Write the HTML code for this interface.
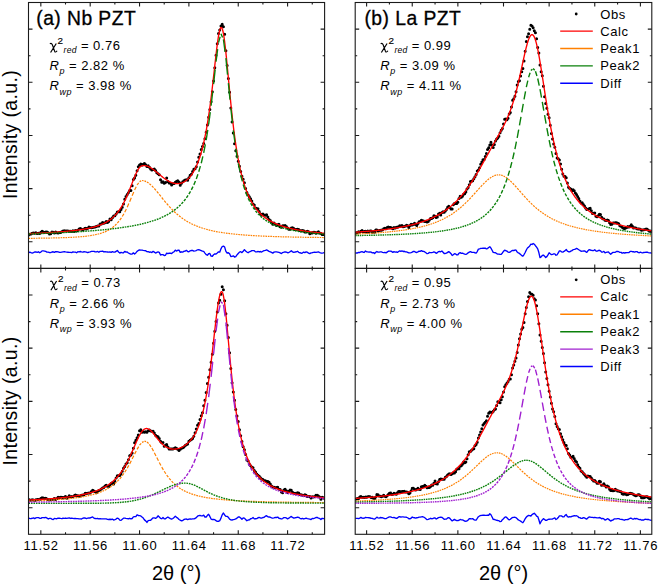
<!DOCTYPE html>
<html><head><meta charset="utf-8"><style>
html,body{margin:0;padding:0;background:#fff;width:660px;height:587px;overflow:hidden}
body{position:relative;font-family:"Liberation Sans", sans-serif}
</style></head><body>
<svg width="660" height="587" viewBox="0 0 660 587" style="position:absolute;left:0;top:0" font-family='"Liberation Sans", sans-serif' fill="#000">
<rect width="660" height="587" fill="#fff"/>
<clipPath id="c0"><rect x="28.5" y="2.5" width="296.10" height="265.90"/></clipPath>
<g clip-path="url(#c0)">
<path d="M27.00 235.12a1.5 1.5 0 1 0 3.0 0a1.5 1.5 0 1 0 -3.0 0M28.23 234.37a1.5 1.5 0 1 0 3.0 0a1.5 1.5 0 1 0 -3.0 0M29.47 233.94a1.5 1.5 0 1 0 3.0 0a1.5 1.5 0 1 0 -3.0 0M30.70 233.27a1.5 1.5 0 1 0 3.0 0a1.5 1.5 0 1 0 -3.0 0M31.93 233.00a1.5 1.5 0 1 0 3.0 0a1.5 1.5 0 1 0 -3.0 0M33.17 233.22a1.5 1.5 0 1 0 3.0 0a1.5 1.5 0 1 0 -3.0 0M34.40 232.82a1.5 1.5 0 1 0 3.0 0a1.5 1.5 0 1 0 -3.0 0M35.64 233.44a1.5 1.5 0 1 0 3.0 0a1.5 1.5 0 1 0 -3.0 0M36.87 233.30a1.5 1.5 0 1 0 3.0 0a1.5 1.5 0 1 0 -3.0 0M38.10 233.58a1.5 1.5 0 1 0 3.0 0a1.5 1.5 0 1 0 -3.0 0M39.34 232.35a1.5 1.5 0 1 0 3.0 0a1.5 1.5 0 1 0 -3.0 0M40.57 231.31a1.5 1.5 0 1 0 3.0 0a1.5 1.5 0 1 0 -3.0 0M41.81 231.94a1.5 1.5 0 1 0 3.0 0a1.5 1.5 0 1 0 -3.0 0M43.04 232.48a1.5 1.5 0 1 0 3.0 0a1.5 1.5 0 1 0 -3.0 0M44.27 231.91a1.5 1.5 0 1 0 3.0 0a1.5 1.5 0 1 0 -3.0 0M45.51 231.92a1.5 1.5 0 1 0 3.0 0a1.5 1.5 0 1 0 -3.0 0M46.74 232.69a1.5 1.5 0 1 0 3.0 0a1.5 1.5 0 1 0 -3.0 0M47.97 234.11a1.5 1.5 0 1 0 3.0 0a1.5 1.5 0 1 0 -3.0 0M49.21 233.77a1.5 1.5 0 1 0 3.0 0a1.5 1.5 0 1 0 -3.0 0M50.44 232.12a1.5 1.5 0 1 0 3.0 0a1.5 1.5 0 1 0 -3.0 0M51.67 232.32a1.5 1.5 0 1 0 3.0 0a1.5 1.5 0 1 0 -3.0 0M52.91 232.91a1.5 1.5 0 1 0 3.0 0a1.5 1.5 0 1 0 -3.0 0M54.14 231.98a1.5 1.5 0 1 0 3.0 0a1.5 1.5 0 1 0 -3.0 0M55.38 232.80a1.5 1.5 0 1 0 3.0 0a1.5 1.5 0 1 0 -3.0 0M56.61 232.90a1.5 1.5 0 1 0 3.0 0a1.5 1.5 0 1 0 -3.0 0M57.84 232.45a1.5 1.5 0 1 0 3.0 0a1.5 1.5 0 1 0 -3.0 0M59.08 232.50a1.5 1.5 0 1 0 3.0 0a1.5 1.5 0 1 0 -3.0 0M60.31 231.82a1.5 1.5 0 1 0 3.0 0a1.5 1.5 0 1 0 -3.0 0M61.55 231.10a1.5 1.5 0 1 0 3.0 0a1.5 1.5 0 1 0 -3.0 0M62.78 230.85a1.5 1.5 0 1 0 3.0 0a1.5 1.5 0 1 0 -3.0 0M64.01 231.03a1.5 1.5 0 1 0 3.0 0a1.5 1.5 0 1 0 -3.0 0M65.25 231.12a1.5 1.5 0 1 0 3.0 0a1.5 1.5 0 1 0 -3.0 0M66.48 231.11a1.5 1.5 0 1 0 3.0 0a1.5 1.5 0 1 0 -3.0 0M67.71 231.19a1.5 1.5 0 1 0 3.0 0a1.5 1.5 0 1 0 -3.0 0M68.95 231.25a1.5 1.5 0 1 0 3.0 0a1.5 1.5 0 1 0 -3.0 0M70.18 231.53a1.5 1.5 0 1 0 3.0 0a1.5 1.5 0 1 0 -3.0 0M71.41 230.78a1.5 1.5 0 1 0 3.0 0a1.5 1.5 0 1 0 -3.0 0M72.65 231.44a1.5 1.5 0 1 0 3.0 0a1.5 1.5 0 1 0 -3.0 0M73.88 230.41a1.5 1.5 0 1 0 3.0 0a1.5 1.5 0 1 0 -3.0 0M75.12 230.89a1.5 1.5 0 1 0 3.0 0a1.5 1.5 0 1 0 -3.0 0M76.35 230.31a1.5 1.5 0 1 0 3.0 0a1.5 1.5 0 1 0 -3.0 0M77.58 229.03a1.5 1.5 0 1 0 3.0 0a1.5 1.5 0 1 0 -3.0 0M78.82 228.57a1.5 1.5 0 1 0 3.0 0a1.5 1.5 0 1 0 -3.0 0M80.05 229.30a1.5 1.5 0 1 0 3.0 0a1.5 1.5 0 1 0 -3.0 0M81.29 229.93a1.5 1.5 0 1 0 3.0 0a1.5 1.5 0 1 0 -3.0 0M82.52 228.89a1.5 1.5 0 1 0 3.0 0a1.5 1.5 0 1 0 -3.0 0M83.75 228.37a1.5 1.5 0 1 0 3.0 0a1.5 1.5 0 1 0 -3.0 0M84.99 228.94a1.5 1.5 0 1 0 3.0 0a1.5 1.5 0 1 0 -3.0 0M86.22 228.34a1.5 1.5 0 1 0 3.0 0a1.5 1.5 0 1 0 -3.0 0M87.45 226.95a1.5 1.5 0 1 0 3.0 0a1.5 1.5 0 1 0 -3.0 0M88.69 227.47a1.5 1.5 0 1 0 3.0 0a1.5 1.5 0 1 0 -3.0 0M89.92 227.68a1.5 1.5 0 1 0 3.0 0a1.5 1.5 0 1 0 -3.0 0M91.15 227.59a1.5 1.5 0 1 0 3.0 0a1.5 1.5 0 1 0 -3.0 0M92.39 227.20a1.5 1.5 0 1 0 3.0 0a1.5 1.5 0 1 0 -3.0 0M93.62 226.89a1.5 1.5 0 1 0 3.0 0a1.5 1.5 0 1 0 -3.0 0M94.86 226.47a1.5 1.5 0 1 0 3.0 0a1.5 1.5 0 1 0 -3.0 0M96.09 226.03a1.5 1.5 0 1 0 3.0 0a1.5 1.5 0 1 0 -3.0 0M97.32 225.89a1.5 1.5 0 1 0 3.0 0a1.5 1.5 0 1 0 -3.0 0M98.56 223.97a1.5 1.5 0 1 0 3.0 0a1.5 1.5 0 1 0 -3.0 0M99.79 224.12a1.5 1.5 0 1 0 3.0 0a1.5 1.5 0 1 0 -3.0 0M101.03 222.46a1.5 1.5 0 1 0 3.0 0a1.5 1.5 0 1 0 -3.0 0M102.26 223.21a1.5 1.5 0 1 0 3.0 0a1.5 1.5 0 1 0 -3.0 0M103.49 222.82a1.5 1.5 0 1 0 3.0 0a1.5 1.5 0 1 0 -3.0 0M104.73 221.59a1.5 1.5 0 1 0 3.0 0a1.5 1.5 0 1 0 -3.0 0M105.96 222.59a1.5 1.5 0 1 0 3.0 0a1.5 1.5 0 1 0 -3.0 0M107.19 221.51a1.5 1.5 0 1 0 3.0 0a1.5 1.5 0 1 0 -3.0 0M108.43 218.93a1.5 1.5 0 1 0 3.0 0a1.5 1.5 0 1 0 -3.0 0M109.66 219.84a1.5 1.5 0 1 0 3.0 0a1.5 1.5 0 1 0 -3.0 0M110.89 217.83a1.5 1.5 0 1 0 3.0 0a1.5 1.5 0 1 0 -3.0 0M112.13 216.05a1.5 1.5 0 1 0 3.0 0a1.5 1.5 0 1 0 -3.0 0M113.36 215.77a1.5 1.5 0 1 0 3.0 0a1.5 1.5 0 1 0 -3.0 0M114.60 214.12a1.5 1.5 0 1 0 3.0 0a1.5 1.5 0 1 0 -3.0 0M115.83 211.95a1.5 1.5 0 1 0 3.0 0a1.5 1.5 0 1 0 -3.0 0M117.06 211.75a1.5 1.5 0 1 0 3.0 0a1.5 1.5 0 1 0 -3.0 0M118.30 211.65a1.5 1.5 0 1 0 3.0 0a1.5 1.5 0 1 0 -3.0 0M119.53 209.42a1.5 1.5 0 1 0 3.0 0a1.5 1.5 0 1 0 -3.0 0M120.77 207.27a1.5 1.5 0 1 0 3.0 0a1.5 1.5 0 1 0 -3.0 0M122.00 204.00a1.5 1.5 0 1 0 3.0 0a1.5 1.5 0 1 0 -3.0 0M123.23 199.31a1.5 1.5 0 1 0 3.0 0a1.5 1.5 0 1 0 -3.0 0M124.47 196.60a1.5 1.5 0 1 0 3.0 0a1.5 1.5 0 1 0 -3.0 0M125.70 194.56a1.5 1.5 0 1 0 3.0 0a1.5 1.5 0 1 0 -3.0 0M126.93 192.68a1.5 1.5 0 1 0 3.0 0a1.5 1.5 0 1 0 -3.0 0M128.17 190.46a1.5 1.5 0 1 0 3.0 0a1.5 1.5 0 1 0 -3.0 0M129.40 190.58a1.5 1.5 0 1 0 3.0 0a1.5 1.5 0 1 0 -3.0 0M130.63 185.73a1.5 1.5 0 1 0 3.0 0a1.5 1.5 0 1 0 -3.0 0M131.87 179.43a1.5 1.5 0 1 0 3.0 0a1.5 1.5 0 1 0 -3.0 0M133.10 177.88a1.5 1.5 0 1 0 3.0 0a1.5 1.5 0 1 0 -3.0 0M134.34 175.19a1.5 1.5 0 1 0 3.0 0a1.5 1.5 0 1 0 -3.0 0M135.57 170.76a1.5 1.5 0 1 0 3.0 0a1.5 1.5 0 1 0 -3.0 0M136.80 166.85a1.5 1.5 0 1 0 3.0 0a1.5 1.5 0 1 0 -3.0 0M138.04 164.97a1.5 1.5 0 1 0 3.0 0a1.5 1.5 0 1 0 -3.0 0M139.27 163.92a1.5 1.5 0 1 0 3.0 0a1.5 1.5 0 1 0 -3.0 0M140.51 164.88a1.5 1.5 0 1 0 3.0 0a1.5 1.5 0 1 0 -3.0 0M141.74 164.31a1.5 1.5 0 1 0 3.0 0a1.5 1.5 0 1 0 -3.0 0M142.97 163.43a1.5 1.5 0 1 0 3.0 0a1.5 1.5 0 1 0 -3.0 0M144.21 164.76a1.5 1.5 0 1 0 3.0 0a1.5 1.5 0 1 0 -3.0 0M145.44 166.59a1.5 1.5 0 1 0 3.0 0a1.5 1.5 0 1 0 -3.0 0M146.67 165.86a1.5 1.5 0 1 0 3.0 0a1.5 1.5 0 1 0 -3.0 0M147.91 167.15a1.5 1.5 0 1 0 3.0 0a1.5 1.5 0 1 0 -3.0 0M149.14 169.02a1.5 1.5 0 1 0 3.0 0a1.5 1.5 0 1 0 -3.0 0M150.37 170.10a1.5 1.5 0 1 0 3.0 0a1.5 1.5 0 1 0 -3.0 0M151.61 169.51a1.5 1.5 0 1 0 3.0 0a1.5 1.5 0 1 0 -3.0 0M152.84 169.12a1.5 1.5 0 1 0 3.0 0a1.5 1.5 0 1 0 -3.0 0M154.08 170.41a1.5 1.5 0 1 0 3.0 0a1.5 1.5 0 1 0 -3.0 0M155.31 172.77a1.5 1.5 0 1 0 3.0 0a1.5 1.5 0 1 0 -3.0 0M156.54 173.86a1.5 1.5 0 1 0 3.0 0a1.5 1.5 0 1 0 -3.0 0M157.78 174.69a1.5 1.5 0 1 0 3.0 0a1.5 1.5 0 1 0 -3.0 0M159.01 179.76a1.5 1.5 0 1 0 3.0 0a1.5 1.5 0 1 0 -3.0 0M160.25 182.28a1.5 1.5 0 1 0 3.0 0a1.5 1.5 0 1 0 -3.0 0M161.48 181.70a1.5 1.5 0 1 0 3.0 0a1.5 1.5 0 1 0 -3.0 0M162.71 183.28a1.5 1.5 0 1 0 3.0 0a1.5 1.5 0 1 0 -3.0 0M163.95 182.40a1.5 1.5 0 1 0 3.0 0a1.5 1.5 0 1 0 -3.0 0M165.18 178.00a1.5 1.5 0 1 0 3.0 0a1.5 1.5 0 1 0 -3.0 0M166.41 181.52a1.5 1.5 0 1 0 3.0 0a1.5 1.5 0 1 0 -3.0 0M167.65 183.11a1.5 1.5 0 1 0 3.0 0a1.5 1.5 0 1 0 -3.0 0M168.88 183.34a1.5 1.5 0 1 0 3.0 0a1.5 1.5 0 1 0 -3.0 0M170.11 184.88a1.5 1.5 0 1 0 3.0 0a1.5 1.5 0 1 0 -3.0 0M171.35 183.70a1.5 1.5 0 1 0 3.0 0a1.5 1.5 0 1 0 -3.0 0M172.58 183.42a1.5 1.5 0 1 0 3.0 0a1.5 1.5 0 1 0 -3.0 0M173.82 182.25a1.5 1.5 0 1 0 3.0 0a1.5 1.5 0 1 0 -3.0 0M175.05 181.60a1.5 1.5 0 1 0 3.0 0a1.5 1.5 0 1 0 -3.0 0M176.28 180.82a1.5 1.5 0 1 0 3.0 0a1.5 1.5 0 1 0 -3.0 0M177.52 181.99a1.5 1.5 0 1 0 3.0 0a1.5 1.5 0 1 0 -3.0 0M178.75 185.24a1.5 1.5 0 1 0 3.0 0a1.5 1.5 0 1 0 -3.0 0M179.99 183.30a1.5 1.5 0 1 0 3.0 0a1.5 1.5 0 1 0 -3.0 0M181.22 181.76a1.5 1.5 0 1 0 3.0 0a1.5 1.5 0 1 0 -3.0 0M182.45 180.86a1.5 1.5 0 1 0 3.0 0a1.5 1.5 0 1 0 -3.0 0M183.69 179.89a1.5 1.5 0 1 0 3.0 0a1.5 1.5 0 1 0 -3.0 0M184.92 179.85a1.5 1.5 0 1 0 3.0 0a1.5 1.5 0 1 0 -3.0 0M186.15 180.37a1.5 1.5 0 1 0 3.0 0a1.5 1.5 0 1 0 -3.0 0M187.39 177.69a1.5 1.5 0 1 0 3.0 0a1.5 1.5 0 1 0 -3.0 0M188.62 175.21a1.5 1.5 0 1 0 3.0 0a1.5 1.5 0 1 0 -3.0 0M189.85 174.29a1.5 1.5 0 1 0 3.0 0a1.5 1.5 0 1 0 -3.0 0M191.09 171.44a1.5 1.5 0 1 0 3.0 0a1.5 1.5 0 1 0 -3.0 0M192.32 169.19a1.5 1.5 0 1 0 3.0 0a1.5 1.5 0 1 0 -3.0 0M193.56 168.83a1.5 1.5 0 1 0 3.0 0a1.5 1.5 0 1 0 -3.0 0M194.79 166.86a1.5 1.5 0 1 0 3.0 0a1.5 1.5 0 1 0 -3.0 0M196.02 161.88a1.5 1.5 0 1 0 3.0 0a1.5 1.5 0 1 0 -3.0 0M197.26 157.25a1.5 1.5 0 1 0 3.0 0a1.5 1.5 0 1 0 -3.0 0M198.49 153.99a1.5 1.5 0 1 0 3.0 0a1.5 1.5 0 1 0 -3.0 0M199.73 149.47a1.5 1.5 0 1 0 3.0 0a1.5 1.5 0 1 0 -3.0 0M200.96 146.48a1.5 1.5 0 1 0 3.0 0a1.5 1.5 0 1 0 -3.0 0M202.19 143.44a1.5 1.5 0 1 0 3.0 0a1.5 1.5 0 1 0 -3.0 0M203.43 138.70a1.5 1.5 0 1 0 3.0 0a1.5 1.5 0 1 0 -3.0 0M204.66 132.23a1.5 1.5 0 1 0 3.0 0a1.5 1.5 0 1 0 -3.0 0M205.89 124.93a1.5 1.5 0 1 0 3.0 0a1.5 1.5 0 1 0 -3.0 0M207.13 117.36a1.5 1.5 0 1 0 3.0 0a1.5 1.5 0 1 0 -3.0 0M208.36 109.46a1.5 1.5 0 1 0 3.0 0a1.5 1.5 0 1 0 -3.0 0M209.59 101.68a1.5 1.5 0 1 0 3.0 0a1.5 1.5 0 1 0 -3.0 0M210.83 91.79a1.5 1.5 0 1 0 3.0 0a1.5 1.5 0 1 0 -3.0 0M212.06 81.07a1.5 1.5 0 1 0 3.0 0a1.5 1.5 0 1 0 -3.0 0M213.30 67.81a1.5 1.5 0 1 0 3.0 0a1.5 1.5 0 1 0 -3.0 0M214.53 55.15a1.5 1.5 0 1 0 3.0 0a1.5 1.5 0 1 0 -3.0 0M215.76 43.78a1.5 1.5 0 1 0 3.0 0a1.5 1.5 0 1 0 -3.0 0M217.00 33.41a1.5 1.5 0 1 0 3.0 0a1.5 1.5 0 1 0 -3.0 0M218.23 29.91a1.5 1.5 0 1 0 3.0 0a1.5 1.5 0 1 0 -3.0 0M219.47 26.08a1.5 1.5 0 1 0 3.0 0a1.5 1.5 0 1 0 -3.0 0M220.70 24.29a1.5 1.5 0 1 0 3.0 0a1.5 1.5 0 1 0 -3.0 0M221.93 26.72a1.5 1.5 0 1 0 3.0 0a1.5 1.5 0 1 0 -3.0 0M223.17 34.27a1.5 1.5 0 1 0 3.0 0a1.5 1.5 0 1 0 -3.0 0M224.40 50.74a1.5 1.5 0 1 0 3.0 0a1.5 1.5 0 1 0 -3.0 0M225.63 65.45a1.5 1.5 0 1 0 3.0 0a1.5 1.5 0 1 0 -3.0 0M226.87 78.43a1.5 1.5 0 1 0 3.0 0a1.5 1.5 0 1 0 -3.0 0M228.10 92.18a1.5 1.5 0 1 0 3.0 0a1.5 1.5 0 1 0 -3.0 0M229.33 107.90a1.5 1.5 0 1 0 3.0 0a1.5 1.5 0 1 0 -3.0 0M230.57 121.98a1.5 1.5 0 1 0 3.0 0a1.5 1.5 0 1 0 -3.0 0M231.80 133.07a1.5 1.5 0 1 0 3.0 0a1.5 1.5 0 1 0 -3.0 0M233.04 143.78a1.5 1.5 0 1 0 3.0 0a1.5 1.5 0 1 0 -3.0 0M234.27 150.64a1.5 1.5 0 1 0 3.0 0a1.5 1.5 0 1 0 -3.0 0M235.50 156.19a1.5 1.5 0 1 0 3.0 0a1.5 1.5 0 1 0 -3.0 0M236.74 161.35a1.5 1.5 0 1 0 3.0 0a1.5 1.5 0 1 0 -3.0 0M237.97 166.33a1.5 1.5 0 1 0 3.0 0a1.5 1.5 0 1 0 -3.0 0M239.21 171.55a1.5 1.5 0 1 0 3.0 0a1.5 1.5 0 1 0 -3.0 0M240.44 176.33a1.5 1.5 0 1 0 3.0 0a1.5 1.5 0 1 0 -3.0 0M241.67 179.35a1.5 1.5 0 1 0 3.0 0a1.5 1.5 0 1 0 -3.0 0M242.91 182.72a1.5 1.5 0 1 0 3.0 0a1.5 1.5 0 1 0 -3.0 0M244.14 188.39a1.5 1.5 0 1 0 3.0 0a1.5 1.5 0 1 0 -3.0 0M245.37 192.38a1.5 1.5 0 1 0 3.0 0a1.5 1.5 0 1 0 -3.0 0M246.61 195.07a1.5 1.5 0 1 0 3.0 0a1.5 1.5 0 1 0 -3.0 0M247.84 196.83a1.5 1.5 0 1 0 3.0 0a1.5 1.5 0 1 0 -3.0 0M249.07 198.64a1.5 1.5 0 1 0 3.0 0a1.5 1.5 0 1 0 -3.0 0M250.31 201.06a1.5 1.5 0 1 0 3.0 0a1.5 1.5 0 1 0 -3.0 0M251.54 203.97a1.5 1.5 0 1 0 3.0 0a1.5 1.5 0 1 0 -3.0 0M252.78 205.04a1.5 1.5 0 1 0 3.0 0a1.5 1.5 0 1 0 -3.0 0M254.01 208.00a1.5 1.5 0 1 0 3.0 0a1.5 1.5 0 1 0 -3.0 0M255.24 208.47a1.5 1.5 0 1 0 3.0 0a1.5 1.5 0 1 0 -3.0 0M256.48 208.76a1.5 1.5 0 1 0 3.0 0a1.5 1.5 0 1 0 -3.0 0M257.71 211.56a1.5 1.5 0 1 0 3.0 0a1.5 1.5 0 1 0 -3.0 0M258.95 214.07a1.5 1.5 0 1 0 3.0 0a1.5 1.5 0 1 0 -3.0 0M260.18 215.12a1.5 1.5 0 1 0 3.0 0a1.5 1.5 0 1 0 -3.0 0M261.41 214.05a1.5 1.5 0 1 0 3.0 0a1.5 1.5 0 1 0 -3.0 0M262.65 215.11a1.5 1.5 0 1 0 3.0 0a1.5 1.5 0 1 0 -3.0 0M263.88 215.20a1.5 1.5 0 1 0 3.0 0a1.5 1.5 0 1 0 -3.0 0M265.11 214.71a1.5 1.5 0 1 0 3.0 0a1.5 1.5 0 1 0 -3.0 0M266.35 216.99a1.5 1.5 0 1 0 3.0 0a1.5 1.5 0 1 0 -3.0 0M267.58 219.41a1.5 1.5 0 1 0 3.0 0a1.5 1.5 0 1 0 -3.0 0M268.81 220.57a1.5 1.5 0 1 0 3.0 0a1.5 1.5 0 1 0 -3.0 0M270.05 222.63a1.5 1.5 0 1 0 3.0 0a1.5 1.5 0 1 0 -3.0 0M271.28 224.15a1.5 1.5 0 1 0 3.0 0a1.5 1.5 0 1 0 -3.0 0M272.52 223.12a1.5 1.5 0 1 0 3.0 0a1.5 1.5 0 1 0 -3.0 0M273.75 224.36a1.5 1.5 0 1 0 3.0 0a1.5 1.5 0 1 0 -3.0 0M274.98 225.53a1.5 1.5 0 1 0 3.0 0a1.5 1.5 0 1 0 -3.0 0M276.22 224.68a1.5 1.5 0 1 0 3.0 0a1.5 1.5 0 1 0 -3.0 0M277.45 224.37a1.5 1.5 0 1 0 3.0 0a1.5 1.5 0 1 0 -3.0 0M278.69 226.73a1.5 1.5 0 1 0 3.0 0a1.5 1.5 0 1 0 -3.0 0M279.92 227.29a1.5 1.5 0 1 0 3.0 0a1.5 1.5 0 1 0 -3.0 0M281.15 225.67a1.5 1.5 0 1 0 3.0 0a1.5 1.5 0 1 0 -3.0 0M282.39 225.77a1.5 1.5 0 1 0 3.0 0a1.5 1.5 0 1 0 -3.0 0M283.62 225.55a1.5 1.5 0 1 0 3.0 0a1.5 1.5 0 1 0 -3.0 0M284.85 226.39a1.5 1.5 0 1 0 3.0 0a1.5 1.5 0 1 0 -3.0 0M286.09 227.97a1.5 1.5 0 1 0 3.0 0a1.5 1.5 0 1 0 -3.0 0M287.32 229.29a1.5 1.5 0 1 0 3.0 0a1.5 1.5 0 1 0 -3.0 0M288.55 229.32a1.5 1.5 0 1 0 3.0 0a1.5 1.5 0 1 0 -3.0 0M289.79 228.11a1.5 1.5 0 1 0 3.0 0a1.5 1.5 0 1 0 -3.0 0M291.02 227.84a1.5 1.5 0 1 0 3.0 0a1.5 1.5 0 1 0 -3.0 0M292.26 228.50a1.5 1.5 0 1 0 3.0 0a1.5 1.5 0 1 0 -3.0 0M293.49 229.38a1.5 1.5 0 1 0 3.0 0a1.5 1.5 0 1 0 -3.0 0M294.72 229.42a1.5 1.5 0 1 0 3.0 0a1.5 1.5 0 1 0 -3.0 0M295.96 229.24a1.5 1.5 0 1 0 3.0 0a1.5 1.5 0 1 0 -3.0 0M297.19 229.60a1.5 1.5 0 1 0 3.0 0a1.5 1.5 0 1 0 -3.0 0M298.43 230.45a1.5 1.5 0 1 0 3.0 0a1.5 1.5 0 1 0 -3.0 0M299.66 231.00a1.5 1.5 0 1 0 3.0 0a1.5 1.5 0 1 0 -3.0 0M300.89 230.59a1.5 1.5 0 1 0 3.0 0a1.5 1.5 0 1 0 -3.0 0M302.13 230.83a1.5 1.5 0 1 0 3.0 0a1.5 1.5 0 1 0 -3.0 0M303.36 231.96a1.5 1.5 0 1 0 3.0 0a1.5 1.5 0 1 0 -3.0 0M304.59 232.04a1.5 1.5 0 1 0 3.0 0a1.5 1.5 0 1 0 -3.0 0M305.83 231.26a1.5 1.5 0 1 0 3.0 0a1.5 1.5 0 1 0 -3.0 0M307.06 231.83a1.5 1.5 0 1 0 3.0 0a1.5 1.5 0 1 0 -3.0 0M308.29 233.80a1.5 1.5 0 1 0 3.0 0a1.5 1.5 0 1 0 -3.0 0M309.53 233.00a1.5 1.5 0 1 0 3.0 0a1.5 1.5 0 1 0 -3.0 0M310.76 232.91a1.5 1.5 0 1 0 3.0 0a1.5 1.5 0 1 0 -3.0 0M312.00 232.34a1.5 1.5 0 1 0 3.0 0a1.5 1.5 0 1 0 -3.0 0M313.23 232.28a1.5 1.5 0 1 0 3.0 0a1.5 1.5 0 1 0 -3.0 0M314.46 233.37a1.5 1.5 0 1 0 3.0 0a1.5 1.5 0 1 0 -3.0 0M315.70 232.50a1.5 1.5 0 1 0 3.0 0a1.5 1.5 0 1 0 -3.0 0M316.93 231.87a1.5 1.5 0 1 0 3.0 0a1.5 1.5 0 1 0 -3.0 0M318.17 233.01a1.5 1.5 0 1 0 3.0 0a1.5 1.5 0 1 0 -3.0 0M319.40 233.58a1.5 1.5 0 1 0 3.0 0a1.5 1.5 0 1 0 -3.0 0M320.63 234.38a1.5 1.5 0 1 0 3.0 0a1.5 1.5 0 1 0 -3.0 0M321.87 234.59a1.5 1.5 0 1 0 3.0 0a1.5 1.5 0 1 0 -3.0 0M323.10 234.32a1.5 1.5 0 1 0 3.0 0a1.5 1.5 0 1 0 -3.0 0" fill="#000"/>
<path d="M28.50 233.64L29.00 233.62L29.50 233.60L30.00 233.57L30.50 233.55L31.00 233.53L31.50 233.51L32.00 233.49L32.50 233.47L33.00 233.45L33.50 233.42L34.00 233.40L34.50 233.38L35.00 233.36L35.50 233.33L36.00 233.31L36.50 233.29L37.00 233.26L37.50 233.24L38.00 233.22L38.50 233.19L39.00 233.17L39.50 233.14L40.00 233.12L40.50 233.09L41.00 233.07L41.50 233.04L42.00 233.02L42.50 232.99L43.00 232.96L43.51 232.94L44.01 232.91L44.51 232.88L45.01 232.85L45.51 232.83L46.01 232.80L46.51 232.77L47.01 232.74L47.51 232.71L48.01 232.68L48.51 232.65L49.01 232.63L49.51 232.59L50.01 232.56L50.51 232.53L51.01 232.50L51.51 232.47L52.01 232.44L52.51 232.41L53.01 232.37L53.51 232.34L54.01 232.31L54.51 232.27L55.01 232.24L55.51 232.21L56.01 232.17L56.51 232.14L57.01 232.10L57.51 232.06L58.01 232.03L58.51 231.99L59.01 231.95L59.51 231.91L60.01 231.88L60.51 231.84L61.01 231.80L61.51 231.76L62.01 231.72L62.51 231.68L63.01 231.63L63.51 231.59L64.01 231.55L64.51 231.51L65.01 231.46L65.51 231.42L66.01 231.37L66.51 231.33L67.01 231.28L67.51 231.23L68.01 231.18L68.51 231.13L69.01 231.09L69.51 231.04L70.01 230.98L70.51 230.93L71.01 230.88L71.51 230.83L72.01 230.77L72.51 230.72L73.02 230.66L73.52 230.60L74.02 230.55L74.52 230.49L75.02 230.43L75.52 230.36L76.02 230.30L76.52 230.24L77.02 230.18L77.52 230.11L78.02 230.04L78.52 229.97L79.02 229.91L79.52 229.83L80.02 229.76L80.52 229.69L81.02 229.61L81.52 229.54L82.02 229.46L82.52 229.38L83.02 229.30L83.52 229.22L84.02 229.13L84.52 229.05L85.02 228.96L85.52 228.87L86.02 228.78L86.52 228.68L87.02 228.59L87.52 228.49L88.02 228.39L88.52 228.29L89.02 228.18L89.52 228.07L90.02 227.96L90.52 227.85L91.02 227.73L91.52 227.62L92.02 227.49L92.52 227.37L93.02 227.24L93.52 227.11L94.02 226.98L94.52 226.84L95.02 226.70L95.52 226.55L96.02 226.40L96.52 226.25L97.02 226.09L97.52 225.93L98.02 225.76L98.52 225.59L99.02 225.41L99.52 225.23L100.02 225.05L100.52 224.85L101.02 224.65L101.52 224.45L102.02 224.24L102.52 224.02L103.03 223.80L103.53 223.56L104.03 223.33L104.53 223.08L105.03 222.82L105.53 222.56L106.03 222.29L106.53 222.01L107.03 221.72L107.53 221.42L108.03 221.10L108.53 220.78L109.03 220.45L109.53 220.10L110.03 219.75L110.53 219.38L111.03 218.99L111.53 218.60L112.03 218.19L112.53 217.76L113.03 217.32L113.53 216.86L114.03 216.38L114.53 215.89L115.03 215.38L115.53 214.85L116.03 214.30L116.53 213.73L117.03 213.14L117.53 212.53L118.03 211.89L118.53 211.23L119.03 210.55L119.53 209.84L120.03 209.11L120.53 208.35L121.03 207.56L121.53 206.74L122.03 205.90L122.53 205.03L123.03 204.13L123.53 203.20L124.03 202.24L124.53 201.25L125.03 200.23L125.53 199.18L126.03 198.10L126.53 196.99L127.03 195.86L127.53 194.69L128.03 193.51L128.53 192.30L129.03 191.06L129.53 189.81L130.03 188.54L130.53 187.26L131.03 185.97L131.53 184.67L132.03 183.37L132.54 182.07L133.04 180.78L133.54 179.51L134.04 178.25L134.54 177.02L135.04 175.82L135.54 174.66L136.04 173.54L136.54 172.47L137.04 171.47L137.54 170.52L138.04 169.65L138.54 168.86L139.04 168.14L139.54 167.52L140.04 166.99L140.54 166.55L141.04 166.21L141.54 165.97L142.04 165.82L142.54 165.73L143.04 165.66L143.54 165.62L144.04 165.61L144.54 165.62L145.04 165.66L145.54 165.72L146.04 165.82L146.54 165.93L147.04 166.07L147.54 166.23L148.04 166.42L148.54 166.63L149.04 166.86L149.54 167.10L150.04 167.37L150.54 167.65L151.04 167.96L151.54 168.27L152.04 168.60L152.54 168.95L153.04 169.31L153.54 169.67L154.04 170.05L154.54 170.44L155.04 170.84L155.54 171.24L156.04 171.65L156.54 172.06L157.04 172.48L157.54 172.90L158.04 173.32L158.54 173.74L159.04 174.16L159.54 174.58L160.04 175.00L160.54 175.41L161.04 175.82L161.54 176.23L162.05 176.63L162.55 177.03L163.05 177.42L163.55 177.80L164.05 178.17L164.55 178.54L165.05 178.90L165.55 179.24L166.05 179.58L166.55 179.91L167.05 180.22L167.55 180.52L168.05 180.81L168.55 181.09L169.05 181.36L169.55 181.61L170.05 181.85L170.55 182.08L171.05 182.29L171.55 182.49L172.05 182.67L172.55 182.84L173.05 182.99L173.55 183.12L174.05 183.24L174.55 183.35L175.05 183.44L175.55 183.51L176.05 183.56L176.55 183.60L177.05 183.62L177.55 183.62L178.05 183.60L178.55 183.57L179.05 183.51L179.55 183.44L180.05 183.34L180.55 183.23L181.05 183.10L181.55 182.95L182.05 182.77L182.55 182.58L183.05 182.36L183.55 182.12L184.05 181.86L184.55 181.57L185.05 181.26L185.55 180.93L186.05 180.57L186.55 180.19L187.05 179.78L187.55 179.34L188.05 178.87L188.55 178.38L189.05 177.86L189.55 177.30L190.05 176.72L190.55 176.10L191.05 175.45L191.56 174.76L192.06 174.04L192.56 173.28L193.06 172.48L193.56 171.65L194.06 170.77L194.56 169.85L195.06 168.88L195.56 167.87L196.06 166.81L196.56 165.69L197.06 164.53L197.56 163.31L198.06 162.03L198.56 160.69L199.06 159.30L199.56 157.83L200.06 156.30L200.56 154.69L201.06 153.01L201.56 151.26L202.06 149.42L202.56 147.50L203.06 145.48L203.56 143.38L204.06 141.18L204.56 138.87L205.06 136.46L205.56 133.94L206.06 131.31L206.56 128.56L207.06 125.69L207.56 122.69L208.06 119.57L208.56 116.31L209.06 112.92L209.56 109.39L210.06 105.73L210.56 101.93L211.06 98.00L211.56 93.95L212.06 89.78L212.56 85.51L213.06 81.14L213.56 76.70L214.06 72.20L214.56 67.69L215.06 63.18L215.56 58.72L216.06 54.34L216.56 50.11L217.06 46.08L217.56 42.29L218.06 38.81L218.56 35.70L219.06 33.02L219.56 30.82L220.06 29.14L220.56 28.03L221.07 27.51L221.57 27.60L222.07 28.35L222.57 29.75L223.07 31.78L223.57 34.39L224.07 37.53L224.57 41.16L225.07 45.21L225.57 49.62L226.07 54.32L226.57 59.25L227.07 64.35L227.57 69.56L228.07 74.84L228.57 80.14L229.07 85.41L229.57 90.64L230.07 95.78L230.57 100.81L231.07 105.73L231.57 110.50L232.07 115.13L232.57 119.61L233.07 123.92L233.57 128.07L234.07 132.07L234.57 135.90L235.07 139.57L235.57 143.09L236.07 146.46L236.57 149.68L237.07 152.76L237.57 155.70L238.07 158.51L238.57 161.20L239.07 163.77L239.57 166.23L240.07 168.57L240.57 170.81L241.07 172.95L241.57 175.00L242.07 176.96L242.57 178.83L243.07 180.63L243.57 182.34L244.07 183.99L244.57 185.56L245.07 187.07L245.57 188.52L246.07 189.91L246.57 191.24L247.07 192.51L247.57 193.74L248.07 194.92L248.57 196.05L249.07 197.14L249.57 198.19L250.07 199.20L250.57 200.17L251.08 201.10L251.58 202.00L252.08 202.87L252.58 203.70L253.08 204.51L253.58 205.29L254.08 206.04L254.58 206.76L255.08 207.46L255.58 208.14L256.08 208.80L256.58 209.43L257.08 210.04L257.58 210.63L258.08 211.21L258.58 211.76L259.08 212.30L259.58 212.82L260.08 213.33L260.58 213.82L261.08 214.29L261.58 214.76L262.08 215.20L262.58 215.64L263.08 216.06L263.58 216.47L264.08 216.87L264.58 217.26L265.08 217.63L265.58 218.00L266.08 218.36L266.58 218.70L267.08 219.04L267.58 219.37L268.08 219.69L268.58 220.00L269.08 220.30L269.58 220.60L270.08 220.89L270.58 221.17L271.08 221.44L271.58 221.71L272.08 221.97L272.58 222.23L273.08 222.47L273.58 222.72L274.08 222.95L274.58 223.18L275.08 223.41L275.58 223.63L276.08 223.85L276.58 224.06L277.08 224.26L277.58 224.46L278.08 224.66L278.58 224.85L279.08 225.04L279.58 225.23L280.08 225.41L280.59 225.58L281.09 225.76L281.59 225.92L282.09 226.09L282.59 226.25L283.09 226.41L283.59 226.57L284.09 226.72L284.59 226.87L285.09 227.02L285.59 227.16L286.09 227.30L286.59 227.44L287.09 227.57L287.59 227.71L288.09 227.84L288.59 227.97L289.09 228.09L289.59 228.21L290.09 228.33L290.59 228.45L291.09 228.57L291.59 228.68L292.09 228.80L292.59 228.91L293.09 229.01L293.59 229.12L294.09 229.23L294.59 229.33L295.09 229.43L295.59 229.53L296.09 229.63L296.59 229.72L297.09 229.82L297.59 229.91L298.09 230.00L298.59 230.09L299.09 230.18L299.59 230.26L300.09 230.35L300.59 230.43L301.09 230.51L301.59 230.60L302.09 230.68L302.59 230.75L303.09 230.83L303.59 230.91L304.09 230.98L304.59 231.06L305.09 231.13L305.59 231.20L306.09 231.27L306.59 231.34L307.09 231.41L307.59 231.48L308.09 231.54L308.59 231.61L309.09 231.67L309.59 231.73L310.10 231.80L310.60 231.86L311.10 231.92L311.60 231.98L312.10 232.04L312.60 232.10L313.10 232.15L313.60 232.21L314.10 232.27L314.60 232.32L315.10 232.37L315.60 232.43L316.10 232.48L316.60 232.53L317.10 232.58L317.60 232.63L318.10 232.68L318.60 232.73L319.10 232.78L319.60 232.83L320.10 232.88L320.60 232.92L321.10 232.97L321.60 233.01L322.10 233.06L322.60 233.10L323.10 233.15L323.60 233.19L324.10 233.23L324.60 233.28" stroke="#ff0000" stroke-width="1.35" fill="none" stroke-linejoin="round"/>
<path d="M28.50 238.33L30.13 238.32M30.97 238.31L32.60 238.29M33.43 238.28L35.06 238.26M35.90 238.25L37.53 238.23M38.37 238.22L40.00 238.20M40.84 238.19L42.47 238.17M43.31 238.15L44.93 238.13M45.77 238.11L47.40 238.08M48.24 238.07L49.87 238.04M50.71 238.02L52.34 237.98M53.17 237.97L54.80 237.93M55.64 237.91L57.27 237.86M58.11 237.84L59.74 237.79M60.58 237.77L62.21 237.72M63.05 237.69L64.67 237.63M65.51 237.60L67.14 237.53M67.98 237.50L69.61 237.42M70.45 237.38L72.08 237.30M72.91 237.25L74.54 237.16M75.38 237.11L77.01 237.00M77.85 236.94L79.48 236.81M80.32 236.75L81.95 236.60M82.79 236.53L84.41 236.36M85.25 236.28L86.88 236.08M87.72 235.98L89.35 235.76M90.19 235.64L91.82 235.38M92.65 235.25L94.28 234.94M95.12 234.78L96.75 234.41M97.59 234.23L99.22 233.79M100.06 233.57L101.69 233.05M102.53 232.79L104.15 232.16M104.99 231.84L106.62 231.10M107.46 230.71L109.09 229.81M109.93 229.34L111.56 228.24M112.39 227.67L114.02 226.33M114.86 225.64L116.49 224.01M117.33 223.17L118.96 221.19M119.80 220.17L121.43 217.79M122.27 216.56L123.89 213.73M124.73 212.27L126.36 208.98M127.20 207.28L128.83 203.60M129.67 201.70L131.30 197.78M132.13 195.77L133.76 191.94M134.60 189.97L136.23 186.70M137.07 185.01L138.70 182.79M139.54 181.65L141.17 180.91M142.01 180.53L143.63 180.78M144.47 180.91L146.10 181.62M146.94 181.99L148.57 183.10M149.41 183.68L151.04 185.14M151.87 185.89L153.50 187.61M154.34 188.50L155.97 190.40M156.81 191.38L158.44 193.38M159.28 194.41L160.91 196.45M161.75 197.50L163.37 199.52M164.21 200.56L165.84 202.51M166.68 203.51L168.31 205.37M169.15 206.33L170.78 208.08M171.61 208.98L173.24 210.60M174.08 211.44L175.71 212.94M176.55 213.71L178.18 215.08M179.02 215.79L180.65 217.05M181.49 217.69L183.11 218.83M183.95 219.42L185.58 220.46M186.42 220.99L188.05 221.93M188.89 222.41L190.52 223.26M191.35 223.70L192.98 224.47M193.82 224.87L195.45 225.57M196.29 225.93L197.92 226.56M198.76 226.88L200.39 227.46M201.23 227.75L202.85 228.27M203.69 228.54L205.32 229.01M206.16 229.26L207.79 229.69M208.63 229.91L210.26 230.30M211.09 230.50L212.72 230.86M213.56 231.04L215.19 231.37M216.03 231.54L217.66 231.84M218.50 231.99L220.13 232.26M220.97 232.40L222.59 232.65M223.43 232.78L225.06 233.01M225.90 233.13L227.53 233.34M228.37 233.45L230.00 233.65M230.83 233.75L232.46 233.93M233.30 234.02L234.93 234.19M235.77 234.27L237.40 234.43M238.24 234.51L239.87 234.65M240.71 234.72L242.33 234.86M243.17 234.92L244.80 235.05M245.64 235.11L247.27 235.22M248.11 235.28L249.74 235.39M250.57 235.44L252.20 235.54M253.04 235.59L254.67 235.69M255.51 235.73L257.14 235.82M257.98 235.86L259.61 235.95M260.45 235.99L262.07 236.06M262.91 236.10L264.54 236.17M265.38 236.21L267.01 236.28M267.85 236.31L269.48 236.37M270.31 236.40L271.94 236.46M272.78 236.49L274.41 236.55M275.25 236.58L276.88 236.63M277.72 236.66L279.35 236.70M280.19 236.73L281.81 236.78M282.65 236.80L284.28 236.84M285.12 236.86L286.75 236.91M287.59 236.93L289.22 236.97M290.05 236.99L291.68 237.02M292.52 237.04L294.15 237.08M294.99 237.09L296.62 237.13M297.46 237.14L299.09 237.18M299.93 237.19L301.55 237.22M302.39 237.24L304.02 237.26M304.86 237.28L306.49 237.31M307.33 237.32L308.96 237.34M309.79 237.36L311.42 237.38M312.26 237.39L313.89 237.42M314.73 237.43L316.36 237.45M317.20 237.46L318.83 237.48M319.67 237.49L321.29 237.51M322.13 237.52L323.76 237.54" stroke="#ff8000" stroke-width="1.2" fill="none"/>
<path d="M28.50 233.98L30.13 233.93M30.97 233.90L32.60 233.85M33.43 233.82L35.06 233.76M35.90 233.73L37.53 233.67M38.37 233.64L40.00 233.58M40.84 233.55L42.47 233.49M43.31 233.46L44.93 233.40M45.77 233.36L47.40 233.30M48.24 233.26L49.87 233.20M50.71 233.16L52.34 233.09M53.17 233.06L54.80 232.98M55.64 232.95L57.27 232.87M58.11 232.83L59.74 232.76M60.58 232.72L62.21 232.64M63.05 232.59L64.67 232.51M65.51 232.47L67.14 232.38M67.98 232.34L69.61 232.25M70.45 232.20L72.08 232.11M72.91 232.06L74.54 231.97M75.38 231.92L77.01 231.82M77.85 231.77L79.48 231.66M80.32 231.61L81.95 231.50M82.79 231.45L84.41 231.33M85.25 231.28L86.88 231.16M87.72 231.10L89.35 230.98M90.19 230.91L91.82 230.79M92.65 230.72L94.28 230.59M95.12 230.52L96.75 230.38M97.59 230.31L99.22 230.16M100.06 230.09L101.69 229.94M102.53 229.86L104.15 229.70M104.99 229.62L106.62 229.45M107.46 229.36L109.09 229.19M109.93 229.10L111.56 228.91M112.39 228.82L114.02 228.63M114.86 228.53L116.49 228.32M117.33 228.22L118.96 228.00M119.80 227.89L121.43 227.66M122.27 227.54L123.89 227.30M124.73 227.18L126.36 226.92M127.20 226.79L128.83 226.52M129.67 226.38L131.30 226.09M132.13 225.95L133.76 225.64M134.60 225.48L136.23 225.16M137.07 224.99L138.70 224.64M139.54 224.46L141.17 224.09M142.01 223.90L143.63 223.50M144.47 223.29L146.10 222.87M146.94 222.64L148.57 222.18M149.41 221.94L151.04 221.45M151.87 221.19L153.50 220.65M154.34 220.37L155.97 219.79M156.81 219.49L158.44 218.85M159.28 218.52L160.91 217.83M161.75 217.47L163.37 216.71M164.21 216.32L165.84 215.48M166.68 215.05L168.31 214.13M169.15 213.66L170.78 212.63M171.61 212.11L173.24 210.97M174.08 210.38L175.71 209.11M176.55 208.46L178.18 207.03M179.02 206.29L180.65 204.68M181.49 203.84L183.11 202.00M183.95 201.06L185.58 198.95M186.42 197.86L188.05 195.43M188.89 194.18L190.52 191.35M191.35 189.90L192.98 186.58M193.82 184.87L195.45 180.94M196.29 178.92L197.92 174.23M198.76 171.81L200.39 166.15M201.23 163.24L202.85 156.35M203.69 152.81L205.32 144.40M206.16 140.06L207.79 129.79M208.63 124.50L210.26 112.15M211.09 105.78L212.72 91.54M213.56 84.20L215.19 69.31M216.03 61.64L217.66 49.10M218.50 42.64L220.13 36.74M220.97 33.70L222.59 37.45M223.43 39.39L225.06 51.76M225.90 58.13L227.53 74.61M228.37 83.10L230.00 99.69M230.83 108.23L232.46 122.85M233.30 130.39L234.93 142.48M235.77 148.71L237.40 158.43M238.24 163.44L239.87 171.20M240.71 175.19L242.33 181.39M243.17 184.58L244.80 189.55M245.64 192.12L247.27 196.15M248.11 198.23L249.74 201.54M250.57 203.24L252.20 205.97M253.04 207.38L254.67 209.66M255.51 210.83L257.14 212.75M257.98 213.74L259.61 215.37M260.45 216.21L262.07 217.61M262.91 218.33L264.54 219.53M265.38 220.15L267.01 221.20M267.85 221.73L269.48 222.65M270.31 223.12L271.94 223.92M272.78 224.33L274.41 225.04M275.25 225.41L276.88 226.03M277.72 226.36L279.35 226.92M280.19 227.21L281.81 227.71M282.65 227.97L284.28 228.42M285.12 228.65L286.75 229.06M287.59 229.27L289.22 229.64M290.05 229.83L291.68 230.16M292.52 230.34L294.15 230.64M294.99 230.80L296.62 231.08M297.46 231.22L299.09 231.48M299.93 231.61L301.55 231.84M302.39 231.97L304.02 232.18M304.86 232.29L306.49 232.49M307.33 232.60L308.96 232.78M309.79 232.88L311.42 233.05M312.26 233.14L313.89 233.29M314.73 233.38L316.36 233.52M317.20 233.60L318.83 233.74M319.67 233.81L321.29 233.94M322.13 234.00L323.76 234.13" stroke="#0a800a" stroke-width="1.4" fill="none"/>
<path d="M28.50 252.78L29.73 252.19L30.97 252.72L32.20 253.08L33.43 252.67L34.67 251.98L35.90 251.85L37.14 252.28L38.37 251.80L39.60 252.71L40.84 252.09L42.07 250.87L43.31 250.90L44.54 251.08L45.77 251.41L47.01 252.20L48.24 252.18L49.47 252.54L50.71 252.60L51.94 251.98L53.17 251.78L54.41 252.29L55.64 251.60L56.88 251.71L58.11 251.94L59.34 252.22L60.58 252.32L61.81 252.05L63.05 251.83L64.28 251.65L65.51 251.95L66.75 252.12L67.98 252.22L69.21 252.37L70.45 252.44L71.68 252.65L72.91 251.94L74.15 252.15L75.38 252.09L76.62 252.78L77.85 251.76L79.08 251.81L80.32 251.49L81.55 251.80L82.79 252.05L84.02 251.76L85.25 251.85L86.49 252.10L87.72 252.63L88.95 252.12L90.19 251.82L91.42 251.41L92.65 251.38L93.89 251.40L95.12 251.77L96.36 251.91L97.59 251.46L98.82 252.22L100.06 251.44L101.29 251.45L102.53 251.06L103.76 251.90L104.99 251.70L106.23 251.87L107.46 252.00L108.69 252.11L109.93 251.86L111.16 252.37L112.39 251.68L113.63 252.16L114.86 252.17L116.10 251.32L117.33 250.54L118.56 251.97L119.80 253.12L121.03 252.35L122.27 252.71L123.50 252.80L124.73 251.42L125.97 252.19L127.20 251.96L128.43 252.97L129.67 253.69L130.90 254.20L132.13 254.01L133.37 252.87L134.60 253.96L135.84 252.92L137.07 251.38L138.30 250.46L139.54 250.00L140.77 250.20L142.01 250.16L143.24 250.39L144.47 250.58L145.71 250.72L146.94 251.59L148.17 251.73L149.41 252.24L150.64 252.00L151.87 252.51L153.11 251.37L154.34 252.14L155.58 253.04L156.81 252.35L158.04 251.84L159.28 252.34L160.51 254.97L161.75 254.67L162.98 254.60L164.21 255.47L165.45 255.27L166.68 253.20L167.91 253.71L169.15 253.23L170.38 253.09L171.61 253.52L172.85 252.44L174.08 251.71L175.32 250.13L176.55 251.07L177.78 250.22L179.02 250.16L180.25 252.37L181.49 251.78L182.72 252.12L183.95 251.26L185.19 251.14L186.42 250.36L187.65 251.50L188.89 251.73L190.12 250.82L191.35 250.50L192.59 250.40L193.82 251.05L195.06 250.88L196.29 250.54L197.52 249.79L198.76 249.56L199.99 250.05L201.23 250.57L202.46 251.15L203.69 251.43L204.93 253.12L206.16 254.60L207.39 255.25L208.63 253.71L209.86 253.44L211.09 256.20L212.33 256.26L213.56 254.72L214.80 253.92L216.03 253.97L217.26 252.98L218.50 251.86L219.73 252.16L220.97 248.85L222.20 246.55L223.43 246.14L224.67 247.08L225.90 251.36L227.13 252.98L228.37 252.74L229.60 253.84L230.83 256.50L232.07 256.31L233.30 255.85L234.54 257.09L235.77 256.62L237.00 254.94L238.24 253.45L239.47 252.13L240.71 251.71L241.94 252.58L243.17 251.26L244.41 249.63L245.64 250.95L246.87 252.03L248.11 252.76L249.34 251.83L250.57 251.37L251.81 250.63L253.04 250.62L254.28 250.66L255.51 251.89L256.74 251.90L257.98 251.49L259.21 251.97L260.45 251.50L261.68 252.05L262.91 251.19L264.15 250.62L265.38 250.33L266.61 249.88L267.85 250.62L269.08 251.36L270.31 251.79L271.55 252.32L272.78 253.10L274.02 252.10L275.25 251.86L276.48 251.81L277.72 252.11L278.95 252.38L280.19 252.90L281.42 253.53L282.65 252.53L283.89 252.20L285.12 251.82L286.35 252.22L287.59 252.72L288.82 252.58L290.05 251.68L291.29 250.78L292.52 251.87L293.76 252.28L294.99 252.15L296.22 251.76L297.46 251.25L298.69 252.37L299.93 252.75L301.16 253.21L302.39 253.10L303.63 252.09L304.86 252.57L306.09 251.93L307.33 252.17L308.56 253.11L309.79 253.60L311.03 252.94L312.26 252.72L313.50 252.34L314.73 252.14L315.96 252.40L317.20 252.09L318.43 251.84L319.67 252.53L320.90 252.98L322.13 253.15L323.37 252.92L324.60 252.44" stroke="#0000ff" stroke-width="1.35" fill="none" stroke-linejoin="round"/>
</g>
<clipPath id="c1"><rect x="355.2" y="2.5" width="296.60" height="265.90"/></clipPath>
<g clip-path="url(#c1)">
<path d="M353.70 233.40a1.5 1.5 0 1 0 3.0 0a1.5 1.5 0 1 0 -3.0 0M354.84 232.87a1.5 1.5 0 1 0 3.0 0a1.5 1.5 0 1 0 -3.0 0M355.98 232.73a1.5 1.5 0 1 0 3.0 0a1.5 1.5 0 1 0 -3.0 0M357.12 231.63a1.5 1.5 0 1 0 3.0 0a1.5 1.5 0 1 0 -3.0 0M358.26 231.91a1.5 1.5 0 1 0 3.0 0a1.5 1.5 0 1 0 -3.0 0M359.40 231.25a1.5 1.5 0 1 0 3.0 0a1.5 1.5 0 1 0 -3.0 0M360.54 230.60a1.5 1.5 0 1 0 3.0 0a1.5 1.5 0 1 0 -3.0 0M361.69 231.76a1.5 1.5 0 1 0 3.0 0a1.5 1.5 0 1 0 -3.0 0M362.83 231.52a1.5 1.5 0 1 0 3.0 0a1.5 1.5 0 1 0 -3.0 0M363.97 231.25a1.5 1.5 0 1 0 3.0 0a1.5 1.5 0 1 0 -3.0 0M365.11 232.06a1.5 1.5 0 1 0 3.0 0a1.5 1.5 0 1 0 -3.0 0M366.25 231.08a1.5 1.5 0 1 0 3.0 0a1.5 1.5 0 1 0 -3.0 0M367.39 231.94a1.5 1.5 0 1 0 3.0 0a1.5 1.5 0 1 0 -3.0 0M368.53 230.97a1.5 1.5 0 1 0 3.0 0a1.5 1.5 0 1 0 -3.0 0M369.67 231.11a1.5 1.5 0 1 0 3.0 0a1.5 1.5 0 1 0 -3.0 0M370.81 232.13a1.5 1.5 0 1 0 3.0 0a1.5 1.5 0 1 0 -3.0 0M371.95 231.67a1.5 1.5 0 1 0 3.0 0a1.5 1.5 0 1 0 -3.0 0M373.09 232.15a1.5 1.5 0 1 0 3.0 0a1.5 1.5 0 1 0 -3.0 0M374.23 229.93a1.5 1.5 0 1 0 3.0 0a1.5 1.5 0 1 0 -3.0 0M375.37 229.98a1.5 1.5 0 1 0 3.0 0a1.5 1.5 0 1 0 -3.0 0M376.52 231.09a1.5 1.5 0 1 0 3.0 0a1.5 1.5 0 1 0 -3.0 0M377.66 230.49a1.5 1.5 0 1 0 3.0 0a1.5 1.5 0 1 0 -3.0 0M378.80 230.25a1.5 1.5 0 1 0 3.0 0a1.5 1.5 0 1 0 -3.0 0M379.94 230.33a1.5 1.5 0 1 0 3.0 0a1.5 1.5 0 1 0 -3.0 0M381.08 229.81a1.5 1.5 0 1 0 3.0 0a1.5 1.5 0 1 0 -3.0 0M382.22 228.75a1.5 1.5 0 1 0 3.0 0a1.5 1.5 0 1 0 -3.0 0M383.36 228.17a1.5 1.5 0 1 0 3.0 0a1.5 1.5 0 1 0 -3.0 0M384.50 228.68a1.5 1.5 0 1 0 3.0 0a1.5 1.5 0 1 0 -3.0 0M385.64 227.46a1.5 1.5 0 1 0 3.0 0a1.5 1.5 0 1 0 -3.0 0M386.78 227.00a1.5 1.5 0 1 0 3.0 0a1.5 1.5 0 1 0 -3.0 0M387.92 227.41a1.5 1.5 0 1 0 3.0 0a1.5 1.5 0 1 0 -3.0 0M389.06 227.56a1.5 1.5 0 1 0 3.0 0a1.5 1.5 0 1 0 -3.0 0M390.20 228.12a1.5 1.5 0 1 0 3.0 0a1.5 1.5 0 1 0 -3.0 0M391.35 228.71a1.5 1.5 0 1 0 3.0 0a1.5 1.5 0 1 0 -3.0 0M392.49 227.62a1.5 1.5 0 1 0 3.0 0a1.5 1.5 0 1 0 -3.0 0M393.63 228.02a1.5 1.5 0 1 0 3.0 0a1.5 1.5 0 1 0 -3.0 0M394.77 227.35a1.5 1.5 0 1 0 3.0 0a1.5 1.5 0 1 0 -3.0 0M395.91 227.29a1.5 1.5 0 1 0 3.0 0a1.5 1.5 0 1 0 -3.0 0M397.05 226.64a1.5 1.5 0 1 0 3.0 0a1.5 1.5 0 1 0 -3.0 0M398.19 225.83a1.5 1.5 0 1 0 3.0 0a1.5 1.5 0 1 0 -3.0 0M399.33 225.91a1.5 1.5 0 1 0 3.0 0a1.5 1.5 0 1 0 -3.0 0M400.47 225.38a1.5 1.5 0 1 0 3.0 0a1.5 1.5 0 1 0 -3.0 0M401.61 226.75a1.5 1.5 0 1 0 3.0 0a1.5 1.5 0 1 0 -3.0 0M402.75 226.43a1.5 1.5 0 1 0 3.0 0a1.5 1.5 0 1 0 -3.0 0M403.89 226.02a1.5 1.5 0 1 0 3.0 0a1.5 1.5 0 1 0 -3.0 0M405.03 225.32a1.5 1.5 0 1 0 3.0 0a1.5 1.5 0 1 0 -3.0 0M406.18 225.68a1.5 1.5 0 1 0 3.0 0a1.5 1.5 0 1 0 -3.0 0M407.32 227.42a1.5 1.5 0 1 0 3.0 0a1.5 1.5 0 1 0 -3.0 0M408.46 225.61a1.5 1.5 0 1 0 3.0 0a1.5 1.5 0 1 0 -3.0 0M409.60 224.20a1.5 1.5 0 1 0 3.0 0a1.5 1.5 0 1 0 -3.0 0M410.74 225.10a1.5 1.5 0 1 0 3.0 0a1.5 1.5 0 1 0 -3.0 0M411.88 224.34a1.5 1.5 0 1 0 3.0 0a1.5 1.5 0 1 0 -3.0 0M413.02 223.30a1.5 1.5 0 1 0 3.0 0a1.5 1.5 0 1 0 -3.0 0M414.16 224.46a1.5 1.5 0 1 0 3.0 0a1.5 1.5 0 1 0 -3.0 0M415.30 225.48a1.5 1.5 0 1 0 3.0 0a1.5 1.5 0 1 0 -3.0 0M416.44 223.52a1.5 1.5 0 1 0 3.0 0a1.5 1.5 0 1 0 -3.0 0M417.58 221.84a1.5 1.5 0 1 0 3.0 0a1.5 1.5 0 1 0 -3.0 0M418.72 221.40a1.5 1.5 0 1 0 3.0 0a1.5 1.5 0 1 0 -3.0 0M419.86 220.31a1.5 1.5 0 1 0 3.0 0a1.5 1.5 0 1 0 -3.0 0M421.01 220.85a1.5 1.5 0 1 0 3.0 0a1.5 1.5 0 1 0 -3.0 0M422.15 220.97a1.5 1.5 0 1 0 3.0 0a1.5 1.5 0 1 0 -3.0 0M423.29 221.45a1.5 1.5 0 1 0 3.0 0a1.5 1.5 0 1 0 -3.0 0M424.43 221.32a1.5 1.5 0 1 0 3.0 0a1.5 1.5 0 1 0 -3.0 0M425.57 221.96a1.5 1.5 0 1 0 3.0 0a1.5 1.5 0 1 0 -3.0 0M426.71 221.55a1.5 1.5 0 1 0 3.0 0a1.5 1.5 0 1 0 -3.0 0M427.85 219.97a1.5 1.5 0 1 0 3.0 0a1.5 1.5 0 1 0 -3.0 0M428.99 218.39a1.5 1.5 0 1 0 3.0 0a1.5 1.5 0 1 0 -3.0 0M430.13 218.48a1.5 1.5 0 1 0 3.0 0a1.5 1.5 0 1 0 -3.0 0M431.27 217.85a1.5 1.5 0 1 0 3.0 0a1.5 1.5 0 1 0 -3.0 0M432.41 215.71a1.5 1.5 0 1 0 3.0 0a1.5 1.5 0 1 0 -3.0 0M433.55 216.16a1.5 1.5 0 1 0 3.0 0a1.5 1.5 0 1 0 -3.0 0M434.69 217.41a1.5 1.5 0 1 0 3.0 0a1.5 1.5 0 1 0 -3.0 0M435.84 217.01a1.5 1.5 0 1 0 3.0 0a1.5 1.5 0 1 0 -3.0 0M436.98 214.07a1.5 1.5 0 1 0 3.0 0a1.5 1.5 0 1 0 -3.0 0M438.12 213.35a1.5 1.5 0 1 0 3.0 0a1.5 1.5 0 1 0 -3.0 0M439.26 214.96a1.5 1.5 0 1 0 3.0 0a1.5 1.5 0 1 0 -3.0 0M440.40 212.38a1.5 1.5 0 1 0 3.0 0a1.5 1.5 0 1 0 -3.0 0M441.54 211.69a1.5 1.5 0 1 0 3.0 0a1.5 1.5 0 1 0 -3.0 0M442.68 212.18a1.5 1.5 0 1 0 3.0 0a1.5 1.5 0 1 0 -3.0 0M443.82 211.11a1.5 1.5 0 1 0 3.0 0a1.5 1.5 0 1 0 -3.0 0M444.96 209.48a1.5 1.5 0 1 0 3.0 0a1.5 1.5 0 1 0 -3.0 0M446.10 207.16a1.5 1.5 0 1 0 3.0 0a1.5 1.5 0 1 0 -3.0 0M447.24 206.26a1.5 1.5 0 1 0 3.0 0a1.5 1.5 0 1 0 -3.0 0M448.38 207.52a1.5 1.5 0 1 0 3.0 0a1.5 1.5 0 1 0 -3.0 0M449.52 209.07a1.5 1.5 0 1 0 3.0 0a1.5 1.5 0 1 0 -3.0 0M450.67 209.03a1.5 1.5 0 1 0 3.0 0a1.5 1.5 0 1 0 -3.0 0M451.81 204.71a1.5 1.5 0 1 0 3.0 0a1.5 1.5 0 1 0 -3.0 0M452.95 203.47a1.5 1.5 0 1 0 3.0 0a1.5 1.5 0 1 0 -3.0 0M454.09 203.62a1.5 1.5 0 1 0 3.0 0a1.5 1.5 0 1 0 -3.0 0M455.23 203.57a1.5 1.5 0 1 0 3.0 0a1.5 1.5 0 1 0 -3.0 0M456.37 202.32a1.5 1.5 0 1 0 3.0 0a1.5 1.5 0 1 0 -3.0 0M457.51 198.51a1.5 1.5 0 1 0 3.0 0a1.5 1.5 0 1 0 -3.0 0M458.65 196.34a1.5 1.5 0 1 0 3.0 0a1.5 1.5 0 1 0 -3.0 0M459.79 197.25a1.5 1.5 0 1 0 3.0 0a1.5 1.5 0 1 0 -3.0 0M460.93 196.33a1.5 1.5 0 1 0 3.0 0a1.5 1.5 0 1 0 -3.0 0M462.07 194.19a1.5 1.5 0 1 0 3.0 0a1.5 1.5 0 1 0 -3.0 0M463.21 193.64a1.5 1.5 0 1 0 3.0 0a1.5 1.5 0 1 0 -3.0 0M464.35 192.08a1.5 1.5 0 1 0 3.0 0a1.5 1.5 0 1 0 -3.0 0M465.50 188.97a1.5 1.5 0 1 0 3.0 0a1.5 1.5 0 1 0 -3.0 0M466.64 187.62a1.5 1.5 0 1 0 3.0 0a1.5 1.5 0 1 0 -3.0 0M467.78 184.68a1.5 1.5 0 1 0 3.0 0a1.5 1.5 0 1 0 -3.0 0M468.92 181.41a1.5 1.5 0 1 0 3.0 0a1.5 1.5 0 1 0 -3.0 0M470.06 181.37a1.5 1.5 0 1 0 3.0 0a1.5 1.5 0 1 0 -3.0 0M471.20 180.67a1.5 1.5 0 1 0 3.0 0a1.5 1.5 0 1 0 -3.0 0M472.34 178.67a1.5 1.5 0 1 0 3.0 0a1.5 1.5 0 1 0 -3.0 0M473.48 176.78a1.5 1.5 0 1 0 3.0 0a1.5 1.5 0 1 0 -3.0 0M474.62 174.49a1.5 1.5 0 1 0 3.0 0a1.5 1.5 0 1 0 -3.0 0M475.76 170.91a1.5 1.5 0 1 0 3.0 0a1.5 1.5 0 1 0 -3.0 0M476.90 169.94a1.5 1.5 0 1 0 3.0 0a1.5 1.5 0 1 0 -3.0 0M478.04 167.78a1.5 1.5 0 1 0 3.0 0a1.5 1.5 0 1 0 -3.0 0M479.18 164.14a1.5 1.5 0 1 0 3.0 0a1.5 1.5 0 1 0 -3.0 0M480.33 162.10a1.5 1.5 0 1 0 3.0 0a1.5 1.5 0 1 0 -3.0 0M481.47 159.86a1.5 1.5 0 1 0 3.0 0a1.5 1.5 0 1 0 -3.0 0M482.61 159.39a1.5 1.5 0 1 0 3.0 0a1.5 1.5 0 1 0 -3.0 0M483.75 156.45a1.5 1.5 0 1 0 3.0 0a1.5 1.5 0 1 0 -3.0 0M484.89 153.44a1.5 1.5 0 1 0 3.0 0a1.5 1.5 0 1 0 -3.0 0M486.03 149.47a1.5 1.5 0 1 0 3.0 0a1.5 1.5 0 1 0 -3.0 0M487.17 147.69a1.5 1.5 0 1 0 3.0 0a1.5 1.5 0 1 0 -3.0 0M488.31 144.95a1.5 1.5 0 1 0 3.0 0a1.5 1.5 0 1 0 -3.0 0M489.45 142.25a1.5 1.5 0 1 0 3.0 0a1.5 1.5 0 1 0 -3.0 0M490.59 144.89a1.5 1.5 0 1 0 3.0 0a1.5 1.5 0 1 0 -3.0 0M491.73 147.53a1.5 1.5 0 1 0 3.0 0a1.5 1.5 0 1 0 -3.0 0M492.87 144.42a1.5 1.5 0 1 0 3.0 0a1.5 1.5 0 1 0 -3.0 0M494.01 140.94a1.5 1.5 0 1 0 3.0 0a1.5 1.5 0 1 0 -3.0 0M495.16 139.10a1.5 1.5 0 1 0 3.0 0a1.5 1.5 0 1 0 -3.0 0M496.30 138.12a1.5 1.5 0 1 0 3.0 0a1.5 1.5 0 1 0 -3.0 0M497.44 136.30a1.5 1.5 0 1 0 3.0 0a1.5 1.5 0 1 0 -3.0 0M498.58 132.76a1.5 1.5 0 1 0 3.0 0a1.5 1.5 0 1 0 -3.0 0M499.72 130.34a1.5 1.5 0 1 0 3.0 0a1.5 1.5 0 1 0 -3.0 0M500.86 128.56a1.5 1.5 0 1 0 3.0 0a1.5 1.5 0 1 0 -3.0 0M502.00 123.88a1.5 1.5 0 1 0 3.0 0a1.5 1.5 0 1 0 -3.0 0M503.14 119.32a1.5 1.5 0 1 0 3.0 0a1.5 1.5 0 1 0 -3.0 0M504.28 119.10a1.5 1.5 0 1 0 3.0 0a1.5 1.5 0 1 0 -3.0 0M505.42 119.78a1.5 1.5 0 1 0 3.0 0a1.5 1.5 0 1 0 -3.0 0M506.56 118.22a1.5 1.5 0 1 0 3.0 0a1.5 1.5 0 1 0 -3.0 0M507.70 114.05a1.5 1.5 0 1 0 3.0 0a1.5 1.5 0 1 0 -3.0 0M508.84 112.45a1.5 1.5 0 1 0 3.0 0a1.5 1.5 0 1 0 -3.0 0M509.99 107.00a1.5 1.5 0 1 0 3.0 0a1.5 1.5 0 1 0 -3.0 0M511.13 100.28a1.5 1.5 0 1 0 3.0 0a1.5 1.5 0 1 0 -3.0 0M512.27 98.72a1.5 1.5 0 1 0 3.0 0a1.5 1.5 0 1 0 -3.0 0M513.41 96.22a1.5 1.5 0 1 0 3.0 0a1.5 1.5 0 1 0 -3.0 0M514.55 91.67a1.5 1.5 0 1 0 3.0 0a1.5 1.5 0 1 0 -3.0 0M515.69 85.04a1.5 1.5 0 1 0 3.0 0a1.5 1.5 0 1 0 -3.0 0M516.83 81.38a1.5 1.5 0 1 0 3.0 0a1.5 1.5 0 1 0 -3.0 0M517.97 80.69a1.5 1.5 0 1 0 3.0 0a1.5 1.5 0 1 0 -3.0 0M519.11 75.91a1.5 1.5 0 1 0 3.0 0a1.5 1.5 0 1 0 -3.0 0M520.25 71.67a1.5 1.5 0 1 0 3.0 0a1.5 1.5 0 1 0 -3.0 0M521.39 68.62a1.5 1.5 0 1 0 3.0 0a1.5 1.5 0 1 0 -3.0 0M522.53 60.99a1.5 1.5 0 1 0 3.0 0a1.5 1.5 0 1 0 -3.0 0M523.67 51.15a1.5 1.5 0 1 0 3.0 0a1.5 1.5 0 1 0 -3.0 0M524.82 41.62a1.5 1.5 0 1 0 3.0 0a1.5 1.5 0 1 0 -3.0 0M525.96 36.72a1.5 1.5 0 1 0 3.0 0a1.5 1.5 0 1 0 -3.0 0M527.10 33.76a1.5 1.5 0 1 0 3.0 0a1.5 1.5 0 1 0 -3.0 0M528.24 29.17a1.5 1.5 0 1 0 3.0 0a1.5 1.5 0 1 0 -3.0 0M529.38 25.18a1.5 1.5 0 1 0 3.0 0a1.5 1.5 0 1 0 -3.0 0M530.52 25.94a1.5 1.5 0 1 0 3.0 0a1.5 1.5 0 1 0 -3.0 0M531.66 27.86a1.5 1.5 0 1 0 3.0 0a1.5 1.5 0 1 0 -3.0 0M532.80 30.63a1.5 1.5 0 1 0 3.0 0a1.5 1.5 0 1 0 -3.0 0M533.94 32.79a1.5 1.5 0 1 0 3.0 0a1.5 1.5 0 1 0 -3.0 0M535.08 38.86a1.5 1.5 0 1 0 3.0 0a1.5 1.5 0 1 0 -3.0 0M536.22 47.46a1.5 1.5 0 1 0 3.0 0a1.5 1.5 0 1 0 -3.0 0M537.36 53.02a1.5 1.5 0 1 0 3.0 0a1.5 1.5 0 1 0 -3.0 0M538.50 65.01a1.5 1.5 0 1 0 3.0 0a1.5 1.5 0 1 0 -3.0 0M539.65 71.85a1.5 1.5 0 1 0 3.0 0a1.5 1.5 0 1 0 -3.0 0M540.79 75.77a1.5 1.5 0 1 0 3.0 0a1.5 1.5 0 1 0 -3.0 0M541.93 86.33a1.5 1.5 0 1 0 3.0 0a1.5 1.5 0 1 0 -3.0 0M543.07 96.84a1.5 1.5 0 1 0 3.0 0a1.5 1.5 0 1 0 -3.0 0M544.21 103.62a1.5 1.5 0 1 0 3.0 0a1.5 1.5 0 1 0 -3.0 0M545.35 108.18a1.5 1.5 0 1 0 3.0 0a1.5 1.5 0 1 0 -3.0 0M546.49 114.36a1.5 1.5 0 1 0 3.0 0a1.5 1.5 0 1 0 -3.0 0M547.63 117.86a1.5 1.5 0 1 0 3.0 0a1.5 1.5 0 1 0 -3.0 0M548.77 125.24a1.5 1.5 0 1 0 3.0 0a1.5 1.5 0 1 0 -3.0 0M549.91 133.53a1.5 1.5 0 1 0 3.0 0a1.5 1.5 0 1 0 -3.0 0M551.05 139.12a1.5 1.5 0 1 0 3.0 0a1.5 1.5 0 1 0 -3.0 0M552.19 144.04a1.5 1.5 0 1 0 3.0 0a1.5 1.5 0 1 0 -3.0 0M553.33 147.22a1.5 1.5 0 1 0 3.0 0a1.5 1.5 0 1 0 -3.0 0M554.48 153.54a1.5 1.5 0 1 0 3.0 0a1.5 1.5 0 1 0 -3.0 0M555.62 158.10a1.5 1.5 0 1 0 3.0 0a1.5 1.5 0 1 0 -3.0 0M556.76 158.84a1.5 1.5 0 1 0 3.0 0a1.5 1.5 0 1 0 -3.0 0M557.90 160.00a1.5 1.5 0 1 0 3.0 0a1.5 1.5 0 1 0 -3.0 0M559.04 163.92a1.5 1.5 0 1 0 3.0 0a1.5 1.5 0 1 0 -3.0 0M560.18 169.28a1.5 1.5 0 1 0 3.0 0a1.5 1.5 0 1 0 -3.0 0M561.32 174.11a1.5 1.5 0 1 0 3.0 0a1.5 1.5 0 1 0 -3.0 0M562.46 176.25a1.5 1.5 0 1 0 3.0 0a1.5 1.5 0 1 0 -3.0 0M563.60 176.61a1.5 1.5 0 1 0 3.0 0a1.5 1.5 0 1 0 -3.0 0M564.74 177.77a1.5 1.5 0 1 0 3.0 0a1.5 1.5 0 1 0 -3.0 0M565.88 183.12a1.5 1.5 0 1 0 3.0 0a1.5 1.5 0 1 0 -3.0 0M567.02 187.16a1.5 1.5 0 1 0 3.0 0a1.5 1.5 0 1 0 -3.0 0M568.16 188.28a1.5 1.5 0 1 0 3.0 0a1.5 1.5 0 1 0 -3.0 0M569.31 188.98a1.5 1.5 0 1 0 3.0 0a1.5 1.5 0 1 0 -3.0 0M570.45 190.78a1.5 1.5 0 1 0 3.0 0a1.5 1.5 0 1 0 -3.0 0M571.59 189.84a1.5 1.5 0 1 0 3.0 0a1.5 1.5 0 1 0 -3.0 0M572.73 190.66a1.5 1.5 0 1 0 3.0 0a1.5 1.5 0 1 0 -3.0 0M573.87 193.01a1.5 1.5 0 1 0 3.0 0a1.5 1.5 0 1 0 -3.0 0M575.01 194.45a1.5 1.5 0 1 0 3.0 0a1.5 1.5 0 1 0 -3.0 0M576.15 196.54a1.5 1.5 0 1 0 3.0 0a1.5 1.5 0 1 0 -3.0 0M577.29 198.62a1.5 1.5 0 1 0 3.0 0a1.5 1.5 0 1 0 -3.0 0M578.43 201.08a1.5 1.5 0 1 0 3.0 0a1.5 1.5 0 1 0 -3.0 0M579.57 202.93a1.5 1.5 0 1 0 3.0 0a1.5 1.5 0 1 0 -3.0 0M580.71 202.63a1.5 1.5 0 1 0 3.0 0a1.5 1.5 0 1 0 -3.0 0M581.85 204.60a1.5 1.5 0 1 0 3.0 0a1.5 1.5 0 1 0 -3.0 0M582.99 206.08a1.5 1.5 0 1 0 3.0 0a1.5 1.5 0 1 0 -3.0 0M584.14 208.06a1.5 1.5 0 1 0 3.0 0a1.5 1.5 0 1 0 -3.0 0M585.28 209.55a1.5 1.5 0 1 0 3.0 0a1.5 1.5 0 1 0 -3.0 0M586.42 209.29a1.5 1.5 0 1 0 3.0 0a1.5 1.5 0 1 0 -3.0 0M587.56 208.77a1.5 1.5 0 1 0 3.0 0a1.5 1.5 0 1 0 -3.0 0M588.70 208.36a1.5 1.5 0 1 0 3.0 0a1.5 1.5 0 1 0 -3.0 0M589.84 210.73a1.5 1.5 0 1 0 3.0 0a1.5 1.5 0 1 0 -3.0 0M590.98 213.42a1.5 1.5 0 1 0 3.0 0a1.5 1.5 0 1 0 -3.0 0M592.12 213.28a1.5 1.5 0 1 0 3.0 0a1.5 1.5 0 1 0 -3.0 0M593.26 213.02a1.5 1.5 0 1 0 3.0 0a1.5 1.5 0 1 0 -3.0 0M594.40 216.23a1.5 1.5 0 1 0 3.0 0a1.5 1.5 0 1 0 -3.0 0M595.54 216.71a1.5 1.5 0 1 0 3.0 0a1.5 1.5 0 1 0 -3.0 0M596.68 215.71a1.5 1.5 0 1 0 3.0 0a1.5 1.5 0 1 0 -3.0 0M597.82 214.20a1.5 1.5 0 1 0 3.0 0a1.5 1.5 0 1 0 -3.0 0M598.97 214.53a1.5 1.5 0 1 0 3.0 0a1.5 1.5 0 1 0 -3.0 0M600.11 217.23a1.5 1.5 0 1 0 3.0 0a1.5 1.5 0 1 0 -3.0 0M601.25 218.81a1.5 1.5 0 1 0 3.0 0a1.5 1.5 0 1 0 -3.0 0M602.39 218.95a1.5 1.5 0 1 0 3.0 0a1.5 1.5 0 1 0 -3.0 0M603.53 220.32a1.5 1.5 0 1 0 3.0 0a1.5 1.5 0 1 0 -3.0 0M604.67 220.53a1.5 1.5 0 1 0 3.0 0a1.5 1.5 0 1 0 -3.0 0M605.81 220.08a1.5 1.5 0 1 0 3.0 0a1.5 1.5 0 1 0 -3.0 0M606.95 220.51a1.5 1.5 0 1 0 3.0 0a1.5 1.5 0 1 0 -3.0 0M608.09 222.69a1.5 1.5 0 1 0 3.0 0a1.5 1.5 0 1 0 -3.0 0M609.23 224.57a1.5 1.5 0 1 0 3.0 0a1.5 1.5 0 1 0 -3.0 0M610.37 224.34a1.5 1.5 0 1 0 3.0 0a1.5 1.5 0 1 0 -3.0 0M611.51 222.88a1.5 1.5 0 1 0 3.0 0a1.5 1.5 0 1 0 -3.0 0M612.65 222.94a1.5 1.5 0 1 0 3.0 0a1.5 1.5 0 1 0 -3.0 0M613.80 222.74a1.5 1.5 0 1 0 3.0 0a1.5 1.5 0 1 0 -3.0 0M614.94 222.68a1.5 1.5 0 1 0 3.0 0a1.5 1.5 0 1 0 -3.0 0M616.08 223.16a1.5 1.5 0 1 0 3.0 0a1.5 1.5 0 1 0 -3.0 0M617.22 223.69a1.5 1.5 0 1 0 3.0 0a1.5 1.5 0 1 0 -3.0 0M618.36 225.79a1.5 1.5 0 1 0 3.0 0a1.5 1.5 0 1 0 -3.0 0M619.50 226.22a1.5 1.5 0 1 0 3.0 0a1.5 1.5 0 1 0 -3.0 0M620.64 227.13a1.5 1.5 0 1 0 3.0 0a1.5 1.5 0 1 0 -3.0 0M621.78 228.01a1.5 1.5 0 1 0 3.0 0a1.5 1.5 0 1 0 -3.0 0M622.92 228.68a1.5 1.5 0 1 0 3.0 0a1.5 1.5 0 1 0 -3.0 0M624.06 227.92a1.5 1.5 0 1 0 3.0 0a1.5 1.5 0 1 0 -3.0 0M625.20 227.50a1.5 1.5 0 1 0 3.0 0a1.5 1.5 0 1 0 -3.0 0M626.34 226.61a1.5 1.5 0 1 0 3.0 0a1.5 1.5 0 1 0 -3.0 0M627.48 227.07a1.5 1.5 0 1 0 3.0 0a1.5 1.5 0 1 0 -3.0 0M628.63 226.25a1.5 1.5 0 1 0 3.0 0a1.5 1.5 0 1 0 -3.0 0M629.77 224.85a1.5 1.5 0 1 0 3.0 0a1.5 1.5 0 1 0 -3.0 0M630.91 226.24a1.5 1.5 0 1 0 3.0 0a1.5 1.5 0 1 0 -3.0 0M632.05 228.12a1.5 1.5 0 1 0 3.0 0a1.5 1.5 0 1 0 -3.0 0M633.19 227.83a1.5 1.5 0 1 0 3.0 0a1.5 1.5 0 1 0 -3.0 0M634.33 228.12a1.5 1.5 0 1 0 3.0 0a1.5 1.5 0 1 0 -3.0 0M635.47 228.75a1.5 1.5 0 1 0 3.0 0a1.5 1.5 0 1 0 -3.0 0M636.61 228.88a1.5 1.5 0 1 0 3.0 0a1.5 1.5 0 1 0 -3.0 0M637.75 229.01a1.5 1.5 0 1 0 3.0 0a1.5 1.5 0 1 0 -3.0 0M638.89 229.30a1.5 1.5 0 1 0 3.0 0a1.5 1.5 0 1 0 -3.0 0M640.03 230.15a1.5 1.5 0 1 0 3.0 0a1.5 1.5 0 1 0 -3.0 0M641.17 229.95a1.5 1.5 0 1 0 3.0 0a1.5 1.5 0 1 0 -3.0 0M642.31 229.66a1.5 1.5 0 1 0 3.0 0a1.5 1.5 0 1 0 -3.0 0M643.46 229.59a1.5 1.5 0 1 0 3.0 0a1.5 1.5 0 1 0 -3.0 0M644.60 229.05a1.5 1.5 0 1 0 3.0 0a1.5 1.5 0 1 0 -3.0 0M645.74 229.21a1.5 1.5 0 1 0 3.0 0a1.5 1.5 0 1 0 -3.0 0M646.88 230.19a1.5 1.5 0 1 0 3.0 0a1.5 1.5 0 1 0 -3.0 0M648.02 231.21a1.5 1.5 0 1 0 3.0 0a1.5 1.5 0 1 0 -3.0 0M649.16 231.10a1.5 1.5 0 1 0 3.0 0a1.5 1.5 0 1 0 -3.0 0M650.30 231.87a1.5 1.5 0 1 0 3.0 0a1.5 1.5 0 1 0 -3.0 0" fill="#000"/>
<path d="M355.20 232.19L355.70 232.16L356.20 232.13L356.70 232.10L357.20 232.07L357.70 232.03L358.20 232.00L358.70 231.97L359.20 231.93L359.70 231.90L360.20 231.86L360.70 231.83L361.20 231.79L361.70 231.76L362.20 231.72L362.70 231.68L363.20 231.65L363.70 231.61L364.20 231.57L364.70 231.53L365.20 231.49L365.70 231.46L366.20 231.42L366.70 231.38L367.20 231.33L367.70 231.29L368.20 231.25L368.70 231.21L369.20 231.17L369.70 231.13L370.21 231.08L370.71 231.04L371.21 230.99L371.71 230.95L372.21 230.90L372.71 230.86L373.21 230.81L373.71 230.77L374.21 230.72L374.71 230.67L375.21 230.62L375.71 230.57L376.21 230.52L376.71 230.47L377.21 230.42L377.71 230.37L378.21 230.32L378.71 230.27L379.21 230.21L379.71 230.16L380.21 230.10L380.71 230.05L381.21 229.99L381.71 229.94L382.21 229.88L382.71 229.82L383.21 229.76L383.71 229.70L384.21 229.64L384.71 229.58L385.21 229.52L385.71 229.46L386.21 229.40L386.71 229.33L387.21 229.27L387.71 229.20L388.21 229.14L388.71 229.07L389.21 229.00L389.71 228.93L390.21 228.86L390.71 228.79L391.21 228.72L391.71 228.65L392.21 228.58L392.71 228.50L393.21 228.43L393.71 228.35L394.21 228.28L394.71 228.20L395.21 228.12L395.71 228.04L396.21 227.96L396.71 227.88L397.21 227.79L397.71 227.71L398.21 227.63L398.71 227.54L399.21 227.45L399.72 227.36L400.22 227.27L400.72 227.18L401.22 227.09L401.72 227.00L402.22 226.90L402.72 226.81L403.22 226.71L403.72 226.61L404.22 226.51L404.72 226.41L405.22 226.31L405.72 226.20L406.22 226.10L406.72 225.99L407.22 225.88L407.72 225.77L408.22 225.66L408.72 225.55L409.22 225.44L409.72 225.32L410.22 225.20L410.72 225.08L411.22 224.96L411.72 224.84L412.22 224.72L412.72 224.59L413.22 224.46L413.72 224.33L414.22 224.20L414.72 224.07L415.22 223.93L415.72 223.79L416.22 223.65L416.72 223.51L417.22 223.37L417.72 223.22L418.22 223.07L418.72 222.92L419.22 222.77L419.72 222.62L420.22 222.46L420.72 222.30L421.22 222.14L421.72 221.98L422.22 221.81L422.72 221.64L423.22 221.47L423.72 221.30L424.22 221.12L424.72 220.94L425.22 220.76L425.72 220.57L426.22 220.38L426.72 220.19L427.22 220.00L427.72 219.80L428.22 219.60L428.72 219.40L429.22 219.20L429.73 218.99L430.23 218.77L430.73 218.56L431.23 218.34L431.73 218.12L432.23 217.89L432.73 217.66L433.23 217.43L433.73 217.19L434.23 216.95L434.73 216.70L435.23 216.45L435.73 216.20L436.23 215.94L436.73 215.68L437.23 215.42L437.73 215.15L438.23 214.87L438.73 214.60L439.23 214.31L439.73 214.03L440.23 213.73L440.73 213.44L441.23 213.13L441.73 212.83L442.23 212.52L442.73 212.20L443.23 211.88L443.73 211.55L444.23 211.22L444.73 210.88L445.23 210.53L445.73 210.18L446.23 209.83L446.73 209.47L447.23 209.10L447.73 208.73L448.23 208.35L448.73 207.96L449.23 207.57L449.73 207.17L450.23 206.77L450.73 206.35L451.23 205.94L451.73 205.51L452.23 205.08L452.73 204.64L453.23 204.19L453.73 203.74L454.23 203.28L454.73 202.81L455.23 202.33L455.73 201.85L456.23 201.36L456.73 200.86L457.23 200.35L457.73 199.84L458.23 199.31L458.73 198.78L459.24 198.24L459.74 197.69L460.24 197.14L460.74 196.57L461.24 196.00L461.74 195.41L462.24 194.82L462.74 194.22L463.24 193.61L463.74 193.00L464.24 192.37L464.74 191.73L465.24 191.09L465.74 190.44L466.24 189.77L466.74 189.10L467.24 188.42L467.74 187.73L468.24 187.03L468.74 186.33L469.24 185.61L469.74 184.89L470.24 184.15L470.74 183.41L471.24 182.66L471.74 181.90L472.24 181.13L472.74 180.35L473.24 179.57L473.74 178.78L474.24 177.98L474.74 177.17L475.24 176.35L475.74 175.53L476.24 174.70L476.74 173.87L477.24 173.02L477.74 172.18L478.24 171.32L478.74 170.46L479.24 169.59L479.74 168.72L480.24 167.85L480.74 166.97L481.24 166.08L481.74 165.19L482.24 164.30L482.74 163.41L483.24 162.51L483.74 161.61L484.24 160.71L484.74 159.81L485.24 158.90L485.74 158.00L486.24 157.09L486.74 156.19L487.24 155.28L487.74 154.38L488.24 153.47L488.75 152.57L489.25 151.67L489.75 150.77L490.25 149.87L490.75 148.97L491.25 148.08L491.75 147.18L492.25 146.29L492.75 145.40L493.25 144.51L493.75 143.63L494.25 142.74L494.75 141.86L495.25 140.98L495.75 140.09L496.25 139.21L496.75 138.33L497.25 137.44L497.75 136.56L498.25 135.67L498.75 134.78L499.25 133.88L499.75 132.98L500.25 132.08L500.75 131.17L501.25 130.26L501.75 129.33L502.25 128.40L502.75 127.45L503.25 126.50L503.75 125.53L504.25 124.54L504.75 123.53L505.25 122.51L505.75 121.46L506.25 120.39L506.75 119.30L507.25 118.17L507.75 117.02L508.25 115.84L508.75 114.62L509.25 113.37L509.75 112.08L510.25 110.75L510.75 109.39L511.25 107.97L511.75 106.52L512.25 105.01L512.75 103.46L513.25 101.86L513.75 100.21L514.25 98.51L514.75 96.76L515.25 94.96L515.75 93.10L516.25 91.19L516.75 89.23L517.25 87.22L517.75 85.16L518.25 83.06L518.76 80.91L519.26 78.72L519.76 76.49L520.26 74.23L520.76 71.95L521.26 69.64L521.76 67.33L522.26 65.00L522.76 62.68L523.26 60.37L523.76 58.08L524.26 55.82L524.76 53.61L525.26 51.46L525.76 49.38L526.26 47.37L526.76 45.47L527.26 43.68L527.76 42.01L528.26 40.48L528.76 39.10L529.26 37.89L529.76 36.85L530.26 36.01L530.76 35.36L531.26 34.92L531.76 34.69L532.26 34.68L532.76 34.90L533.26 35.34L533.76 36.02L534.26 36.94L534.76 38.10L535.26 39.48L535.76 41.07L536.26 42.88L536.76 44.89L537.26 47.08L537.76 49.44L538.26 51.96L538.76 54.62L539.26 57.41L539.76 60.30L540.26 63.29L540.76 66.36L541.26 69.49L541.76 72.67L542.26 75.89L542.76 79.14L543.26 82.39L543.76 85.65L544.26 88.90L544.76 92.13L545.26 95.34L545.76 98.52L546.26 101.66L546.76 104.76L547.26 107.81L547.76 110.80L548.27 113.74L548.77 116.63L549.27 119.45L549.77 122.21L550.27 124.91L550.77 127.54L551.27 130.11L551.77 132.62L552.27 135.06L552.77 137.44L553.27 139.76L553.77 142.01L554.27 144.20L554.77 146.33L555.27 148.40L555.77 150.42L556.27 152.38L556.77 154.28L557.27 156.12L557.77 157.92L558.27 159.66L558.77 161.36L559.27 163.00L559.77 164.60L560.27 166.15L560.77 167.66L561.27 169.12L561.77 170.54L562.27 171.93L562.77 173.27L563.27 174.58L563.77 175.85L564.27 177.08L564.77 178.28L565.27 179.44L565.77 180.58L566.27 181.68L566.77 182.75L567.27 183.80L567.77 184.81L568.27 185.80L568.77 186.77L569.27 187.70L569.77 188.61L570.27 189.50L570.77 190.37L571.27 191.21L571.77 192.03L572.27 192.84L572.77 193.62L573.27 194.38L573.77 195.12L574.27 195.84L574.77 196.55L575.27 197.24L575.77 197.91L576.27 198.57L576.77 199.21L577.27 199.83L577.78 200.45L578.28 201.04L578.78 201.63L579.28 202.20L579.78 202.75L580.28 203.30L580.78 203.83L581.28 204.35L581.78 204.86L582.28 205.35L582.78 205.84L583.28 206.31L583.78 206.78L584.28 207.24L584.78 207.68L585.28 208.12L585.78 208.55L586.28 208.96L586.78 209.37L587.28 209.78L587.78 210.17L588.28 210.55L588.78 210.93L589.28 211.30L589.78 211.67L590.28 212.02L590.78 212.37L591.28 212.71L591.78 213.05L592.28 213.38L592.78 213.70L593.28 214.02L593.78 214.33L594.28 214.63L594.78 214.93L595.28 215.22L595.78 215.51L596.28 215.80L596.78 216.07L597.28 216.35L597.78 216.62L598.28 216.88L598.78 217.14L599.28 217.39L599.78 217.64L600.28 217.89L600.78 218.13L601.28 218.37L601.78 218.60L602.28 218.83L602.78 219.06L603.28 219.28L603.78 219.50L604.28 219.71L604.78 219.92L605.28 220.13L605.78 220.33L606.28 220.53L606.78 220.73L607.28 220.93L607.79 221.12L608.29 221.31L608.79 221.49L609.29 221.68L609.79 221.86L610.29 222.03L610.79 222.21L611.29 222.38L611.79 222.55L612.29 222.72L612.79 222.88L613.29 223.04L613.79 223.20L614.29 223.36L614.79 223.51L615.29 223.67L615.79 223.82L616.29 223.97L616.79 224.11L617.29 224.26L617.79 224.40L618.29 224.54L618.79 224.68L619.29 224.81L619.79 224.95L620.29 225.08L620.79 225.21L621.29 225.34L621.79 225.47L622.29 225.59L622.79 225.72L623.29 225.84L623.79 225.96L624.29 226.08L624.79 226.20L625.29 226.31L625.79 226.43L626.29 226.54L626.79 226.65L627.29 226.76L627.79 226.87L628.29 226.98L628.79 227.08L629.29 227.19L629.79 227.29L630.29 227.39L630.79 227.49L631.29 227.59L631.79 227.69L632.29 227.79L632.79 227.88L633.29 227.98L633.79 228.07L634.29 228.17L634.79 228.26L635.29 228.35L635.79 228.44L636.29 228.53L636.79 228.61L637.30 228.70L637.80 228.78L638.30 228.87L638.80 228.95L639.30 229.03L639.80 229.12L640.30 229.20L640.80 229.28L641.30 229.35L641.80 229.43L642.30 229.51L642.80 229.59L643.30 229.66L643.80 229.74L644.30 229.81L644.80 229.88L645.30 229.95L645.80 230.02L646.30 230.10L646.80 230.17L647.30 230.23L647.80 230.30L648.30 230.37L648.80 230.44L649.30 230.50L649.80 230.57L650.30 230.63L650.80 230.70L651.30 230.76L651.80 230.82" stroke="#ff0000" stroke-width="1.35" fill="none" stroke-linejoin="round"/>
<path d="M355.20 234.06L356.71 234.00M357.48 233.96L358.99 233.89M359.76 233.86L361.27 233.79M362.04 233.75L363.55 233.67M364.33 233.64L365.83 233.56M366.61 233.51L368.11 233.43M368.89 233.39L370.40 233.30M371.17 233.25L372.68 233.16M373.45 233.11L374.96 233.01M375.73 232.95L377.24 232.85M378.02 232.79L379.52 232.68M380.30 232.62L381.80 232.50M382.58 232.44L384.08 232.32M384.86 232.25L386.37 232.12M387.14 232.05L388.65 231.91M389.42 231.83L390.93 231.68M391.70 231.60L393.21 231.44M393.99 231.36L395.49 231.19M396.27 231.10L397.77 230.92M398.55 230.83L400.06 230.63M400.83 230.53L402.34 230.32M403.11 230.22L404.62 230.00M405.39 229.88L406.90 229.65M407.68 229.53L409.18 229.28M409.96 229.15L411.46 228.88M412.24 228.74L413.74 228.45M414.52 228.30L416.03 227.99M416.80 227.83L418.31 227.50M419.08 227.33L420.59 226.98M421.36 226.80L422.87 226.42M423.65 226.22L425.15 225.81M425.93 225.60L427.43 225.16M428.21 224.93L429.72 224.46M430.49 224.22L432.00 223.71M432.77 223.44L434.28 222.90M435.05 222.61L436.56 222.02M437.34 221.72L438.84 221.08M439.62 220.75L441.12 220.07M441.90 219.71L443.40 218.97M444.18 218.59L445.69 217.79M446.46 217.38L447.97 216.52M448.74 216.08L450.25 215.16M451.02 214.68L452.53 213.68M453.31 213.17L454.81 212.10M455.59 211.55L457.09 210.40M457.87 209.81L459.38 208.59M460.15 207.96L461.66 206.65M462.43 205.98L463.94 204.59M464.71 203.88L466.22 202.42M467.00 201.66L468.50 200.13M469.28 199.34L470.78 197.74M471.56 196.92L473.06 195.27M473.84 194.42L475.35 192.74M476.12 191.88L477.63 190.19M478.40 189.32L479.91 187.66M480.68 186.80L482.19 185.19M482.97 184.36L484.47 182.85M485.25 182.07L486.75 180.69M487.53 179.99L489.04 178.79M489.81 178.18L491.32 177.20M492.09 176.70L493.60 175.99M494.37 175.63L495.88 175.20M496.66 174.99L498.16 174.87M498.94 174.81L500.44 175.02M501.22 175.13L502.72 175.66M503.50 175.94L505.01 176.77M505.78 177.20L507.29 178.30M508.06 178.87L509.57 180.19M510.34 180.87L511.85 182.36M512.63 183.13L514.13 184.74M514.91 185.57L516.41 187.26M517.19 188.13L518.70 189.86M519.47 190.75L520.98 192.48M521.75 193.37L523.26 195.07M524.03 195.95L525.54 197.60M526.32 198.46L527.82 200.05M528.60 200.87L530.10 202.39M530.88 203.17L532.38 204.61M533.16 205.35L534.67 206.70M535.44 207.40L536.95 208.67M537.72 209.33L539.23 210.51M540.00 211.13L541.51 212.24M542.29 212.81L543.79 213.84M544.57 214.37L546.07 215.33M546.85 215.83L548.36 216.72M549.13 217.18L550.64 218.01M551.41 218.43L552.92 219.20M553.69 219.60L555.20 220.32M555.98 220.68L557.48 221.35M558.26 221.69L559.76 222.31M560.54 222.63L562.04 223.20M562.82 223.50L564.33 224.03M565.10 224.31L566.61 224.81M567.38 225.07L568.89 225.53M569.66 225.77L571.17 226.21M571.95 226.43L573.45 226.84M574.23 227.04L575.73 227.42M576.51 227.62L578.02 227.98M578.79 228.16L580.30 228.49M581.07 228.66L582.58 228.98M583.35 229.14L584.86 229.43M585.64 229.58L587.14 229.86M587.92 230.00L589.42 230.26M590.20 230.40L591.70 230.64M592.48 230.77L593.99 231.00M594.76 231.12L596.27 231.34M597.04 231.45L598.55 231.66M599.32 231.76L600.83 231.96M601.61 232.06L603.11 232.24M603.89 232.34L605.39 232.51M606.17 232.61L607.68 232.77M608.45 232.86L609.96 233.02M610.73 233.10L612.24 233.25M613.01 233.33L614.52 233.47M615.30 233.54L616.80 233.68M617.58 233.75L619.08 233.88M619.86 233.95L621.36 234.07M622.14 234.14L623.65 234.25M624.42 234.32L625.93 234.43M626.70 234.49L628.21 234.60M628.98 234.65L630.49 234.76M631.27 234.81L632.77 234.91M633.55 234.96L635.05 235.06M635.83 235.11L637.34 235.20M638.11 235.24L639.62 235.33M640.39 235.38L641.90 235.46M642.67 235.51L644.18 235.59M644.96 235.63L646.46 235.71M647.24 235.75L648.74 235.82M649.52 235.86L651.02 235.93" stroke="#ff8000" stroke-width="1.2" fill="none"/>
<path d="M355.20 235.56L356.71 235.53M357.48 235.52L358.99 235.50M359.76 235.49L361.27 235.46M362.04 235.45L363.55 235.42M364.33 235.41L365.83 235.38M366.61 235.36L368.11 235.33M368.89 235.32L370.40 235.29M371.17 235.27L372.68 235.24M373.45 235.22L374.96 235.19M375.73 235.17L377.24 235.13M378.02 235.11L379.52 235.07M380.30 235.05L381.80 235.01M382.58 234.99L384.08 234.95M384.86 234.92L386.37 234.88M387.14 234.85L388.65 234.80M389.42 234.78L390.93 234.73M391.70 234.70L393.21 234.65M393.99 234.62L395.49 234.56M396.27 234.53L397.77 234.47M398.55 234.44L400.06 234.37M400.83 234.34L402.34 234.27M403.11 234.24L404.62 234.16M405.39 234.13L406.90 234.05M407.68 234.01L409.18 233.93M409.96 233.88L411.46 233.80M412.24 233.75L413.74 233.66M414.52 233.61L416.03 233.51M416.80 233.46L418.31 233.36M419.08 233.31L420.59 233.19M421.36 233.14L422.87 233.02M423.65 232.96L425.15 232.83M425.93 232.76L427.43 232.63M428.21 232.56L429.72 232.41M430.49 232.34L432.00 232.18M432.77 232.10L434.28 231.94M435.05 231.85L436.56 231.67M437.34 231.58L438.84 231.39M439.62 231.29L441.12 231.08M441.90 230.98L443.40 230.75M444.18 230.64L445.69 230.40M446.46 230.27L447.97 230.02M448.74 229.88L450.25 229.60M451.02 229.46L452.53 229.15M453.31 228.99L454.81 228.66M455.59 228.49L457.09 228.13M457.87 227.95L459.38 227.56M460.15 227.35L461.66 226.93M462.43 226.70L463.94 226.24M464.71 225.99L466.22 225.48M467.00 225.21L468.50 224.65M469.28 224.36L470.78 223.73M471.56 223.41L473.06 222.72M473.84 222.36L475.35 221.60M476.12 221.20L477.63 220.35M478.40 219.91L479.91 218.97M480.68 218.48L482.19 217.42M482.97 216.87L484.47 215.68M485.25 215.07L486.75 213.73M487.53 213.04L489.04 211.52M489.81 210.74L491.32 209.03M492.09 208.14L493.60 206.19M494.37 205.19L495.88 202.96M496.66 201.81L498.16 199.26M498.94 197.95L500.44 195.03M501.22 193.52L502.72 190.16M503.50 188.43L505.01 184.55M505.78 182.56L507.29 178.10M508.06 175.80L509.57 170.67M510.34 168.03L511.85 162.17M512.63 159.15L514.13 152.49M514.91 149.06L516.41 141.62M517.19 137.79L518.70 129.66M519.47 125.47L520.98 116.87M521.75 112.44L523.26 103.81M524.03 99.36L525.54 91.33M526.32 87.19L527.82 80.58M528.60 77.17L530.10 72.83M530.88 70.59L532.38 69.16M533.16 68.43L534.67 70.24M535.44 71.18L536.95 76.01M537.72 78.50L539.23 85.56M540.00 89.19L541.51 97.53M542.29 101.83L543.79 110.59M544.57 115.11L546.07 123.67M546.85 128.07L548.36 136.05M549.13 140.16L550.64 147.36M551.41 151.07L552.92 157.46M553.69 160.75L555.20 166.35M555.98 169.23L557.48 174.11M558.26 176.63L559.76 180.86M560.54 183.05L562.04 186.73M562.82 188.63L564.33 191.83M565.10 193.48L566.61 196.27M567.38 197.71L568.89 200.16M569.66 201.42L571.17 203.56M571.95 204.67L573.45 206.56M574.23 207.53L575.73 209.20M576.51 210.06L578.02 211.54M578.79 212.31L580.30 213.63M581.07 214.31L582.58 215.49M583.35 216.10L584.86 217.16M585.64 217.71L587.14 218.66M587.92 219.16L589.42 220.02M590.20 220.46L591.70 221.25M592.48 221.65L593.99 222.36M594.76 222.73L596.27 223.37M597.04 223.71L598.55 224.30M599.32 224.60L600.83 225.15M601.61 225.43L603.11 225.93M603.89 226.18L605.39 226.64M606.17 226.88L607.68 227.30M608.45 227.52L609.96 227.91M610.73 228.12L612.24 228.48M613.01 228.67L614.52 229.00M615.30 229.18L616.80 229.49M617.58 229.66L619.08 229.95M619.86 230.10L621.36 230.37M622.14 230.52L623.65 230.77M624.42 230.90L625.93 231.14M626.70 231.27L628.21 231.49M628.98 231.61L630.49 231.82M631.27 231.93L632.77 232.13M633.55 232.23L635.05 232.42M635.83 232.52L637.34 232.70M638.11 232.79L639.62 232.96M640.39 233.04L641.90 233.20M642.67 233.29L644.18 233.44M644.96 233.51L646.46 233.66M647.24 233.73L648.74 233.87M649.52 233.94L651.02 234.07" stroke="#0a800a" stroke-width="1.4" fill="none"/>
<path d="M355.20 253.12L356.34 252.93L357.48 252.96L358.62 252.36L359.76 252.51L360.90 251.86L362.04 251.60L363.19 252.26L364.33 252.45L365.47 251.01L366.61 251.81L367.75 251.94L368.89 252.18L370.03 252.02L371.17 252.16L372.31 252.81L373.45 252.60L374.59 253.53L375.73 252.30L376.87 251.54L378.02 252.10L379.16 252.09L380.30 251.91L381.44 251.94L382.58 252.35L383.72 252.65L384.86 252.45L386.00 252.92L387.14 252.09L388.28 251.27L389.42 251.07L390.56 251.10L391.70 251.49L392.85 252.40L393.99 251.70L395.13 252.07L396.27 251.93L397.41 252.44L398.55 251.49L399.69 250.87L400.83 251.44L401.97 250.86L403.11 251.52L404.25 251.23L405.39 251.86L406.53 251.84L407.68 252.34L408.82 252.94L409.96 252.90L411.10 252.61L412.24 252.10L413.38 251.46L414.52 251.42L415.66 252.26L416.80 252.49L417.94 251.97L419.08 251.07L420.22 251.33L421.36 250.67L422.51 251.28L423.65 251.32L424.79 251.93L425.93 252.78L427.07 253.67L428.21 253.36L429.35 252.50L430.49 252.56L431.63 252.70L432.77 252.39L433.91 251.95L435.05 252.36L436.19 253.31L437.34 252.63L438.48 251.60L439.62 251.48L440.76 251.78L441.90 251.05L443.04 252.19L444.18 253.50L445.32 253.47L446.46 253.13L447.60 252.34L448.74 251.61L449.88 252.53L451.02 253.71L452.17 255.45L453.31 254.72L454.45 253.78L455.59 253.94L456.73 254.88L457.87 254.76L459.01 253.28L460.15 252.57L461.29 253.34L462.43 253.08L463.57 253.59L464.71 254.05L465.85 254.33L467.00 253.79L468.14 252.80L469.28 252.11L470.42 251.59L471.56 252.21L472.70 252.40L473.84 252.41L474.98 252.76L476.12 253.04L477.26 251.56L478.40 249.13L479.54 248.80L480.68 248.43L481.83 248.37L482.97 248.28L484.11 248.28L485.25 248.18L486.39 248.87L487.53 248.60L488.67 247.46L489.81 246.69L490.95 248.10L492.09 250.20L493.23 252.31L494.37 252.59L495.51 252.73L496.66 253.58L497.80 254.05L498.94 254.09L500.08 254.41L501.22 254.36L502.36 252.98L503.50 251.31L504.64 250.25L505.78 250.68L506.92 251.12L508.06 252.11L509.20 252.44L510.34 251.99L511.49 250.88L512.63 250.44L513.77 250.53L514.91 250.02L516.05 250.10L517.19 252.07L518.33 252.87L519.47 253.42L520.61 254.58L521.75 255.59L522.89 256.21L524.03 254.51L525.17 252.51L526.32 249.97L527.46 248.01L528.60 247.14L529.74 245.98L530.88 244.18L532.02 244.46L533.16 243.45L534.30 244.24L535.44 245.71L536.58 247.09L537.72 248.83L538.86 252.56L540.00 257.62L541.15 256.88L542.29 255.48L543.43 255.06L544.57 256.18L545.71 257.54L546.85 256.63L547.99 254.89L549.13 252.75L550.27 253.79L551.41 254.66L552.55 254.36L553.69 253.88L554.83 253.83L555.98 255.21L557.12 254.76L558.26 252.87L559.40 250.91L560.54 250.89L561.68 251.89L562.82 252.13L563.96 251.44L565.10 250.64L566.24 249.49L567.38 251.05L568.52 251.72L569.66 251.86L570.81 251.15L571.95 250.64L573.09 249.68L574.23 249.43L575.37 249.05L576.51 248.43L577.65 248.97L578.79 249.76L579.93 250.42L581.07 251.29L582.21 251.12L583.35 251.02L584.49 250.82L585.64 251.62L586.78 252.31L587.92 250.81L589.06 249.69L590.20 249.99L591.34 250.39L592.48 250.52L593.62 250.57L594.76 249.74L595.90 250.92L597.04 251.24L598.18 250.65L599.32 250.26L600.47 250.80L601.61 252.16L602.75 252.05L603.89 251.34L605.03 252.88L606.17 252.46L607.31 252.11L608.45 251.94L609.59 253.32L610.73 254.31L611.87 253.10L613.01 252.35L614.15 252.41L615.30 252.30L616.44 251.53L617.58 251.36L618.72 251.71L619.86 252.40L621.00 252.30L622.14 253.26L623.28 252.70L624.42 253.00L625.56 252.74L626.70 252.55L627.84 252.55L628.98 252.52L630.13 251.45L631.27 251.40L632.41 251.71L633.55 251.75L634.69 252.05L635.83 251.67L636.97 251.63L638.11 252.41L639.25 252.76L640.39 252.10L641.53 252.53L642.67 252.93L643.81 252.48L644.96 252.38L646.10 252.23L647.24 252.21L648.38 252.66L649.52 252.87L650.66 252.80L651.80 253.43" stroke="#0000ff" stroke-width="1.35" fill="none" stroke-linejoin="round"/>
</g>
<clipPath id="c2"><rect x="28.5" y="268.4" width="296.10" height="265.90"/></clipPath>
<g clip-path="url(#c2)">
<path d="M27.00 499.42a1.5 1.5 0 1 0 3.0 0a1.5 1.5 0 1 0 -3.0 0M28.23 500.04a1.5 1.5 0 1 0 3.0 0a1.5 1.5 0 1 0 -3.0 0M29.47 500.31a1.5 1.5 0 1 0 3.0 0a1.5 1.5 0 1 0 -3.0 0M30.70 499.86a1.5 1.5 0 1 0 3.0 0a1.5 1.5 0 1 0 -3.0 0M31.93 499.97a1.5 1.5 0 1 0 3.0 0a1.5 1.5 0 1 0 -3.0 0M33.17 500.60a1.5 1.5 0 1 0 3.0 0a1.5 1.5 0 1 0 -3.0 0M34.40 499.81a1.5 1.5 0 1 0 3.0 0a1.5 1.5 0 1 0 -3.0 0M35.64 499.61a1.5 1.5 0 1 0 3.0 0a1.5 1.5 0 1 0 -3.0 0M36.87 499.60a1.5 1.5 0 1 0 3.0 0a1.5 1.5 0 1 0 -3.0 0M38.10 499.42a1.5 1.5 0 1 0 3.0 0a1.5 1.5 0 1 0 -3.0 0M39.34 498.55a1.5 1.5 0 1 0 3.0 0a1.5 1.5 0 1 0 -3.0 0M40.57 497.64a1.5 1.5 0 1 0 3.0 0a1.5 1.5 0 1 0 -3.0 0M41.81 498.11a1.5 1.5 0 1 0 3.0 0a1.5 1.5 0 1 0 -3.0 0M43.04 498.57a1.5 1.5 0 1 0 3.0 0a1.5 1.5 0 1 0 -3.0 0M44.27 498.26a1.5 1.5 0 1 0 3.0 0a1.5 1.5 0 1 0 -3.0 0M45.51 499.10a1.5 1.5 0 1 0 3.0 0a1.5 1.5 0 1 0 -3.0 0M46.74 499.66a1.5 1.5 0 1 0 3.0 0a1.5 1.5 0 1 0 -3.0 0M47.97 499.69a1.5 1.5 0 1 0 3.0 0a1.5 1.5 0 1 0 -3.0 0M49.21 499.84a1.5 1.5 0 1 0 3.0 0a1.5 1.5 0 1 0 -3.0 0M50.44 499.54a1.5 1.5 0 1 0 3.0 0a1.5 1.5 0 1 0 -3.0 0M51.67 499.18a1.5 1.5 0 1 0 3.0 0a1.5 1.5 0 1 0 -3.0 0M52.91 498.47a1.5 1.5 0 1 0 3.0 0a1.5 1.5 0 1 0 -3.0 0M54.14 499.42a1.5 1.5 0 1 0 3.0 0a1.5 1.5 0 1 0 -3.0 0M55.38 498.45a1.5 1.5 0 1 0 3.0 0a1.5 1.5 0 1 0 -3.0 0M56.61 497.30a1.5 1.5 0 1 0 3.0 0a1.5 1.5 0 1 0 -3.0 0M57.84 497.81a1.5 1.5 0 1 0 3.0 0a1.5 1.5 0 1 0 -3.0 0M59.08 497.30a1.5 1.5 0 1 0 3.0 0a1.5 1.5 0 1 0 -3.0 0M60.31 497.14a1.5 1.5 0 1 0 3.0 0a1.5 1.5 0 1 0 -3.0 0M61.55 497.88a1.5 1.5 0 1 0 3.0 0a1.5 1.5 0 1 0 -3.0 0M62.78 497.25a1.5 1.5 0 1 0 3.0 0a1.5 1.5 0 1 0 -3.0 0M64.01 496.47a1.5 1.5 0 1 0 3.0 0a1.5 1.5 0 1 0 -3.0 0M65.25 498.18a1.5 1.5 0 1 0 3.0 0a1.5 1.5 0 1 0 -3.0 0M66.48 497.24a1.5 1.5 0 1 0 3.0 0a1.5 1.5 0 1 0 -3.0 0M67.71 495.83a1.5 1.5 0 1 0 3.0 0a1.5 1.5 0 1 0 -3.0 0M68.95 496.65a1.5 1.5 0 1 0 3.0 0a1.5 1.5 0 1 0 -3.0 0M70.18 496.54a1.5 1.5 0 1 0 3.0 0a1.5 1.5 0 1 0 -3.0 0M71.41 496.65a1.5 1.5 0 1 0 3.0 0a1.5 1.5 0 1 0 -3.0 0M72.65 495.80a1.5 1.5 0 1 0 3.0 0a1.5 1.5 0 1 0 -3.0 0M73.88 495.05a1.5 1.5 0 1 0 3.0 0a1.5 1.5 0 1 0 -3.0 0M75.12 495.68a1.5 1.5 0 1 0 3.0 0a1.5 1.5 0 1 0 -3.0 0M76.35 495.71a1.5 1.5 0 1 0 3.0 0a1.5 1.5 0 1 0 -3.0 0M77.58 496.16a1.5 1.5 0 1 0 3.0 0a1.5 1.5 0 1 0 -3.0 0M78.82 496.01a1.5 1.5 0 1 0 3.0 0a1.5 1.5 0 1 0 -3.0 0M80.05 495.14a1.5 1.5 0 1 0 3.0 0a1.5 1.5 0 1 0 -3.0 0M81.29 495.11a1.5 1.5 0 1 0 3.0 0a1.5 1.5 0 1 0 -3.0 0M82.52 494.69a1.5 1.5 0 1 0 3.0 0a1.5 1.5 0 1 0 -3.0 0M83.75 493.19a1.5 1.5 0 1 0 3.0 0a1.5 1.5 0 1 0 -3.0 0M84.99 493.45a1.5 1.5 0 1 0 3.0 0a1.5 1.5 0 1 0 -3.0 0M86.22 493.15a1.5 1.5 0 1 0 3.0 0a1.5 1.5 0 1 0 -3.0 0M87.45 492.93a1.5 1.5 0 1 0 3.0 0a1.5 1.5 0 1 0 -3.0 0M88.69 492.94a1.5 1.5 0 1 0 3.0 0a1.5 1.5 0 1 0 -3.0 0M89.92 491.45a1.5 1.5 0 1 0 3.0 0a1.5 1.5 0 1 0 -3.0 0M91.15 490.31a1.5 1.5 0 1 0 3.0 0a1.5 1.5 0 1 0 -3.0 0M92.39 490.97a1.5 1.5 0 1 0 3.0 0a1.5 1.5 0 1 0 -3.0 0M93.62 491.83a1.5 1.5 0 1 0 3.0 0a1.5 1.5 0 1 0 -3.0 0M94.86 492.76a1.5 1.5 0 1 0 3.0 0a1.5 1.5 0 1 0 -3.0 0M96.09 491.45a1.5 1.5 0 1 0 3.0 0a1.5 1.5 0 1 0 -3.0 0M97.32 490.60a1.5 1.5 0 1 0 3.0 0a1.5 1.5 0 1 0 -3.0 0M98.56 490.02a1.5 1.5 0 1 0 3.0 0a1.5 1.5 0 1 0 -3.0 0M99.79 489.12a1.5 1.5 0 1 0 3.0 0a1.5 1.5 0 1 0 -3.0 0M101.03 488.11a1.5 1.5 0 1 0 3.0 0a1.5 1.5 0 1 0 -3.0 0M102.26 487.46a1.5 1.5 0 1 0 3.0 0a1.5 1.5 0 1 0 -3.0 0M103.49 486.07a1.5 1.5 0 1 0 3.0 0a1.5 1.5 0 1 0 -3.0 0M104.73 485.24a1.5 1.5 0 1 0 3.0 0a1.5 1.5 0 1 0 -3.0 0M105.96 486.19a1.5 1.5 0 1 0 3.0 0a1.5 1.5 0 1 0 -3.0 0M107.19 486.42a1.5 1.5 0 1 0 3.0 0a1.5 1.5 0 1 0 -3.0 0M108.43 484.94a1.5 1.5 0 1 0 3.0 0a1.5 1.5 0 1 0 -3.0 0M109.66 483.56a1.5 1.5 0 1 0 3.0 0a1.5 1.5 0 1 0 -3.0 0M110.89 482.67a1.5 1.5 0 1 0 3.0 0a1.5 1.5 0 1 0 -3.0 0M112.13 483.90a1.5 1.5 0 1 0 3.0 0a1.5 1.5 0 1 0 -3.0 0M113.36 481.36a1.5 1.5 0 1 0 3.0 0a1.5 1.5 0 1 0 -3.0 0M114.60 477.88a1.5 1.5 0 1 0 3.0 0a1.5 1.5 0 1 0 -3.0 0M115.83 475.87a1.5 1.5 0 1 0 3.0 0a1.5 1.5 0 1 0 -3.0 0M117.06 475.78a1.5 1.5 0 1 0 3.0 0a1.5 1.5 0 1 0 -3.0 0M118.30 475.49a1.5 1.5 0 1 0 3.0 0a1.5 1.5 0 1 0 -3.0 0M119.53 474.04a1.5 1.5 0 1 0 3.0 0a1.5 1.5 0 1 0 -3.0 0M120.77 471.15a1.5 1.5 0 1 0 3.0 0a1.5 1.5 0 1 0 -3.0 0M122.00 468.34a1.5 1.5 0 1 0 3.0 0a1.5 1.5 0 1 0 -3.0 0M123.23 466.52a1.5 1.5 0 1 0 3.0 0a1.5 1.5 0 1 0 -3.0 0M124.47 464.00a1.5 1.5 0 1 0 3.0 0a1.5 1.5 0 1 0 -3.0 0M125.70 462.67a1.5 1.5 0 1 0 3.0 0a1.5 1.5 0 1 0 -3.0 0M126.93 459.86a1.5 1.5 0 1 0 3.0 0a1.5 1.5 0 1 0 -3.0 0M128.17 455.64a1.5 1.5 0 1 0 3.0 0a1.5 1.5 0 1 0 -3.0 0M129.40 454.92a1.5 1.5 0 1 0 3.0 0a1.5 1.5 0 1 0 -3.0 0M130.63 452.96a1.5 1.5 0 1 0 3.0 0a1.5 1.5 0 1 0 -3.0 0M131.87 448.20a1.5 1.5 0 1 0 3.0 0a1.5 1.5 0 1 0 -3.0 0M133.10 442.77a1.5 1.5 0 1 0 3.0 0a1.5 1.5 0 1 0 -3.0 0M134.34 440.27a1.5 1.5 0 1 0 3.0 0a1.5 1.5 0 1 0 -3.0 0M135.57 437.69a1.5 1.5 0 1 0 3.0 0a1.5 1.5 0 1 0 -3.0 0M136.80 434.90a1.5 1.5 0 1 0 3.0 0a1.5 1.5 0 1 0 -3.0 0M138.04 430.66a1.5 1.5 0 1 0 3.0 0a1.5 1.5 0 1 0 -3.0 0M139.27 429.79a1.5 1.5 0 1 0 3.0 0a1.5 1.5 0 1 0 -3.0 0M140.51 432.25a1.5 1.5 0 1 0 3.0 0a1.5 1.5 0 1 0 -3.0 0M141.74 431.66a1.5 1.5 0 1 0 3.0 0a1.5 1.5 0 1 0 -3.0 0M142.97 432.14a1.5 1.5 0 1 0 3.0 0a1.5 1.5 0 1 0 -3.0 0M144.21 431.67a1.5 1.5 0 1 0 3.0 0a1.5 1.5 0 1 0 -3.0 0M145.44 432.17a1.5 1.5 0 1 0 3.0 0a1.5 1.5 0 1 0 -3.0 0M146.67 430.73a1.5 1.5 0 1 0 3.0 0a1.5 1.5 0 1 0 -3.0 0M147.91 430.05a1.5 1.5 0 1 0 3.0 0a1.5 1.5 0 1 0 -3.0 0M149.14 431.10a1.5 1.5 0 1 0 3.0 0a1.5 1.5 0 1 0 -3.0 0M150.37 431.24a1.5 1.5 0 1 0 3.0 0a1.5 1.5 0 1 0 -3.0 0M151.61 431.25a1.5 1.5 0 1 0 3.0 0a1.5 1.5 0 1 0 -3.0 0M152.84 432.95a1.5 1.5 0 1 0 3.0 0a1.5 1.5 0 1 0 -3.0 0M154.08 435.25a1.5 1.5 0 1 0 3.0 0a1.5 1.5 0 1 0 -3.0 0M155.31 436.36a1.5 1.5 0 1 0 3.0 0a1.5 1.5 0 1 0 -3.0 0M156.54 436.63a1.5 1.5 0 1 0 3.0 0a1.5 1.5 0 1 0 -3.0 0M157.78 438.54a1.5 1.5 0 1 0 3.0 0a1.5 1.5 0 1 0 -3.0 0M159.01 441.36a1.5 1.5 0 1 0 3.0 0a1.5 1.5 0 1 0 -3.0 0M160.25 442.65a1.5 1.5 0 1 0 3.0 0a1.5 1.5 0 1 0 -3.0 0M161.48 442.41a1.5 1.5 0 1 0 3.0 0a1.5 1.5 0 1 0 -3.0 0M162.71 446.20a1.5 1.5 0 1 0 3.0 0a1.5 1.5 0 1 0 -3.0 0M163.95 445.23a1.5 1.5 0 1 0 3.0 0a1.5 1.5 0 1 0 -3.0 0M165.18 444.55a1.5 1.5 0 1 0 3.0 0a1.5 1.5 0 1 0 -3.0 0M166.41 447.08a1.5 1.5 0 1 0 3.0 0a1.5 1.5 0 1 0 -3.0 0M167.65 449.10a1.5 1.5 0 1 0 3.0 0a1.5 1.5 0 1 0 -3.0 0M168.88 448.92a1.5 1.5 0 1 0 3.0 0a1.5 1.5 0 1 0 -3.0 0M170.11 448.95a1.5 1.5 0 1 0 3.0 0a1.5 1.5 0 1 0 -3.0 0M171.35 449.01a1.5 1.5 0 1 0 3.0 0a1.5 1.5 0 1 0 -3.0 0M172.58 448.51a1.5 1.5 0 1 0 3.0 0a1.5 1.5 0 1 0 -3.0 0M173.82 447.69a1.5 1.5 0 1 0 3.0 0a1.5 1.5 0 1 0 -3.0 0M175.05 448.56a1.5 1.5 0 1 0 3.0 0a1.5 1.5 0 1 0 -3.0 0M176.28 449.15a1.5 1.5 0 1 0 3.0 0a1.5 1.5 0 1 0 -3.0 0M177.52 450.41a1.5 1.5 0 1 0 3.0 0a1.5 1.5 0 1 0 -3.0 0M178.75 449.34a1.5 1.5 0 1 0 3.0 0a1.5 1.5 0 1 0 -3.0 0M179.99 448.30a1.5 1.5 0 1 0 3.0 0a1.5 1.5 0 1 0 -3.0 0M181.22 447.67a1.5 1.5 0 1 0 3.0 0a1.5 1.5 0 1 0 -3.0 0M182.45 446.96a1.5 1.5 0 1 0 3.0 0a1.5 1.5 0 1 0 -3.0 0M183.69 445.56a1.5 1.5 0 1 0 3.0 0a1.5 1.5 0 1 0 -3.0 0M184.92 444.86a1.5 1.5 0 1 0 3.0 0a1.5 1.5 0 1 0 -3.0 0M186.15 443.93a1.5 1.5 0 1 0 3.0 0a1.5 1.5 0 1 0 -3.0 0M187.39 441.26a1.5 1.5 0 1 0 3.0 0a1.5 1.5 0 1 0 -3.0 0M188.62 440.21a1.5 1.5 0 1 0 3.0 0a1.5 1.5 0 1 0 -3.0 0M189.85 439.57a1.5 1.5 0 1 0 3.0 0a1.5 1.5 0 1 0 -3.0 0M191.09 438.52a1.5 1.5 0 1 0 3.0 0a1.5 1.5 0 1 0 -3.0 0M192.32 436.33a1.5 1.5 0 1 0 3.0 0a1.5 1.5 0 1 0 -3.0 0M193.56 432.81a1.5 1.5 0 1 0 3.0 0a1.5 1.5 0 1 0 -3.0 0M194.79 428.96a1.5 1.5 0 1 0 3.0 0a1.5 1.5 0 1 0 -3.0 0M196.02 425.35a1.5 1.5 0 1 0 3.0 0a1.5 1.5 0 1 0 -3.0 0M197.26 423.40a1.5 1.5 0 1 0 3.0 0a1.5 1.5 0 1 0 -3.0 0M198.49 419.58a1.5 1.5 0 1 0 3.0 0a1.5 1.5 0 1 0 -3.0 0M199.73 415.67a1.5 1.5 0 1 0 3.0 0a1.5 1.5 0 1 0 -3.0 0M200.96 412.66a1.5 1.5 0 1 0 3.0 0a1.5 1.5 0 1 0 -3.0 0M202.19 405.65a1.5 1.5 0 1 0 3.0 0a1.5 1.5 0 1 0 -3.0 0M203.43 400.26a1.5 1.5 0 1 0 3.0 0a1.5 1.5 0 1 0 -3.0 0M204.66 392.40a1.5 1.5 0 1 0 3.0 0a1.5 1.5 0 1 0 -3.0 0M205.89 383.42a1.5 1.5 0 1 0 3.0 0a1.5 1.5 0 1 0 -3.0 0M207.13 377.22a1.5 1.5 0 1 0 3.0 0a1.5 1.5 0 1 0 -3.0 0M208.36 369.81a1.5 1.5 0 1 0 3.0 0a1.5 1.5 0 1 0 -3.0 0M209.59 362.30a1.5 1.5 0 1 0 3.0 0a1.5 1.5 0 1 0 -3.0 0M210.83 354.29a1.5 1.5 0 1 0 3.0 0a1.5 1.5 0 1 0 -3.0 0M212.06 343.37a1.5 1.5 0 1 0 3.0 0a1.5 1.5 0 1 0 -3.0 0M213.30 331.28a1.5 1.5 0 1 0 3.0 0a1.5 1.5 0 1 0 -3.0 0M214.53 321.42a1.5 1.5 0 1 0 3.0 0a1.5 1.5 0 1 0 -3.0 0M215.76 312.05a1.5 1.5 0 1 0 3.0 0a1.5 1.5 0 1 0 -3.0 0M217.00 302.96a1.5 1.5 0 1 0 3.0 0a1.5 1.5 0 1 0 -3.0 0M218.23 300.20a1.5 1.5 0 1 0 3.0 0a1.5 1.5 0 1 0 -3.0 0M219.47 294.23a1.5 1.5 0 1 0 3.0 0a1.5 1.5 0 1 0 -3.0 0M220.70 286.85a1.5 1.5 0 1 0 3.0 0a1.5 1.5 0 1 0 -3.0 0M221.93 289.79a1.5 1.5 0 1 0 3.0 0a1.5 1.5 0 1 0 -3.0 0M223.17 300.82a1.5 1.5 0 1 0 3.0 0a1.5 1.5 0 1 0 -3.0 0M224.40 313.78a1.5 1.5 0 1 0 3.0 0a1.5 1.5 0 1 0 -3.0 0M225.63 325.21a1.5 1.5 0 1 0 3.0 0a1.5 1.5 0 1 0 -3.0 0M226.87 337.60a1.5 1.5 0 1 0 3.0 0a1.5 1.5 0 1 0 -3.0 0M228.10 352.77a1.5 1.5 0 1 0 3.0 0a1.5 1.5 0 1 0 -3.0 0M229.33 368.41a1.5 1.5 0 1 0 3.0 0a1.5 1.5 0 1 0 -3.0 0M230.57 382.81a1.5 1.5 0 1 0 3.0 0a1.5 1.5 0 1 0 -3.0 0M231.80 391.99a1.5 1.5 0 1 0 3.0 0a1.5 1.5 0 1 0 -3.0 0M233.04 400.14a1.5 1.5 0 1 0 3.0 0a1.5 1.5 0 1 0 -3.0 0M234.27 409.39a1.5 1.5 0 1 0 3.0 0a1.5 1.5 0 1 0 -3.0 0M235.50 416.10a1.5 1.5 0 1 0 3.0 0a1.5 1.5 0 1 0 -3.0 0M236.74 421.60a1.5 1.5 0 1 0 3.0 0a1.5 1.5 0 1 0 -3.0 0M237.97 429.69a1.5 1.5 0 1 0 3.0 0a1.5 1.5 0 1 0 -3.0 0M239.21 435.69a1.5 1.5 0 1 0 3.0 0a1.5 1.5 0 1 0 -3.0 0M240.44 441.48a1.5 1.5 0 1 0 3.0 0a1.5 1.5 0 1 0 -3.0 0M241.67 446.63a1.5 1.5 0 1 0 3.0 0a1.5 1.5 0 1 0 -3.0 0M242.91 449.70a1.5 1.5 0 1 0 3.0 0a1.5 1.5 0 1 0 -3.0 0M244.14 454.56a1.5 1.5 0 1 0 3.0 0a1.5 1.5 0 1 0 -3.0 0M245.37 459.88a1.5 1.5 0 1 0 3.0 0a1.5 1.5 0 1 0 -3.0 0M246.61 460.95a1.5 1.5 0 1 0 3.0 0a1.5 1.5 0 1 0 -3.0 0M247.84 464.13a1.5 1.5 0 1 0 3.0 0a1.5 1.5 0 1 0 -3.0 0M249.07 465.71a1.5 1.5 0 1 0 3.0 0a1.5 1.5 0 1 0 -3.0 0M250.31 467.00a1.5 1.5 0 1 0 3.0 0a1.5 1.5 0 1 0 -3.0 0M251.54 467.66a1.5 1.5 0 1 0 3.0 0a1.5 1.5 0 1 0 -3.0 0M252.78 470.44a1.5 1.5 0 1 0 3.0 0a1.5 1.5 0 1 0 -3.0 0M254.01 472.07a1.5 1.5 0 1 0 3.0 0a1.5 1.5 0 1 0 -3.0 0M255.24 473.95a1.5 1.5 0 1 0 3.0 0a1.5 1.5 0 1 0 -3.0 0M256.48 475.31a1.5 1.5 0 1 0 3.0 0a1.5 1.5 0 1 0 -3.0 0M257.71 476.34a1.5 1.5 0 1 0 3.0 0a1.5 1.5 0 1 0 -3.0 0M258.95 477.80a1.5 1.5 0 1 0 3.0 0a1.5 1.5 0 1 0 -3.0 0M260.18 479.03a1.5 1.5 0 1 0 3.0 0a1.5 1.5 0 1 0 -3.0 0M261.41 479.53a1.5 1.5 0 1 0 3.0 0a1.5 1.5 0 1 0 -3.0 0M262.65 480.48a1.5 1.5 0 1 0 3.0 0a1.5 1.5 0 1 0 -3.0 0M263.88 480.75a1.5 1.5 0 1 0 3.0 0a1.5 1.5 0 1 0 -3.0 0M265.11 481.38a1.5 1.5 0 1 0 3.0 0a1.5 1.5 0 1 0 -3.0 0M266.35 481.58a1.5 1.5 0 1 0 3.0 0a1.5 1.5 0 1 0 -3.0 0M267.58 482.31a1.5 1.5 0 1 0 3.0 0a1.5 1.5 0 1 0 -3.0 0M268.81 483.96a1.5 1.5 0 1 0 3.0 0a1.5 1.5 0 1 0 -3.0 0M270.05 485.90a1.5 1.5 0 1 0 3.0 0a1.5 1.5 0 1 0 -3.0 0M271.28 487.10a1.5 1.5 0 1 0 3.0 0a1.5 1.5 0 1 0 -3.0 0M272.52 487.33a1.5 1.5 0 1 0 3.0 0a1.5 1.5 0 1 0 -3.0 0M273.75 487.82a1.5 1.5 0 1 0 3.0 0a1.5 1.5 0 1 0 -3.0 0M274.98 487.59a1.5 1.5 0 1 0 3.0 0a1.5 1.5 0 1 0 -3.0 0M276.22 487.13a1.5 1.5 0 1 0 3.0 0a1.5 1.5 0 1 0 -3.0 0M277.45 489.20a1.5 1.5 0 1 0 3.0 0a1.5 1.5 0 1 0 -3.0 0M278.69 489.48a1.5 1.5 0 1 0 3.0 0a1.5 1.5 0 1 0 -3.0 0M279.92 492.01a1.5 1.5 0 1 0 3.0 0a1.5 1.5 0 1 0 -3.0 0M281.15 492.82a1.5 1.5 0 1 0 3.0 0a1.5 1.5 0 1 0 -3.0 0M282.39 489.89a1.5 1.5 0 1 0 3.0 0a1.5 1.5 0 1 0 -3.0 0M283.62 489.31a1.5 1.5 0 1 0 3.0 0a1.5 1.5 0 1 0 -3.0 0M284.85 490.76a1.5 1.5 0 1 0 3.0 0a1.5 1.5 0 1 0 -3.0 0M286.09 492.52a1.5 1.5 0 1 0 3.0 0a1.5 1.5 0 1 0 -3.0 0M287.32 491.31a1.5 1.5 0 1 0 3.0 0a1.5 1.5 0 1 0 -3.0 0M288.55 490.00a1.5 1.5 0 1 0 3.0 0a1.5 1.5 0 1 0 -3.0 0M289.79 490.27a1.5 1.5 0 1 0 3.0 0a1.5 1.5 0 1 0 -3.0 0M291.02 492.18a1.5 1.5 0 1 0 3.0 0a1.5 1.5 0 1 0 -3.0 0M292.26 493.32a1.5 1.5 0 1 0 3.0 0a1.5 1.5 0 1 0 -3.0 0M293.49 493.36a1.5 1.5 0 1 0 3.0 0a1.5 1.5 0 1 0 -3.0 0M294.72 493.74a1.5 1.5 0 1 0 3.0 0a1.5 1.5 0 1 0 -3.0 0M295.96 492.68a1.5 1.5 0 1 0 3.0 0a1.5 1.5 0 1 0 -3.0 0M297.19 492.95a1.5 1.5 0 1 0 3.0 0a1.5 1.5 0 1 0 -3.0 0M298.43 494.49a1.5 1.5 0 1 0 3.0 0a1.5 1.5 0 1 0 -3.0 0M299.66 494.69a1.5 1.5 0 1 0 3.0 0a1.5 1.5 0 1 0 -3.0 0M300.89 495.19a1.5 1.5 0 1 0 3.0 0a1.5 1.5 0 1 0 -3.0 0M302.13 495.48a1.5 1.5 0 1 0 3.0 0a1.5 1.5 0 1 0 -3.0 0M303.36 494.78a1.5 1.5 0 1 0 3.0 0a1.5 1.5 0 1 0 -3.0 0M304.59 495.23a1.5 1.5 0 1 0 3.0 0a1.5 1.5 0 1 0 -3.0 0M305.83 496.53a1.5 1.5 0 1 0 3.0 0a1.5 1.5 0 1 0 -3.0 0M307.06 496.40a1.5 1.5 0 1 0 3.0 0a1.5 1.5 0 1 0 -3.0 0M308.29 496.41a1.5 1.5 0 1 0 3.0 0a1.5 1.5 0 1 0 -3.0 0M309.53 497.89a1.5 1.5 0 1 0 3.0 0a1.5 1.5 0 1 0 -3.0 0M310.76 496.82a1.5 1.5 0 1 0 3.0 0a1.5 1.5 0 1 0 -3.0 0M312.00 496.89a1.5 1.5 0 1 0 3.0 0a1.5 1.5 0 1 0 -3.0 0M313.23 496.57a1.5 1.5 0 1 0 3.0 0a1.5 1.5 0 1 0 -3.0 0M314.46 495.33a1.5 1.5 0 1 0 3.0 0a1.5 1.5 0 1 0 -3.0 0M315.70 495.27a1.5 1.5 0 1 0 3.0 0a1.5 1.5 0 1 0 -3.0 0M316.93 495.90a1.5 1.5 0 1 0 3.0 0a1.5 1.5 0 1 0 -3.0 0M318.17 496.91a1.5 1.5 0 1 0 3.0 0a1.5 1.5 0 1 0 -3.0 0M319.40 499.37a1.5 1.5 0 1 0 3.0 0a1.5 1.5 0 1 0 -3.0 0M320.63 497.25a1.5 1.5 0 1 0 3.0 0a1.5 1.5 0 1 0 -3.0 0M321.87 497.69a1.5 1.5 0 1 0 3.0 0a1.5 1.5 0 1 0 -3.0 0M323.10 498.48a1.5 1.5 0 1 0 3.0 0a1.5 1.5 0 1 0 -3.0 0" fill="#000"/>
<path d="M28.50 500.00L29.00 499.98L29.50 499.95L30.00 499.93L30.50 499.91L31.00 499.88L31.50 499.86L32.00 499.83L32.50 499.81L33.00 499.78L33.50 499.76L34.00 499.73L34.50 499.71L35.00 499.68L35.50 499.66L36.00 499.63L36.50 499.60L37.00 499.58L37.50 499.55L38.00 499.52L38.50 499.49L39.00 499.46L39.50 499.43L40.00 499.41L40.50 499.38L41.00 499.35L41.50 499.32L42.00 499.29L42.50 499.25L43.00 499.22L43.51 499.19L44.01 499.16L44.51 499.13L45.01 499.09L45.51 499.06L46.01 499.03L46.51 498.99L47.01 498.96L47.51 498.92L48.01 498.89L48.51 498.85L49.01 498.82L49.51 498.78L50.01 498.74L50.51 498.70L51.01 498.67L51.51 498.63L52.01 498.59L52.51 498.55L53.01 498.51L53.51 498.47L54.01 498.43L54.51 498.38L55.01 498.34L55.51 498.30L56.01 498.25L56.51 498.21L57.01 498.17L57.51 498.12L58.01 498.07L58.51 498.03L59.01 497.98L59.51 497.93L60.01 497.88L60.51 497.83L61.01 497.78L61.51 497.73L62.01 497.68L62.51 497.63L63.01 497.58L63.51 497.52L64.01 497.47L64.51 497.41L65.01 497.35L65.51 497.30L66.01 497.24L66.51 497.18L67.01 497.12L67.51 497.06L68.01 497.00L68.51 496.93L69.01 496.87L69.51 496.80L70.01 496.74L70.51 496.67L71.01 496.60L71.51 496.53L72.01 496.46L72.51 496.39L73.02 496.32L73.52 496.25L74.02 496.17L74.52 496.09L75.02 496.02L75.52 495.94L76.02 495.86L76.52 495.77L77.02 495.69L77.52 495.61L78.02 495.52L78.52 495.43L79.02 495.34L79.52 495.25L80.02 495.16L80.52 495.06L81.02 494.97L81.52 494.87L82.02 494.77L82.52 494.67L83.02 494.56L83.52 494.46L84.02 494.35L84.52 494.24L85.02 494.12L85.52 494.01L86.02 493.89L86.52 493.77L87.02 493.65L87.52 493.53L88.02 493.40L88.52 493.27L89.02 493.14L89.52 493.00L90.02 492.87L90.52 492.73L91.02 492.58L91.52 492.44L92.02 492.29L92.52 492.13L93.02 491.98L93.52 491.82L94.02 491.65L94.52 491.48L95.02 491.31L95.52 491.14L96.02 490.96L96.52 490.77L97.02 490.59L97.52 490.39L98.02 490.20L98.52 490.00L99.02 489.79L99.52 489.58L100.02 489.36L100.52 489.14L101.02 488.91L101.52 488.68L102.02 488.44L102.52 488.19L103.03 487.94L103.53 487.68L104.03 487.42L104.53 487.15L105.03 486.87L105.53 486.58L106.03 486.29L106.53 485.99L107.03 485.68L107.53 485.36L108.03 485.03L108.53 484.70L109.03 484.35L109.53 483.99L110.03 483.63L110.53 483.25L111.03 482.87L111.53 482.47L112.03 482.06L112.53 481.65L113.03 481.21L113.53 480.77L114.03 480.31L114.53 479.84L115.03 479.36L115.53 478.86L116.03 478.35L116.53 477.82L117.03 477.28L117.53 476.72L118.03 476.14L118.53 475.55L119.03 474.94L119.53 474.31L120.03 473.67L120.53 473.01L121.03 472.32L121.53 471.62L122.03 470.90L122.53 470.15L123.03 469.39L123.53 468.60L124.03 467.79L124.53 466.96L125.03 466.11L125.53 465.24L126.03 464.34L126.53 463.43L127.03 462.49L127.53 461.52L128.03 460.54L128.53 459.53L129.03 458.51L129.53 457.46L130.03 456.40L130.53 455.31L131.03 454.21L131.53 453.10L132.03 451.97L132.54 450.82L133.04 449.67L133.54 448.52L134.04 447.35L134.54 446.19L135.04 445.03L135.54 443.88L136.04 442.73L136.54 441.60L137.04 440.48L137.54 439.39L138.04 438.33L138.54 437.30L139.04 436.30L139.54 435.35L140.04 434.44L140.54 433.59L141.04 432.79L141.54 432.05L142.04 431.37L142.54 430.77L143.04 430.23L143.54 429.76L144.04 429.37L144.54 429.05L145.04 428.81L145.54 428.64L146.04 428.54L146.54 428.51L147.04 428.55L147.54 428.65L148.04 428.81L148.54 429.04L149.04 429.31L149.54 429.65L150.04 430.03L150.54 430.45L151.04 430.92L151.54 431.42L152.04 431.95L152.54 432.51L153.04 433.09L153.54 433.70L154.04 434.32L154.54 434.94L155.04 435.58L155.54 436.22L156.04 436.87L156.54 437.51L157.04 438.14L157.54 438.77L158.04 439.39L158.54 440.00L159.04 440.59L159.54 441.17L160.04 441.73L160.54 442.28L161.04 442.80L161.54 443.31L162.05 443.80L162.55 444.26L163.05 444.71L163.55 445.13L164.05 445.53L164.55 445.91L165.05 446.26L165.55 446.60L166.05 446.91L166.55 447.20L167.05 447.47L167.55 447.71L168.05 447.94L168.55 448.14L169.05 448.33L169.55 448.49L170.05 448.64L170.55 448.76L171.05 448.87L171.55 448.96L172.05 449.03L172.55 449.08L173.05 449.12L173.55 449.14L174.05 449.14L174.55 449.12L175.05 449.09L175.55 449.04L176.05 448.98L176.55 448.90L177.05 448.81L177.55 448.70L178.05 448.58L178.55 448.44L179.05 448.28L179.55 448.12L180.05 447.93L180.55 447.73L181.05 447.52L181.55 447.29L182.05 447.05L182.55 446.79L183.05 446.51L183.55 446.21L184.05 445.90L184.55 445.58L185.05 445.23L185.55 444.87L186.05 444.49L186.55 444.10L187.05 443.69L187.55 443.26L188.05 442.82L188.55 442.36L189.05 441.87L189.55 441.37L190.05 440.84L190.55 440.29L191.05 439.71L191.56 439.10L192.06 438.46L192.56 437.79L193.06 437.09L193.56 436.35L194.06 435.57L194.56 434.74L195.06 433.88L195.56 432.97L196.06 432.01L196.56 430.99L197.06 429.92L197.56 428.79L198.06 427.60L198.56 426.35L199.06 425.02L199.56 423.63L200.06 422.15L200.56 420.60L201.06 418.96L201.56 417.23L202.06 415.41L202.56 413.49L203.06 411.47L203.56 409.35L204.06 407.12L204.56 404.77L205.06 402.30L205.56 399.71L206.06 397.00L206.56 394.15L207.06 391.18L207.56 388.07L208.06 384.82L208.56 381.44L209.06 377.92L209.56 374.27L210.06 370.49L210.56 366.59L211.06 362.56L211.56 358.42L212.06 354.19L212.56 349.87L213.06 345.48L213.56 341.05L214.06 336.60L214.56 332.15L215.06 327.73L215.56 323.39L216.06 319.15L216.56 315.06L217.06 311.16L217.56 307.49L218.06 304.11L218.56 301.05L219.06 298.35L219.56 296.06L220.06 294.22L220.56 292.84L221.07 291.96L221.57 291.60L222.07 291.78L222.57 292.66L223.07 294.26L223.57 296.54L224.07 299.45L224.57 302.94L225.07 306.94L225.57 311.38L226.07 316.17L226.57 321.24L227.07 326.52L227.57 331.94L228.07 337.44L228.57 342.97L229.07 348.48L229.57 353.93L230.07 359.28L230.57 364.52L231.07 369.62L231.57 374.56L232.07 379.35L232.57 383.95L233.07 388.39L233.57 392.64L234.07 396.72L234.57 400.62L235.07 404.36L235.57 407.93L236.07 411.33L236.57 414.58L237.07 417.69L237.57 420.65L238.07 423.47L238.57 426.16L239.07 428.73L239.57 431.18L240.07 433.52L240.57 435.75L241.07 437.88L241.57 439.92L242.07 441.87L242.57 443.72L243.07 445.50L243.57 447.20L244.07 448.83L244.57 450.39L245.07 451.88L245.57 453.31L246.07 454.68L246.57 456.00L247.07 457.26L247.57 458.47L248.07 459.63L248.57 460.75L249.07 461.82L249.57 462.86L250.07 463.85L250.57 464.81L251.08 465.73L251.58 466.62L252.08 467.48L252.58 468.30L253.08 469.10L253.58 469.87L254.08 470.61L254.58 471.32L255.08 472.02L255.58 472.69L256.08 473.33L256.58 473.96L257.08 474.56L257.58 475.15L258.08 475.72L258.58 476.27L259.08 476.80L259.58 477.32L260.08 477.82L260.58 478.30L261.08 478.77L261.58 479.23L262.08 479.68L262.58 480.11L263.08 480.53L263.58 480.93L264.08 481.33L264.58 481.71L265.08 482.09L265.58 482.45L266.08 482.80L266.58 483.15L267.08 483.48L267.58 483.81L268.08 484.13L268.58 484.44L269.08 484.74L269.58 485.04L270.08 485.32L270.58 485.60L271.08 485.88L271.58 486.14L272.08 486.40L272.58 486.66L273.08 486.90L273.58 487.15L274.08 487.38L274.58 487.61L275.08 487.84L275.58 488.06L276.08 488.27L276.58 488.48L277.08 488.69L277.58 488.89L278.08 489.09L278.58 489.28L279.08 489.47L279.58 489.65L280.08 489.83L280.59 490.01L281.09 490.18L281.59 490.35L282.09 490.52L282.59 490.68L283.09 490.84L283.59 491.00L284.09 491.15L284.59 491.30L285.09 491.44L285.59 491.59L286.09 491.73L286.59 491.87L287.09 492.00L287.59 492.14L288.09 492.27L288.59 492.40L289.09 492.52L289.59 492.65L290.09 492.77L290.59 492.89L291.09 493.00L291.59 493.12L292.09 493.23L292.59 493.34L293.09 493.45L293.59 493.56L294.09 493.66L294.59 493.77L295.09 493.87L295.59 493.97L296.09 494.07L296.59 494.16L297.09 494.26L297.59 494.35L298.09 494.44L298.59 494.53L299.09 494.62L299.59 494.71L300.09 494.79L300.59 494.88L301.09 494.96L301.59 495.04L302.09 495.12L302.59 495.20L303.09 495.28L303.59 495.36L304.09 495.43L304.59 495.51L305.09 495.58L305.59 495.65L306.09 495.72L306.59 495.79L307.09 495.86L307.59 495.93L308.09 496.00L308.59 496.06L309.09 496.13L309.59 496.19L310.10 496.26L310.60 496.32L311.10 496.38L311.60 496.44L312.10 496.50L312.60 496.56L313.10 496.62L313.60 496.67L314.10 496.73L314.60 496.78L315.10 496.84L315.60 496.89L316.10 496.95L316.60 497.00L317.10 497.05L317.60 497.10L318.10 497.15L318.60 497.20L319.10 497.25L319.60 497.30L320.10 497.35L320.60 497.40L321.10 497.44L321.60 497.49L322.10 497.53L322.60 497.58L323.10 497.62L323.60 497.67L324.10 497.71L324.60 497.75" stroke="#ff0000" stroke-width="1.35" fill="none" stroke-linejoin="round"/>
<path d="M28.50 501.14L30.13 501.08M30.97 501.05L32.60 500.99M33.43 500.96L35.06 500.89M35.90 500.86L37.53 500.79M38.37 500.76L40.00 500.68M40.84 500.65L42.47 500.57M43.31 500.53L44.93 500.45M45.77 500.41L47.40 500.32M48.24 500.27L49.87 500.18M50.71 500.13L52.34 500.03M53.17 499.98L54.80 499.87M55.64 499.81L57.27 499.70M58.11 499.64L59.74 499.51M60.58 499.45L62.21 499.31M63.05 499.24L64.67 499.09M65.51 499.02L67.14 498.86M67.98 498.78L69.61 498.60M70.45 498.51L72.08 498.33M72.91 498.23L74.54 498.02M75.38 497.92L77.01 497.69M77.85 497.58L79.48 497.33M80.32 497.20L81.95 496.93M82.79 496.79L84.41 496.49M85.25 496.33L86.88 496.00M87.72 495.83L89.35 495.46M90.19 495.27L91.82 494.86M92.65 494.65L94.28 494.18M95.12 493.95L96.75 493.43M97.59 493.16L99.22 492.58M100.06 492.28L101.69 491.61M102.53 491.27L104.15 490.52M104.99 490.13L106.62 489.28M107.46 488.83L109.09 487.85M109.93 487.35L111.56 486.22M112.39 485.64L114.02 484.34M114.86 483.67L116.49 482.17M117.33 481.39L118.96 479.66M119.80 478.76L121.43 476.76M122.27 475.73L123.89 473.44M124.73 472.25L126.36 469.64M127.20 468.30L128.83 465.39M129.67 463.89L131.30 460.73M132.13 459.10L133.76 455.83M134.60 454.14L136.23 450.98M137.07 449.36L138.70 446.64M139.54 445.23L141.17 443.33M142.01 442.35L143.63 441.59M144.47 441.19L146.10 441.67M146.94 441.92L148.57 443.52M149.41 444.35L151.04 446.82M151.87 448.09L153.50 451.11M154.34 452.67L155.97 455.91M156.81 457.58L158.44 460.81M159.28 462.47L160.91 465.52M161.75 467.08L163.37 469.86M164.21 471.29L165.84 473.76M166.68 475.03L168.31 477.20M169.15 478.31L170.78 480.20M171.61 481.17L173.24 482.81M174.08 483.65L175.71 485.06M176.55 485.79L178.18 487.01M179.02 487.64L180.65 488.70M181.49 489.24L183.11 490.16M183.95 490.64L185.58 491.44M186.42 491.85L188.05 492.55M188.89 492.91L190.52 493.52M191.35 493.84L192.98 494.38M193.82 494.66L195.45 495.13M196.29 495.38L197.92 495.80M198.76 496.02L200.39 496.39M201.23 496.59L202.85 496.92M203.69 497.09L205.32 497.39M206.16 497.55L207.79 497.82M208.63 497.96L210.26 498.20M211.09 498.32L212.72 498.54M213.56 498.66L215.19 498.86M216.03 498.96L217.66 499.14M218.50 499.23L220.13 499.39M220.97 499.48L222.59 499.63M223.43 499.71L225.06 499.84M225.90 499.91L227.53 500.04M228.37 500.10L230.00 500.22M230.83 500.28L232.46 500.39M233.30 500.44L234.93 500.54M235.77 500.59L237.40 500.68M238.24 500.73L239.87 500.81M240.71 500.85L242.33 500.93M243.17 500.97L244.80 501.05M245.64 501.08L247.27 501.15M248.11 501.18L249.74 501.25M250.57 501.28L252.20 501.34M253.04 501.37L254.67 501.42M255.51 501.45L257.14 501.50M257.98 501.53L259.61 501.58M260.45 501.60L262.07 501.65M262.91 501.67L264.54 501.71M265.38 501.73L267.01 501.77M267.85 501.79L269.48 501.83M270.31 501.85L271.94 501.89M272.78 501.90L274.41 501.94M275.25 501.95L276.88 501.99M277.72 502.00L279.35 502.03M280.19 502.05L281.81 502.07M282.65 502.09L284.28 502.12M285.12 502.13L286.75 502.15M287.59 502.17L289.22 502.19M290.05 502.20L291.68 502.23M292.52 502.24L294.15 502.26M294.99 502.27L296.62 502.29M297.46 502.30L299.09 502.32M299.93 502.33L301.55 502.35M302.39 502.36L304.02 502.38M304.86 502.38L306.49 502.40M307.33 502.41L308.96 502.43M309.79 502.43L311.42 502.45M312.26 502.46L313.89 502.47M314.73 502.48L316.36 502.49M317.20 502.50L318.83 502.51M319.67 502.52L321.29 502.53M322.13 502.54L323.76 502.55" stroke="#ff8000" stroke-width="1.2" fill="none"/>
<path d="M28.50 503.35L30.13 503.35M30.97 503.35L32.60 503.35M33.43 503.35L35.06 503.35M35.90 503.35L37.53 503.35M38.37 503.35L40.00 503.35M40.84 503.35L42.47 503.35M43.31 503.34L44.93 503.34M45.77 503.34L47.40 503.34M48.24 503.34L49.87 503.34M50.71 503.34L52.34 503.34M53.17 503.34L54.80 503.34M55.64 503.34L57.27 503.34M58.11 503.34L59.74 503.34M60.58 503.34L62.21 503.33M63.05 503.33L64.67 503.33M65.51 503.33L67.14 503.33M67.98 503.33L69.61 503.33M70.45 503.33L72.08 503.32M72.91 503.32L74.54 503.32M75.38 503.32L77.01 503.32M77.85 503.32L79.48 503.31M80.32 503.31L81.95 503.31M82.79 503.30L84.41 503.30M85.25 503.29L86.88 503.29M87.72 503.28L89.35 503.28M90.19 503.27L91.82 503.26M92.65 503.25L94.28 503.24M95.12 503.23L96.75 503.22M97.59 503.21L99.22 503.19M100.06 503.18L101.69 503.15M102.53 503.14L104.15 503.10M104.99 503.09L106.62 503.05M107.46 503.03L109.09 502.98M109.93 502.95L111.56 502.89M112.39 502.86L114.02 502.78M114.86 502.74L116.49 502.65M117.33 502.60L118.96 502.49M119.80 502.44L121.43 502.30M122.27 502.23L123.89 502.07M124.73 501.99L126.36 501.80M127.20 501.70L128.83 501.47M129.67 501.35L131.30 501.09M132.13 500.95L133.76 500.64M134.60 500.48L136.23 500.12M137.07 499.94L138.70 499.53M139.54 499.32L141.17 498.86M142.01 498.62L143.63 498.11M144.47 497.84L146.10 497.27M146.94 496.97L148.57 496.35M149.41 496.03L151.04 495.35M151.87 495.00L153.50 494.28M154.34 493.91L155.97 493.16M156.81 492.77L158.44 491.99M159.28 491.58L160.91 490.79M161.75 490.39L163.37 489.60M164.21 489.19L165.84 488.43M166.68 488.04L168.31 487.31M169.15 486.94L170.78 486.27M171.61 485.93L173.24 485.34M174.08 485.04L175.71 484.54M176.55 484.29L178.18 483.91M179.02 483.71L180.65 483.45M181.49 483.31L183.11 483.18M183.95 483.11L185.58 483.12M186.42 483.13L188.05 483.35M188.89 483.46L190.52 483.87M191.35 484.09L192.98 484.67M193.82 484.97L195.45 485.69M196.29 486.06L197.92 486.87M198.76 487.28L200.39 488.15M201.23 488.59L202.85 489.47M203.69 489.93L205.32 490.80M206.16 491.24L207.79 492.08M208.63 492.51L210.26 493.29M211.09 493.69L212.72 494.41M213.56 494.79L215.19 495.44M216.03 495.78L217.66 496.37M218.50 496.67L220.13 497.20M220.97 497.47L222.59 497.93M223.43 498.17L225.06 498.58M225.90 498.79L227.53 499.15M228.37 499.34L230.00 499.65M230.83 499.81L232.46 500.09M233.30 500.23L234.93 500.47M235.77 500.59L237.40 500.80M238.24 500.90L239.87 501.08M240.71 501.18L242.33 501.33M243.17 501.41L244.80 501.55M245.64 501.62L247.27 501.74M248.11 501.80L249.74 501.91M250.57 501.96L252.20 502.05M253.04 502.10L254.67 502.18M255.51 502.22L257.14 502.29M257.98 502.33L259.61 502.39M260.45 502.42L262.07 502.48M262.91 502.51L264.54 502.56M265.38 502.58L267.01 502.62M267.85 502.64L269.48 502.68M270.31 502.70L271.94 502.74M272.78 502.75L274.41 502.78M275.25 502.80L276.88 502.82M277.72 502.84L279.35 502.86M280.19 502.87L281.81 502.89M282.65 502.90L284.28 502.92M285.12 502.93L286.75 502.95M287.59 502.96L289.22 502.97M290.05 502.98L291.68 502.99M292.52 503.00L294.15 503.01M294.99 503.02L296.62 503.03M297.46 503.04L299.09 503.05M299.93 503.05L301.55 503.06M302.39 503.06L304.02 503.07M304.86 503.08L306.49 503.08M307.33 503.09L308.96 503.09M309.79 503.10L311.42 503.10M312.26 503.11L313.89 503.11M314.73 503.11L316.36 503.12M317.20 503.12L318.83 503.13M319.67 503.13L321.29 503.13M322.13 503.13L323.76 503.14" stroke="#0a800a" stroke-width="1.4" fill="none"/>
<path d="M28.50 502.22L30.13 502.20M30.97 502.19L32.60 502.17M33.43 502.15L35.06 502.13M35.90 502.12L37.53 502.10M38.37 502.09L40.00 502.07M40.84 502.05L42.47 502.03M43.31 502.02L44.93 501.99M45.77 501.98L47.40 501.96M48.24 501.94L49.87 501.92M50.71 501.90L52.34 501.87M53.17 501.86L54.80 501.83M55.64 501.82L57.27 501.79M58.11 501.77L59.74 501.74M60.58 501.72L62.21 501.69M63.05 501.67L64.67 501.64M65.51 501.62L67.14 501.58M67.98 501.56L69.61 501.53M70.45 501.51L72.08 501.47M72.91 501.45L74.54 501.41M75.38 501.38L77.01 501.34M77.85 501.32L79.48 501.27M80.32 501.25L81.95 501.20M82.79 501.18L84.41 501.12M85.25 501.10L86.88 501.05M87.72 501.02L89.35 500.96M90.19 500.93L91.82 500.87M92.65 500.84L94.28 500.78M95.12 500.75L96.75 500.68M97.59 500.65L99.22 500.58M100.06 500.54L101.69 500.46M102.53 500.43L104.15 500.35M104.99 500.31L106.62 500.22M107.46 500.18L109.09 500.09M109.93 500.04L111.56 499.95M112.39 499.90L114.02 499.80M114.86 499.74L116.49 499.63M117.33 499.58L118.96 499.46M119.80 499.40L121.43 499.28M122.27 499.21L123.89 499.08M124.73 499.01L126.36 498.87M127.20 498.79L128.83 498.64M129.67 498.56L131.30 498.39M132.13 498.30L133.76 498.12M134.60 498.03L136.23 497.83M137.07 497.73L138.70 497.52M139.54 497.41L141.17 497.17M142.01 497.05L143.63 496.80M144.47 496.67L146.10 496.39M146.94 496.25L148.57 495.94M149.41 495.78L151.04 495.45M151.87 495.28L153.50 494.91M154.34 494.71L155.97 494.30M156.81 494.09L158.44 493.64M159.28 493.40L160.91 492.89M161.75 492.63L163.37 492.06M164.21 491.77L165.84 491.13M166.68 490.80L168.31 490.07M169.15 489.70L170.78 488.88M171.61 488.46L173.24 487.52M174.08 487.04L175.71 485.96M176.55 485.41L178.18 484.17M179.02 483.53L180.65 482.09M181.49 481.35L183.11 479.66M183.95 478.80L185.58 476.82M186.42 475.80L188.05 473.45M188.89 472.24L190.52 469.44M191.35 467.99L192.98 464.62M193.82 462.88L195.45 458.78M196.29 456.67L197.92 451.67M198.76 449.09L200.39 442.94M201.23 439.78L202.85 432.20M203.69 428.30L205.32 419.00M206.16 414.20L207.79 402.90M208.63 397.07L210.26 383.71M211.09 376.82L212.72 361.87M213.56 354.16L215.19 339.03M216.03 331.24L217.66 318.59M218.50 312.08L220.13 305.23M220.97 301.70L222.59 303.56M223.43 304.53L225.06 316.30M225.90 322.37L227.53 339.19M228.37 347.86L230.00 364.92M230.83 373.70L232.46 388.59M233.30 396.26L234.93 408.41M235.77 414.66L237.40 424.31M238.24 429.28L239.87 436.90M240.71 440.83L242.33 446.87M243.17 449.99L244.80 454.82M245.64 457.32L247.27 461.23M248.11 463.24L249.74 466.44M250.57 468.09L252.20 470.73M253.04 472.09L254.67 474.30M255.51 475.44L257.14 477.30M257.98 478.26L259.61 479.85M260.45 480.66L262.07 482.02M262.91 482.72L264.54 483.90M265.38 484.50L267.01 485.52M267.85 486.05L269.48 486.95M270.31 487.41L271.94 488.20M272.78 488.60L274.41 489.30M275.25 489.66L276.88 490.28M277.72 490.60L279.35 491.16M280.19 491.45L281.81 491.95M282.65 492.20L284.28 492.65M285.12 492.89L286.75 493.29M287.59 493.50L289.22 493.87M290.05 494.06L291.68 494.40M292.52 494.57L294.15 494.88M294.99 495.04L296.62 495.32M297.46 495.47L299.09 495.73M299.93 495.86L301.55 496.10M302.39 496.23L304.02 496.45M304.86 496.56L306.49 496.77M307.33 496.87L308.96 497.06M309.79 497.16L311.42 497.33M312.26 497.42L313.89 497.59M314.73 497.67L316.36 497.83M317.20 497.91L318.83 498.05M319.67 498.12L321.29 498.26M322.13 498.32L323.76 498.45" stroke="#a020d0" stroke-width="1.4" fill="none"/>
<path d="M28.50 518.09L29.73 518.48L30.97 518.56L32.20 518.28L33.43 517.92L34.67 518.59L35.90 517.86L37.14 517.59L38.37 517.60L39.60 518.22L40.84 518.30L42.07 517.56L43.31 517.58L44.54 517.72L45.77 517.35L47.01 518.05L48.24 519.01L49.47 518.40L50.71 518.45L51.94 519.12L53.17 519.49L54.41 518.40L55.64 518.66L56.88 518.73L58.11 518.14L59.34 518.22L60.58 518.45L61.81 518.64L63.05 518.24L64.28 518.30L65.51 518.05L66.75 518.41L67.98 518.09L69.21 517.85L70.45 518.47L71.68 518.11L72.91 518.32L74.15 518.54L75.38 518.50L76.62 518.61L77.85 518.66L79.08 518.86L80.32 518.95L81.55 519.00L82.79 518.22L84.02 517.93L85.25 518.01L86.49 518.53L87.72 518.19L88.95 517.95L90.19 517.97L91.42 517.33L92.65 516.97L93.89 518.12L95.12 518.54L96.36 518.65L97.59 518.49L98.82 518.87L100.06 518.60L101.29 518.81L102.53 518.86L103.76 518.83L104.99 518.87L106.23 518.92L107.46 519.35L108.69 519.48L109.93 519.23L111.16 519.52L112.39 519.16L113.63 520.05L114.86 519.57L116.10 519.03L117.33 518.07L118.56 518.60L119.80 520.11L121.03 520.37L122.27 519.17L123.50 518.19L124.73 518.12L125.97 518.45L127.20 518.63L128.43 518.79L129.67 518.29L130.90 518.84L132.13 518.49L133.37 516.95L134.60 516.68L135.84 516.65L137.07 514.81L138.30 515.52L139.54 515.60L140.77 515.92L142.01 517.05L143.24 518.11L144.47 519.88L145.71 520.89L146.94 522.44L148.17 520.66L149.41 520.42L150.64 520.21L151.87 518.94L153.11 517.87L154.34 517.92L155.58 518.36L156.81 517.49L158.04 515.77L159.28 516.98L160.51 518.27L161.75 518.73L162.98 517.55L164.21 518.84L165.45 518.84L166.68 517.75L167.91 517.02L169.15 517.95L170.38 518.63L171.61 519.18L172.85 518.51L174.08 517.43L175.32 516.27L176.55 517.32L177.78 518.09L179.02 519.51L180.25 520.16L181.49 520.77L182.72 520.58L183.95 519.48L185.19 519.19L186.42 519.04L187.65 519.67L188.89 519.07L190.12 518.81L191.35 519.13L192.59 518.81L193.82 518.81L195.06 518.50L196.29 517.61L197.52 516.20L198.76 515.69L199.99 515.32L201.23 515.80L202.46 515.87L203.69 515.21L204.93 516.99L206.16 517.03L207.39 515.32L208.63 514.32L209.86 516.44L211.09 519.06L212.33 519.52L213.56 519.40L214.80 519.70L216.03 520.64L217.26 521.34L218.50 521.29L219.73 520.71L220.97 518.13L222.20 514.83L223.43 513.00L224.67 514.97L225.90 516.39L227.13 516.38L228.37 517.32L229.60 519.14L230.83 519.80L232.07 519.98L233.30 519.68L234.54 519.40L235.77 518.98L237.00 518.11L238.24 516.90L239.47 517.02L240.71 517.99L241.94 519.21L243.17 517.97L244.41 518.14L245.64 519.45L246.87 520.72L248.11 520.02L249.34 519.91L250.57 518.66L251.81 518.49L253.04 517.56L254.28 518.86L255.51 518.76L256.74 518.69L257.98 517.78L259.21 517.49L260.45 518.00L261.68 518.17L262.91 517.50L264.15 517.27L265.38 516.16L266.61 515.74L267.85 516.79L269.08 516.96L270.31 517.22L271.55 517.90L272.78 518.22L274.02 517.91L275.25 517.46L276.48 517.51L277.72 517.08L278.95 518.32L280.19 518.53L281.42 518.95L282.65 518.57L283.89 517.58L285.12 517.57L286.35 517.98L287.59 518.91L288.82 518.18L290.05 517.20L291.29 516.43L292.52 517.46L293.76 518.16L294.99 517.78L296.22 517.59L297.46 517.09L298.69 517.36L299.93 518.22L301.16 518.91L302.39 518.41L303.63 518.95L304.86 518.53L306.09 518.11L307.33 518.67L308.56 518.86L309.79 519.08L311.03 519.56L312.26 518.51L313.50 518.59L314.73 518.19L315.96 517.48L317.20 517.45L318.43 518.15L319.67 518.42L320.90 519.56L322.13 518.31L323.37 518.53L324.60 518.70" stroke="#0000ff" stroke-width="1.35" fill="none" stroke-linejoin="round"/>
</g>
<clipPath id="c3"><rect x="355.2" y="268.4" width="296.60" height="265.90"/></clipPath>
<g clip-path="url(#c3)">
<path d="M353.70 499.16a1.5 1.5 0 1 0 3.0 0a1.5 1.5 0 1 0 -3.0 0M354.84 499.09a1.5 1.5 0 1 0 3.0 0a1.5 1.5 0 1 0 -3.0 0M355.98 498.43a1.5 1.5 0 1 0 3.0 0a1.5 1.5 0 1 0 -3.0 0M357.12 498.56a1.5 1.5 0 1 0 3.0 0a1.5 1.5 0 1 0 -3.0 0M358.26 497.08a1.5 1.5 0 1 0 3.0 0a1.5 1.5 0 1 0 -3.0 0M359.40 496.38a1.5 1.5 0 1 0 3.0 0a1.5 1.5 0 1 0 -3.0 0M360.54 497.17a1.5 1.5 0 1 0 3.0 0a1.5 1.5 0 1 0 -3.0 0M361.69 497.28a1.5 1.5 0 1 0 3.0 0a1.5 1.5 0 1 0 -3.0 0M362.83 497.55a1.5 1.5 0 1 0 3.0 0a1.5 1.5 0 1 0 -3.0 0M363.97 497.02a1.5 1.5 0 1 0 3.0 0a1.5 1.5 0 1 0 -3.0 0M365.11 497.32a1.5 1.5 0 1 0 3.0 0a1.5 1.5 0 1 0 -3.0 0M366.25 496.77a1.5 1.5 0 1 0 3.0 0a1.5 1.5 0 1 0 -3.0 0M367.39 496.40a1.5 1.5 0 1 0 3.0 0a1.5 1.5 0 1 0 -3.0 0M368.53 496.87a1.5 1.5 0 1 0 3.0 0a1.5 1.5 0 1 0 -3.0 0M369.67 497.42a1.5 1.5 0 1 0 3.0 0a1.5 1.5 0 1 0 -3.0 0M370.81 497.35a1.5 1.5 0 1 0 3.0 0a1.5 1.5 0 1 0 -3.0 0M371.95 498.31a1.5 1.5 0 1 0 3.0 0a1.5 1.5 0 1 0 -3.0 0M373.09 498.46a1.5 1.5 0 1 0 3.0 0a1.5 1.5 0 1 0 -3.0 0M374.23 497.07a1.5 1.5 0 1 0 3.0 0a1.5 1.5 0 1 0 -3.0 0M375.37 494.61a1.5 1.5 0 1 0 3.0 0a1.5 1.5 0 1 0 -3.0 0M376.52 494.74a1.5 1.5 0 1 0 3.0 0a1.5 1.5 0 1 0 -3.0 0M377.66 496.10a1.5 1.5 0 1 0 3.0 0a1.5 1.5 0 1 0 -3.0 0M378.80 496.37a1.5 1.5 0 1 0 3.0 0a1.5 1.5 0 1 0 -3.0 0M379.94 496.74a1.5 1.5 0 1 0 3.0 0a1.5 1.5 0 1 0 -3.0 0M381.08 495.91a1.5 1.5 0 1 0 3.0 0a1.5 1.5 0 1 0 -3.0 0M382.22 495.23a1.5 1.5 0 1 0 3.0 0a1.5 1.5 0 1 0 -3.0 0M383.36 496.15a1.5 1.5 0 1 0 3.0 0a1.5 1.5 0 1 0 -3.0 0M384.50 496.85a1.5 1.5 0 1 0 3.0 0a1.5 1.5 0 1 0 -3.0 0M385.64 495.69a1.5 1.5 0 1 0 3.0 0a1.5 1.5 0 1 0 -3.0 0M386.78 494.59a1.5 1.5 0 1 0 3.0 0a1.5 1.5 0 1 0 -3.0 0M387.92 493.25a1.5 1.5 0 1 0 3.0 0a1.5 1.5 0 1 0 -3.0 0M389.06 493.00a1.5 1.5 0 1 0 3.0 0a1.5 1.5 0 1 0 -3.0 0M390.20 494.61a1.5 1.5 0 1 0 3.0 0a1.5 1.5 0 1 0 -3.0 0M391.35 494.32a1.5 1.5 0 1 0 3.0 0a1.5 1.5 0 1 0 -3.0 0M392.49 493.20a1.5 1.5 0 1 0 3.0 0a1.5 1.5 0 1 0 -3.0 0M393.63 493.73a1.5 1.5 0 1 0 3.0 0a1.5 1.5 0 1 0 -3.0 0M394.77 494.15a1.5 1.5 0 1 0 3.0 0a1.5 1.5 0 1 0 -3.0 0M395.91 492.78a1.5 1.5 0 1 0 3.0 0a1.5 1.5 0 1 0 -3.0 0M397.05 491.45a1.5 1.5 0 1 0 3.0 0a1.5 1.5 0 1 0 -3.0 0M398.19 491.57a1.5 1.5 0 1 0 3.0 0a1.5 1.5 0 1 0 -3.0 0M399.33 491.99a1.5 1.5 0 1 0 3.0 0a1.5 1.5 0 1 0 -3.0 0M400.47 491.55a1.5 1.5 0 1 0 3.0 0a1.5 1.5 0 1 0 -3.0 0M401.61 491.57a1.5 1.5 0 1 0 3.0 0a1.5 1.5 0 1 0 -3.0 0M402.75 491.25a1.5 1.5 0 1 0 3.0 0a1.5 1.5 0 1 0 -3.0 0M403.89 491.90a1.5 1.5 0 1 0 3.0 0a1.5 1.5 0 1 0 -3.0 0M405.03 492.07a1.5 1.5 0 1 0 3.0 0a1.5 1.5 0 1 0 -3.0 0M406.18 492.22a1.5 1.5 0 1 0 3.0 0a1.5 1.5 0 1 0 -3.0 0M407.32 493.83a1.5 1.5 0 1 0 3.0 0a1.5 1.5 0 1 0 -3.0 0M408.46 492.99a1.5 1.5 0 1 0 3.0 0a1.5 1.5 0 1 0 -3.0 0M409.60 490.85a1.5 1.5 0 1 0 3.0 0a1.5 1.5 0 1 0 -3.0 0M410.74 488.20a1.5 1.5 0 1 0 3.0 0a1.5 1.5 0 1 0 -3.0 0M411.88 488.34a1.5 1.5 0 1 0 3.0 0a1.5 1.5 0 1 0 -3.0 0M413.02 489.16a1.5 1.5 0 1 0 3.0 0a1.5 1.5 0 1 0 -3.0 0M414.16 490.02a1.5 1.5 0 1 0 3.0 0a1.5 1.5 0 1 0 -3.0 0M415.30 489.15a1.5 1.5 0 1 0 3.0 0a1.5 1.5 0 1 0 -3.0 0M416.44 488.27a1.5 1.5 0 1 0 3.0 0a1.5 1.5 0 1 0 -3.0 0M417.58 489.35a1.5 1.5 0 1 0 3.0 0a1.5 1.5 0 1 0 -3.0 0M418.72 489.40a1.5 1.5 0 1 0 3.0 0a1.5 1.5 0 1 0 -3.0 0M419.86 486.74a1.5 1.5 0 1 0 3.0 0a1.5 1.5 0 1 0 -3.0 0M421.01 486.41a1.5 1.5 0 1 0 3.0 0a1.5 1.5 0 1 0 -3.0 0M422.15 486.50a1.5 1.5 0 1 0 3.0 0a1.5 1.5 0 1 0 -3.0 0M423.29 485.24a1.5 1.5 0 1 0 3.0 0a1.5 1.5 0 1 0 -3.0 0M424.43 486.34a1.5 1.5 0 1 0 3.0 0a1.5 1.5 0 1 0 -3.0 0M425.57 487.80a1.5 1.5 0 1 0 3.0 0a1.5 1.5 0 1 0 -3.0 0M426.71 487.06a1.5 1.5 0 1 0 3.0 0a1.5 1.5 0 1 0 -3.0 0M427.85 487.58a1.5 1.5 0 1 0 3.0 0a1.5 1.5 0 1 0 -3.0 0M428.99 486.45a1.5 1.5 0 1 0 3.0 0a1.5 1.5 0 1 0 -3.0 0M430.13 484.94a1.5 1.5 0 1 0 3.0 0a1.5 1.5 0 1 0 -3.0 0M431.27 485.24a1.5 1.5 0 1 0 3.0 0a1.5 1.5 0 1 0 -3.0 0M432.41 483.37a1.5 1.5 0 1 0 3.0 0a1.5 1.5 0 1 0 -3.0 0M433.55 481.09a1.5 1.5 0 1 0 3.0 0a1.5 1.5 0 1 0 -3.0 0M434.69 483.73a1.5 1.5 0 1 0 3.0 0a1.5 1.5 0 1 0 -3.0 0M435.84 484.03a1.5 1.5 0 1 0 3.0 0a1.5 1.5 0 1 0 -3.0 0M436.98 481.71a1.5 1.5 0 1 0 3.0 0a1.5 1.5 0 1 0 -3.0 0M438.12 479.49a1.5 1.5 0 1 0 3.0 0a1.5 1.5 0 1 0 -3.0 0M439.26 478.97a1.5 1.5 0 1 0 3.0 0a1.5 1.5 0 1 0 -3.0 0M440.40 479.20a1.5 1.5 0 1 0 3.0 0a1.5 1.5 0 1 0 -3.0 0M441.54 479.33a1.5 1.5 0 1 0 3.0 0a1.5 1.5 0 1 0 -3.0 0M442.68 479.19a1.5 1.5 0 1 0 3.0 0a1.5 1.5 0 1 0 -3.0 0M443.82 477.35a1.5 1.5 0 1 0 3.0 0a1.5 1.5 0 1 0 -3.0 0M444.96 476.43a1.5 1.5 0 1 0 3.0 0a1.5 1.5 0 1 0 -3.0 0M446.10 475.00a1.5 1.5 0 1 0 3.0 0a1.5 1.5 0 1 0 -3.0 0M447.24 473.98a1.5 1.5 0 1 0 3.0 0a1.5 1.5 0 1 0 -3.0 0M448.38 473.64a1.5 1.5 0 1 0 3.0 0a1.5 1.5 0 1 0 -3.0 0M449.52 474.46a1.5 1.5 0 1 0 3.0 0a1.5 1.5 0 1 0 -3.0 0M450.67 473.84a1.5 1.5 0 1 0 3.0 0a1.5 1.5 0 1 0 -3.0 0M451.81 472.82a1.5 1.5 0 1 0 3.0 0a1.5 1.5 0 1 0 -3.0 0M452.95 473.07a1.5 1.5 0 1 0 3.0 0a1.5 1.5 0 1 0 -3.0 0M454.09 471.82a1.5 1.5 0 1 0 3.0 0a1.5 1.5 0 1 0 -3.0 0M455.23 469.31a1.5 1.5 0 1 0 3.0 0a1.5 1.5 0 1 0 -3.0 0M456.37 468.84a1.5 1.5 0 1 0 3.0 0a1.5 1.5 0 1 0 -3.0 0M457.51 468.72a1.5 1.5 0 1 0 3.0 0a1.5 1.5 0 1 0 -3.0 0M458.65 466.33a1.5 1.5 0 1 0 3.0 0a1.5 1.5 0 1 0 -3.0 0M459.79 465.80a1.5 1.5 0 1 0 3.0 0a1.5 1.5 0 1 0 -3.0 0M460.93 464.26a1.5 1.5 0 1 0 3.0 0a1.5 1.5 0 1 0 -3.0 0M462.07 461.99a1.5 1.5 0 1 0 3.0 0a1.5 1.5 0 1 0 -3.0 0M463.21 462.76a1.5 1.5 0 1 0 3.0 0a1.5 1.5 0 1 0 -3.0 0M464.35 461.93a1.5 1.5 0 1 0 3.0 0a1.5 1.5 0 1 0 -3.0 0M465.50 458.69a1.5 1.5 0 1 0 3.0 0a1.5 1.5 0 1 0 -3.0 0M466.64 454.74a1.5 1.5 0 1 0 3.0 0a1.5 1.5 0 1 0 -3.0 0M467.78 451.87a1.5 1.5 0 1 0 3.0 0a1.5 1.5 0 1 0 -3.0 0M468.92 451.57a1.5 1.5 0 1 0 3.0 0a1.5 1.5 0 1 0 -3.0 0M470.06 450.22a1.5 1.5 0 1 0 3.0 0a1.5 1.5 0 1 0 -3.0 0M471.20 449.23a1.5 1.5 0 1 0 3.0 0a1.5 1.5 0 1 0 -3.0 0M472.34 448.66a1.5 1.5 0 1 0 3.0 0a1.5 1.5 0 1 0 -3.0 0M473.48 445.77a1.5 1.5 0 1 0 3.0 0a1.5 1.5 0 1 0 -3.0 0M474.62 444.52a1.5 1.5 0 1 0 3.0 0a1.5 1.5 0 1 0 -3.0 0M475.76 442.21a1.5 1.5 0 1 0 3.0 0a1.5 1.5 0 1 0 -3.0 0M476.90 438.09a1.5 1.5 0 1 0 3.0 0a1.5 1.5 0 1 0 -3.0 0M478.04 434.99a1.5 1.5 0 1 0 3.0 0a1.5 1.5 0 1 0 -3.0 0M479.18 432.06a1.5 1.5 0 1 0 3.0 0a1.5 1.5 0 1 0 -3.0 0M480.33 428.73a1.5 1.5 0 1 0 3.0 0a1.5 1.5 0 1 0 -3.0 0M481.47 425.07a1.5 1.5 0 1 0 3.0 0a1.5 1.5 0 1 0 -3.0 0M482.61 423.59a1.5 1.5 0 1 0 3.0 0a1.5 1.5 0 1 0 -3.0 0M483.75 422.31a1.5 1.5 0 1 0 3.0 0a1.5 1.5 0 1 0 -3.0 0M484.89 420.85a1.5 1.5 0 1 0 3.0 0a1.5 1.5 0 1 0 -3.0 0M486.03 416.14a1.5 1.5 0 1 0 3.0 0a1.5 1.5 0 1 0 -3.0 0M487.17 413.31a1.5 1.5 0 1 0 3.0 0a1.5 1.5 0 1 0 -3.0 0M488.31 411.88a1.5 1.5 0 1 0 3.0 0a1.5 1.5 0 1 0 -3.0 0M489.45 412.27a1.5 1.5 0 1 0 3.0 0a1.5 1.5 0 1 0 -3.0 0M490.59 412.61a1.5 1.5 0 1 0 3.0 0a1.5 1.5 0 1 0 -3.0 0M491.73 411.28a1.5 1.5 0 1 0 3.0 0a1.5 1.5 0 1 0 -3.0 0M492.87 409.85a1.5 1.5 0 1 0 3.0 0a1.5 1.5 0 1 0 -3.0 0M494.01 409.08a1.5 1.5 0 1 0 3.0 0a1.5 1.5 0 1 0 -3.0 0M495.16 405.40a1.5 1.5 0 1 0 3.0 0a1.5 1.5 0 1 0 -3.0 0M496.30 401.85a1.5 1.5 0 1 0 3.0 0a1.5 1.5 0 1 0 -3.0 0M497.44 402.35a1.5 1.5 0 1 0 3.0 0a1.5 1.5 0 1 0 -3.0 0M498.58 402.69a1.5 1.5 0 1 0 3.0 0a1.5 1.5 0 1 0 -3.0 0M499.72 399.64a1.5 1.5 0 1 0 3.0 0a1.5 1.5 0 1 0 -3.0 0M500.86 396.81a1.5 1.5 0 1 0 3.0 0a1.5 1.5 0 1 0 -3.0 0M502.00 391.96a1.5 1.5 0 1 0 3.0 0a1.5 1.5 0 1 0 -3.0 0M503.14 386.68a1.5 1.5 0 1 0 3.0 0a1.5 1.5 0 1 0 -3.0 0M504.28 384.82a1.5 1.5 0 1 0 3.0 0a1.5 1.5 0 1 0 -3.0 0M505.42 383.16a1.5 1.5 0 1 0 3.0 0a1.5 1.5 0 1 0 -3.0 0M506.56 381.40a1.5 1.5 0 1 0 3.0 0a1.5 1.5 0 1 0 -3.0 0M507.70 379.20a1.5 1.5 0 1 0 3.0 0a1.5 1.5 0 1 0 -3.0 0M508.84 378.91a1.5 1.5 0 1 0 3.0 0a1.5 1.5 0 1 0 -3.0 0M509.99 374.80a1.5 1.5 0 1 0 3.0 0a1.5 1.5 0 1 0 -3.0 0M511.13 367.96a1.5 1.5 0 1 0 3.0 0a1.5 1.5 0 1 0 -3.0 0M512.27 365.07a1.5 1.5 0 1 0 3.0 0a1.5 1.5 0 1 0 -3.0 0M513.41 361.27a1.5 1.5 0 1 0 3.0 0a1.5 1.5 0 1 0 -3.0 0M514.55 357.91a1.5 1.5 0 1 0 3.0 0a1.5 1.5 0 1 0 -3.0 0M515.69 352.47a1.5 1.5 0 1 0 3.0 0a1.5 1.5 0 1 0 -3.0 0M516.83 344.93a1.5 1.5 0 1 0 3.0 0a1.5 1.5 0 1 0 -3.0 0M517.97 338.77a1.5 1.5 0 1 0 3.0 0a1.5 1.5 0 1 0 -3.0 0M519.11 334.02a1.5 1.5 0 1 0 3.0 0a1.5 1.5 0 1 0 -3.0 0M520.25 329.36a1.5 1.5 0 1 0 3.0 0a1.5 1.5 0 1 0 -3.0 0M521.39 327.38a1.5 1.5 0 1 0 3.0 0a1.5 1.5 0 1 0 -3.0 0M522.53 322.43a1.5 1.5 0 1 0 3.0 0a1.5 1.5 0 1 0 -3.0 0M523.67 313.86a1.5 1.5 0 1 0 3.0 0a1.5 1.5 0 1 0 -3.0 0M524.82 307.42a1.5 1.5 0 1 0 3.0 0a1.5 1.5 0 1 0 -3.0 0M525.96 301.47a1.5 1.5 0 1 0 3.0 0a1.5 1.5 0 1 0 -3.0 0M527.10 296.80a1.5 1.5 0 1 0 3.0 0a1.5 1.5 0 1 0 -3.0 0M528.24 292.62a1.5 1.5 0 1 0 3.0 0a1.5 1.5 0 1 0 -3.0 0M529.38 294.10a1.5 1.5 0 1 0 3.0 0a1.5 1.5 0 1 0 -3.0 0M530.52 294.20a1.5 1.5 0 1 0 3.0 0a1.5 1.5 0 1 0 -3.0 0M531.66 295.24a1.5 1.5 0 1 0 3.0 0a1.5 1.5 0 1 0 -3.0 0M532.80 298.71a1.5 1.5 0 1 0 3.0 0a1.5 1.5 0 1 0 -3.0 0M533.94 300.11a1.5 1.5 0 1 0 3.0 0a1.5 1.5 0 1 0 -3.0 0M535.08 305.82a1.5 1.5 0 1 0 3.0 0a1.5 1.5 0 1 0 -3.0 0M536.22 313.73a1.5 1.5 0 1 0 3.0 0a1.5 1.5 0 1 0 -3.0 0M537.36 323.71a1.5 1.5 0 1 0 3.0 0a1.5 1.5 0 1 0 -3.0 0M538.50 335.03a1.5 1.5 0 1 0 3.0 0a1.5 1.5 0 1 0 -3.0 0M539.65 341.13a1.5 1.5 0 1 0 3.0 0a1.5 1.5 0 1 0 -3.0 0M540.79 347.53a1.5 1.5 0 1 0 3.0 0a1.5 1.5 0 1 0 -3.0 0M541.93 353.41a1.5 1.5 0 1 0 3.0 0a1.5 1.5 0 1 0 -3.0 0M543.07 362.84a1.5 1.5 0 1 0 3.0 0a1.5 1.5 0 1 0 -3.0 0M544.21 372.03a1.5 1.5 0 1 0 3.0 0a1.5 1.5 0 1 0 -3.0 0M545.35 378.43a1.5 1.5 0 1 0 3.0 0a1.5 1.5 0 1 0 -3.0 0M546.49 384.84a1.5 1.5 0 1 0 3.0 0a1.5 1.5 0 1 0 -3.0 0M547.63 391.16a1.5 1.5 0 1 0 3.0 0a1.5 1.5 0 1 0 -3.0 0M548.77 397.09a1.5 1.5 0 1 0 3.0 0a1.5 1.5 0 1 0 -3.0 0M549.91 403.17a1.5 1.5 0 1 0 3.0 0a1.5 1.5 0 1 0 -3.0 0M551.05 409.05a1.5 1.5 0 1 0 3.0 0a1.5 1.5 0 1 0 -3.0 0M552.19 411.82a1.5 1.5 0 1 0 3.0 0a1.5 1.5 0 1 0 -3.0 0M553.33 416.43a1.5 1.5 0 1 0 3.0 0a1.5 1.5 0 1 0 -3.0 0M554.48 423.66a1.5 1.5 0 1 0 3.0 0a1.5 1.5 0 1 0 -3.0 0M555.62 426.43a1.5 1.5 0 1 0 3.0 0a1.5 1.5 0 1 0 -3.0 0M556.76 428.84a1.5 1.5 0 1 0 3.0 0a1.5 1.5 0 1 0 -3.0 0M557.90 429.45a1.5 1.5 0 1 0 3.0 0a1.5 1.5 0 1 0 -3.0 0M559.04 433.68a1.5 1.5 0 1 0 3.0 0a1.5 1.5 0 1 0 -3.0 0M560.18 436.71a1.5 1.5 0 1 0 3.0 0a1.5 1.5 0 1 0 -3.0 0M561.32 439.66a1.5 1.5 0 1 0 3.0 0a1.5 1.5 0 1 0 -3.0 0M562.46 442.44a1.5 1.5 0 1 0 3.0 0a1.5 1.5 0 1 0 -3.0 0M563.60 445.10a1.5 1.5 0 1 0 3.0 0a1.5 1.5 0 1 0 -3.0 0M564.74 445.49a1.5 1.5 0 1 0 3.0 0a1.5 1.5 0 1 0 -3.0 0M565.88 448.64a1.5 1.5 0 1 0 3.0 0a1.5 1.5 0 1 0 -3.0 0M567.02 453.54a1.5 1.5 0 1 0 3.0 0a1.5 1.5 0 1 0 -3.0 0M568.16 454.91a1.5 1.5 0 1 0 3.0 0a1.5 1.5 0 1 0 -3.0 0M569.31 457.14a1.5 1.5 0 1 0 3.0 0a1.5 1.5 0 1 0 -3.0 0M570.45 456.90a1.5 1.5 0 1 0 3.0 0a1.5 1.5 0 1 0 -3.0 0M571.59 456.31a1.5 1.5 0 1 0 3.0 0a1.5 1.5 0 1 0 -3.0 0M572.73 458.59a1.5 1.5 0 1 0 3.0 0a1.5 1.5 0 1 0 -3.0 0M573.87 460.83a1.5 1.5 0 1 0 3.0 0a1.5 1.5 0 1 0 -3.0 0M575.01 461.90a1.5 1.5 0 1 0 3.0 0a1.5 1.5 0 1 0 -3.0 0M576.15 464.75a1.5 1.5 0 1 0 3.0 0a1.5 1.5 0 1 0 -3.0 0M577.29 467.03a1.5 1.5 0 1 0 3.0 0a1.5 1.5 0 1 0 -3.0 0M578.43 468.15a1.5 1.5 0 1 0 3.0 0a1.5 1.5 0 1 0 -3.0 0M579.57 470.91a1.5 1.5 0 1 0 3.0 0a1.5 1.5 0 1 0 -3.0 0M580.71 471.74a1.5 1.5 0 1 0 3.0 0a1.5 1.5 0 1 0 -3.0 0M581.85 473.23a1.5 1.5 0 1 0 3.0 0a1.5 1.5 0 1 0 -3.0 0M582.99 474.48a1.5 1.5 0 1 0 3.0 0a1.5 1.5 0 1 0 -3.0 0M584.14 476.04a1.5 1.5 0 1 0 3.0 0a1.5 1.5 0 1 0 -3.0 0M585.28 477.22a1.5 1.5 0 1 0 3.0 0a1.5 1.5 0 1 0 -3.0 0M586.42 475.93a1.5 1.5 0 1 0 3.0 0a1.5 1.5 0 1 0 -3.0 0M587.56 476.47a1.5 1.5 0 1 0 3.0 0a1.5 1.5 0 1 0 -3.0 0M588.70 476.60a1.5 1.5 0 1 0 3.0 0a1.5 1.5 0 1 0 -3.0 0M589.84 477.92a1.5 1.5 0 1 0 3.0 0a1.5 1.5 0 1 0 -3.0 0M590.98 479.85a1.5 1.5 0 1 0 3.0 0a1.5 1.5 0 1 0 -3.0 0M592.12 480.91a1.5 1.5 0 1 0 3.0 0a1.5 1.5 0 1 0 -3.0 0M593.26 480.52a1.5 1.5 0 1 0 3.0 0a1.5 1.5 0 1 0 -3.0 0M594.40 481.82a1.5 1.5 0 1 0 3.0 0a1.5 1.5 0 1 0 -3.0 0M595.54 483.17a1.5 1.5 0 1 0 3.0 0a1.5 1.5 0 1 0 -3.0 0M596.68 483.16a1.5 1.5 0 1 0 3.0 0a1.5 1.5 0 1 0 -3.0 0M597.82 481.18a1.5 1.5 0 1 0 3.0 0a1.5 1.5 0 1 0 -3.0 0M598.97 481.70a1.5 1.5 0 1 0 3.0 0a1.5 1.5 0 1 0 -3.0 0M600.11 485.30a1.5 1.5 0 1 0 3.0 0a1.5 1.5 0 1 0 -3.0 0M601.25 484.96a1.5 1.5 0 1 0 3.0 0a1.5 1.5 0 1 0 -3.0 0M602.39 483.67a1.5 1.5 0 1 0 3.0 0a1.5 1.5 0 1 0 -3.0 0M603.53 485.41a1.5 1.5 0 1 0 3.0 0a1.5 1.5 0 1 0 -3.0 0M604.67 487.10a1.5 1.5 0 1 0 3.0 0a1.5 1.5 0 1 0 -3.0 0M605.81 486.09a1.5 1.5 0 1 0 3.0 0a1.5 1.5 0 1 0 -3.0 0M606.95 486.82a1.5 1.5 0 1 0 3.0 0a1.5 1.5 0 1 0 -3.0 0M608.09 489.34a1.5 1.5 0 1 0 3.0 0a1.5 1.5 0 1 0 -3.0 0M609.23 490.42a1.5 1.5 0 1 0 3.0 0a1.5 1.5 0 1 0 -3.0 0M610.37 489.48a1.5 1.5 0 1 0 3.0 0a1.5 1.5 0 1 0 -3.0 0M611.51 490.87a1.5 1.5 0 1 0 3.0 0a1.5 1.5 0 1 0 -3.0 0M612.65 490.43a1.5 1.5 0 1 0 3.0 0a1.5 1.5 0 1 0 -3.0 0M613.80 489.37a1.5 1.5 0 1 0 3.0 0a1.5 1.5 0 1 0 -3.0 0M614.94 489.99a1.5 1.5 0 1 0 3.0 0a1.5 1.5 0 1 0 -3.0 0M616.08 491.10a1.5 1.5 0 1 0 3.0 0a1.5 1.5 0 1 0 -3.0 0M617.22 491.12a1.5 1.5 0 1 0 3.0 0a1.5 1.5 0 1 0 -3.0 0M618.36 491.60a1.5 1.5 0 1 0 3.0 0a1.5 1.5 0 1 0 -3.0 0M619.50 491.83a1.5 1.5 0 1 0 3.0 0a1.5 1.5 0 1 0 -3.0 0M620.64 493.64a1.5 1.5 0 1 0 3.0 0a1.5 1.5 0 1 0 -3.0 0M621.78 494.23a1.5 1.5 0 1 0 3.0 0a1.5 1.5 0 1 0 -3.0 0M622.92 493.53a1.5 1.5 0 1 0 3.0 0a1.5 1.5 0 1 0 -3.0 0M624.06 494.05a1.5 1.5 0 1 0 3.0 0a1.5 1.5 0 1 0 -3.0 0M625.20 494.71a1.5 1.5 0 1 0 3.0 0a1.5 1.5 0 1 0 -3.0 0M626.34 494.48a1.5 1.5 0 1 0 3.0 0a1.5 1.5 0 1 0 -3.0 0M627.48 493.77a1.5 1.5 0 1 0 3.0 0a1.5 1.5 0 1 0 -3.0 0M628.63 493.19a1.5 1.5 0 1 0 3.0 0a1.5 1.5 0 1 0 -3.0 0M629.77 493.45a1.5 1.5 0 1 0 3.0 0a1.5 1.5 0 1 0 -3.0 0M630.91 493.85a1.5 1.5 0 1 0 3.0 0a1.5 1.5 0 1 0 -3.0 0M632.05 494.52a1.5 1.5 0 1 0 3.0 0a1.5 1.5 0 1 0 -3.0 0M633.19 495.18a1.5 1.5 0 1 0 3.0 0a1.5 1.5 0 1 0 -3.0 0M634.33 495.68a1.5 1.5 0 1 0 3.0 0a1.5 1.5 0 1 0 -3.0 0M635.47 495.14a1.5 1.5 0 1 0 3.0 0a1.5 1.5 0 1 0 -3.0 0M636.61 494.68a1.5 1.5 0 1 0 3.0 0a1.5 1.5 0 1 0 -3.0 0M637.75 494.87a1.5 1.5 0 1 0 3.0 0a1.5 1.5 0 1 0 -3.0 0M638.89 495.76a1.5 1.5 0 1 0 3.0 0a1.5 1.5 0 1 0 -3.0 0M640.03 497.79a1.5 1.5 0 1 0 3.0 0a1.5 1.5 0 1 0 -3.0 0M641.17 497.80a1.5 1.5 0 1 0 3.0 0a1.5 1.5 0 1 0 -3.0 0M642.31 497.87a1.5 1.5 0 1 0 3.0 0a1.5 1.5 0 1 0 -3.0 0M643.46 497.35a1.5 1.5 0 1 0 3.0 0a1.5 1.5 0 1 0 -3.0 0M644.60 496.83a1.5 1.5 0 1 0 3.0 0a1.5 1.5 0 1 0 -3.0 0M645.74 496.86a1.5 1.5 0 1 0 3.0 0a1.5 1.5 0 1 0 -3.0 0M646.88 497.64a1.5 1.5 0 1 0 3.0 0a1.5 1.5 0 1 0 -3.0 0M648.02 498.67a1.5 1.5 0 1 0 3.0 0a1.5 1.5 0 1 0 -3.0 0M649.16 498.40a1.5 1.5 0 1 0 3.0 0a1.5 1.5 0 1 0 -3.0 0M650.30 498.86a1.5 1.5 0 1 0 3.0 0a1.5 1.5 0 1 0 -3.0 0" fill="#000"/>
<path d="M355.20 498.42L355.70 498.39L356.20 498.36L356.70 498.33L357.20 498.30L357.70 498.26L358.20 498.23L358.70 498.20L359.20 498.16L359.70 498.13L360.20 498.10L360.70 498.06L361.20 498.03L361.70 497.99L362.20 497.95L362.70 497.92L363.20 497.88L363.70 497.84L364.20 497.81L364.70 497.77L365.20 497.73L365.70 497.69L366.20 497.65L366.70 497.61L367.20 497.57L367.70 497.53L368.20 497.49L368.70 497.45L369.20 497.41L369.70 497.37L370.21 497.33L370.71 497.28L371.21 497.24L371.71 497.19L372.21 497.15L372.71 497.11L373.21 497.06L373.71 497.01L374.21 496.97L374.71 496.92L375.21 496.87L375.71 496.82L376.21 496.78L376.71 496.73L377.21 496.68L377.71 496.63L378.21 496.58L378.71 496.53L379.21 496.47L379.71 496.42L380.21 496.37L380.71 496.31L381.21 496.26L381.71 496.20L382.21 496.15L382.71 496.09L383.21 496.04L383.71 495.98L384.21 495.92L384.71 495.86L385.21 495.80L385.71 495.74L386.21 495.68L386.71 495.62L387.21 495.56L387.71 495.49L388.21 495.43L388.71 495.36L389.21 495.30L389.71 495.23L390.21 495.16L390.71 495.10L391.21 495.03L391.71 494.96L392.21 494.89L392.71 494.82L393.21 494.74L393.71 494.67L394.21 494.60L394.71 494.52L395.21 494.45L395.71 494.37L396.21 494.29L396.71 494.21L397.21 494.13L397.71 494.05L398.21 493.97L398.71 493.89L399.21 493.80L399.72 493.72L400.22 493.63L400.72 493.55L401.22 493.46L401.72 493.37L402.22 493.28L402.72 493.19L403.22 493.09L403.72 493.00L404.22 492.90L404.72 492.81L405.22 492.71L405.72 492.61L406.22 492.51L406.72 492.41L407.22 492.30L407.72 492.20L408.22 492.09L408.72 491.98L409.22 491.88L409.72 491.76L410.22 491.65L410.72 491.54L411.22 491.42L411.72 491.31L412.22 491.19L412.72 491.07L413.22 490.95L413.72 490.82L414.22 490.70L414.72 490.57L415.22 490.44L415.72 490.31L416.22 490.18L416.72 490.05L417.22 489.91L417.72 489.77L418.22 489.63L418.72 489.49L419.22 489.34L419.72 489.20L420.22 489.05L420.72 488.90L421.22 488.75L421.72 488.59L422.22 488.43L422.72 488.27L423.22 488.11L423.72 487.95L424.22 487.78L424.72 487.61L425.22 487.44L425.72 487.26L426.22 487.08L426.72 486.90L427.22 486.72L427.72 486.54L428.22 486.35L428.72 486.16L429.22 485.96L429.73 485.76L430.23 485.56L430.73 485.36L431.23 485.15L431.73 484.94L432.23 484.73L432.73 484.51L433.23 484.29L433.73 484.07L434.23 483.84L434.73 483.61L435.23 483.37L435.73 483.13L436.23 482.89L436.73 482.64L437.23 482.39L437.73 482.14L438.23 481.88L438.73 481.62L439.23 481.35L439.73 481.08L440.23 480.80L440.73 480.52L441.23 480.24L441.73 479.95L442.23 479.65L442.73 479.35L443.23 479.04L443.73 478.73L444.23 478.42L444.73 478.10L445.23 477.77L445.73 477.44L446.23 477.10L446.73 476.76L447.23 476.41L447.73 476.06L448.23 475.70L448.73 475.33L449.23 474.96L449.73 474.58L450.23 474.19L450.73 473.80L451.23 473.40L451.73 472.99L452.23 472.58L452.73 472.16L453.23 471.73L453.73 471.30L454.23 470.86L454.73 470.41L455.23 469.95L455.73 469.48L456.23 469.01L456.73 468.53L457.23 468.04L457.73 467.55L458.23 467.04L458.73 466.53L459.24 466.01L459.74 465.47L460.24 464.93L460.74 464.39L461.24 463.83L461.74 463.26L462.24 462.69L462.74 462.10L463.24 461.51L463.74 460.90L464.24 460.29L464.74 459.67L465.24 459.04L465.74 458.39L466.24 457.74L466.74 457.08L467.24 456.41L467.74 455.73L468.24 455.04L468.74 454.33L469.24 453.62L469.74 452.90L470.24 452.17L470.74 451.43L471.24 450.68L471.74 449.92L472.24 449.15L472.74 448.37L473.24 447.59L473.74 446.79L474.24 445.98L474.74 445.17L475.24 444.34L475.74 443.51L476.24 442.67L476.74 441.82L477.24 440.96L477.74 440.10L478.24 439.23L478.74 438.35L479.24 437.46L479.74 436.57L480.24 435.67L480.74 434.77L481.24 433.86L481.74 432.94L482.24 432.02L482.74 431.10L483.24 430.17L483.74 429.24L484.24 428.31L484.74 427.37L485.24 426.43L485.74 425.49L486.24 424.55L486.74 423.61L487.24 422.67L487.74 421.72L488.24 420.78L488.75 419.84L489.25 418.90L489.75 417.96L490.25 417.02L490.75 416.08L491.25 415.14L491.75 414.20L492.25 413.27L492.75 412.34L493.25 411.40L493.75 410.47L494.25 409.54L494.75 408.62L495.25 407.69L495.75 406.76L496.25 405.83L496.75 404.90L497.25 403.97L497.75 403.03L498.25 402.10L498.75 401.16L499.25 400.22L499.75 399.27L500.25 398.31L500.75 397.35L501.25 396.37L501.75 395.39L502.25 394.39L502.75 393.38L503.25 392.36L503.75 391.32L504.25 390.26L504.75 389.18L505.25 388.08L505.75 386.96L506.25 385.81L506.75 384.63L507.25 383.42L507.75 382.18L508.25 380.91L508.75 379.60L509.25 378.26L509.75 376.88L510.25 375.45L510.75 373.98L511.25 372.47L511.75 370.91L512.25 369.30L512.75 367.65L513.25 365.94L513.75 364.18L514.25 362.36L514.75 360.49L515.25 358.57L515.75 356.59L516.25 354.56L516.75 352.47L517.25 350.33L517.75 348.14L518.25 345.89L518.76 343.60L519.26 341.27L519.76 338.89L520.26 336.48L520.76 334.05L521.26 331.58L521.76 329.11L522.26 326.63L522.76 324.15L523.26 321.69L523.76 319.25L524.26 316.85L524.76 314.51L525.26 312.23L525.76 310.04L526.26 307.95L526.76 305.98L527.26 304.14L527.76 302.45L528.26 300.94L528.76 299.61L529.26 298.48L529.76 297.57L530.26 296.88L530.76 296.44L531.26 296.24L531.76 296.30L532.26 296.62L532.76 297.20L533.26 298.06L533.76 299.19L534.26 300.58L534.76 302.23L535.26 304.12L535.76 306.25L536.26 308.59L536.76 311.13L537.26 313.85L537.76 316.73L538.26 319.75L538.76 322.89L539.26 326.14L539.76 329.46L540.26 332.86L540.76 336.30L541.26 339.77L541.76 343.26L542.26 346.75L542.76 350.23L543.26 353.70L543.76 357.13L544.26 360.53L544.76 363.88L545.26 367.17L545.76 370.41L546.26 373.59L546.76 376.70L547.26 379.75L547.76 382.72L548.27 385.63L548.77 388.46L549.27 391.21L549.77 393.90L550.27 396.51L550.77 399.05L551.27 401.52L551.77 403.91L552.27 406.24L552.77 408.50L553.27 410.70L553.77 412.83L554.27 414.89L554.77 416.90L555.27 418.84L555.77 420.73L556.27 422.56L556.77 424.34L557.27 426.06L557.77 427.74L558.27 429.36L558.77 430.93L559.27 432.46L559.77 433.95L560.27 435.39L560.77 436.79L561.27 438.15L561.77 439.47L562.27 440.75L562.77 442.00L563.27 443.21L563.77 444.39L564.27 445.53L564.77 446.65L565.27 447.73L565.77 448.78L566.27 449.81L566.77 450.80L567.27 451.78L567.77 452.72L568.27 453.64L568.77 454.54L569.27 455.41L569.77 456.26L570.27 457.09L570.77 457.90L571.27 458.69L571.77 459.46L572.27 460.21L572.77 460.94L573.27 461.66L573.77 462.35L574.27 463.03L574.77 463.70L575.27 464.34L575.77 464.98L576.27 465.60L576.77 466.20L577.27 466.79L577.78 467.37L578.28 467.93L578.78 468.49L579.28 469.02L579.78 469.55L580.28 470.07L580.78 470.57L581.28 471.07L581.78 471.55L582.28 472.02L582.78 472.49L583.28 472.94L583.78 473.39L584.28 473.82L584.78 474.25L585.28 474.66L585.78 475.07L586.28 475.48L586.78 475.87L587.28 476.25L587.78 476.63L588.28 477.00L588.78 477.37L589.28 477.72L589.78 478.07L590.28 478.41L590.78 478.75L591.28 479.08L591.78 479.40L592.28 479.72L592.78 480.03L593.28 480.34L593.78 480.64L594.28 480.94L594.78 481.23L595.28 481.51L595.78 481.79L596.28 482.07L596.78 482.34L597.28 482.61L597.78 482.87L598.28 483.12L598.78 483.38L599.28 483.62L599.78 483.87L600.28 484.11L600.78 484.34L601.28 484.58L601.78 484.80L602.28 485.03L602.78 485.25L603.28 485.47L603.78 485.68L604.28 485.89L604.78 486.10L605.28 486.30L605.78 486.50L606.28 486.70L606.78 486.90L607.28 487.09L607.79 487.28L608.29 487.46L608.79 487.65L609.29 487.83L609.79 488.00L610.29 488.18L610.79 488.35L611.29 488.52L611.79 488.69L612.29 488.85L612.79 489.02L613.29 489.18L613.79 489.33L614.29 489.49L614.79 489.64L615.29 489.79L615.79 489.94L616.29 490.09L616.79 490.24L617.29 490.38L617.79 490.52L618.29 490.66L618.79 490.80L619.29 490.93L619.79 491.07L620.29 491.20L620.79 491.33L621.29 491.46L621.79 491.58L622.29 491.71L622.79 491.83L623.29 491.95L623.79 492.08L624.29 492.19L624.79 492.31L625.29 492.43L625.79 492.54L626.29 492.65L626.79 492.77L627.29 492.88L627.79 492.98L628.29 493.09L628.79 493.20L629.29 493.30L629.79 493.41L630.29 493.51L630.79 493.61L631.29 493.71L631.79 493.81L632.29 493.91L632.79 494.00L633.29 494.10L633.79 494.19L634.29 494.28L634.79 494.38L635.29 494.47L635.79 494.56L636.29 494.65L636.79 494.73L637.30 494.82L637.80 494.91L638.30 494.99L638.80 495.08L639.30 495.16L639.80 495.24L640.30 495.32L640.80 495.40L641.30 495.48L641.80 495.56L642.30 495.64L642.80 495.71L643.30 495.79L643.80 495.87L644.30 495.94L644.80 496.01L645.30 496.09L645.80 496.16L646.30 496.23L646.80 496.30L647.30 496.37L647.80 496.44L648.30 496.51L648.80 496.57L649.30 496.64L649.80 496.71L650.30 496.77L650.80 496.84L651.30 496.90L651.80 496.97" stroke="#ff0000" stroke-width="1.35" fill="none" stroke-linejoin="round"/>
<path d="M355.20 501.03L356.71 500.98M357.48 500.96L358.99 500.90M359.76 500.88L361.27 500.82M362.04 500.79L363.55 500.73M364.33 500.70L365.83 500.64M366.61 500.60L368.11 500.54M368.89 500.50L370.40 500.43M371.17 500.40L372.68 500.32M373.45 500.28L374.96 500.21M375.73 500.17L377.24 500.08M378.02 500.04L379.52 499.95M380.30 499.91L381.80 499.81M382.58 499.77L384.08 499.67M384.86 499.62L386.37 499.51M387.14 499.46L388.65 499.35M389.42 499.29L390.93 499.17M391.70 499.11L393.21 498.98M393.99 498.92L395.49 498.78M396.27 498.72L397.77 498.57M398.55 498.50L400.06 498.35M400.83 498.27L402.34 498.11M403.11 498.02L404.62 497.85M405.39 497.76L406.90 497.58M407.68 497.48L409.18 497.29M409.96 497.19L411.46 496.98M412.24 496.87L413.74 496.64M414.52 496.53L416.03 496.28M416.80 496.16L418.31 495.90M419.08 495.77L420.59 495.49M421.36 495.34L422.87 495.05M423.65 494.89L425.15 494.57M425.93 494.40L427.43 494.06M428.21 493.88L429.72 493.51M430.49 493.31L432.00 492.91M432.77 492.70L434.28 492.27M435.05 492.05L436.56 491.58M437.34 491.34L438.84 490.83M439.62 490.57L441.12 490.02M441.90 489.74L443.40 489.14M444.18 488.84L445.69 488.20M446.46 487.86L447.97 487.17M448.74 486.81L450.25 486.06M451.02 485.67L452.53 484.86M453.31 484.44L454.81 483.56M455.59 483.11L457.09 482.17M457.87 481.68L459.38 480.66M460.15 480.14L461.66 479.05M462.43 478.48L463.94 477.32M464.71 476.72L466.22 475.48M467.00 474.84L468.50 473.53M469.28 472.86L470.78 471.49M471.56 470.78L473.06 469.36M473.84 468.63L475.35 467.17M476.12 466.43L477.63 464.96M478.40 464.21L479.91 462.77M480.68 462.03L482.19 460.64M482.97 459.93L484.47 458.64M485.25 457.98L486.75 456.84M487.53 456.25L489.04 455.29M489.81 454.80L491.32 454.07M492.09 453.70L493.60 453.24M494.37 453.00L495.88 452.83M496.66 452.74L498.16 452.87M498.94 452.93L500.44 453.36M501.22 453.58L502.72 454.28M503.50 454.65L505.01 455.59M505.78 456.08L507.29 457.23M508.06 457.82L509.57 459.12M510.34 459.79L511.85 461.20M512.63 461.92L514.13 463.39M514.91 464.14L516.41 465.63M517.19 466.40L518.70 467.89M519.47 468.65L520.98 470.10M521.75 470.85L523.26 472.25M524.03 472.97L525.54 474.31M526.32 475.00L527.82 476.27M528.60 476.92L530.10 478.12M530.88 478.73L532.38 479.85M533.16 480.43L534.67 481.47M535.44 482.01L536.95 482.98M537.72 483.48L539.23 484.38M540.00 484.84L541.51 485.67M542.29 486.10L543.79 486.88M544.57 487.27L546.07 487.99M546.85 488.36L548.36 489.02M549.13 489.36L550.64 489.97M551.41 490.29L552.92 490.86M553.69 491.15L555.20 491.68M555.98 491.95L557.48 492.44M558.26 492.69L559.76 493.14M560.54 493.38L562.04 493.80M562.82 494.02L564.33 494.41M565.10 494.61L566.61 494.98M567.38 495.16L568.89 495.50M569.66 495.68L571.17 496.00M571.95 496.16L573.45 496.46M574.23 496.61L575.73 496.89M576.51 497.04L578.02 497.30M578.79 497.43L580.30 497.68M581.07 497.80L582.58 498.03M583.35 498.15L584.86 498.37M585.64 498.48L587.14 498.68M587.92 498.79L589.42 498.98M590.20 499.08L591.70 499.26M592.48 499.35L593.99 499.52M594.76 499.61L596.27 499.77M597.04 499.86L598.55 500.01M599.32 500.09L600.83 500.23M601.61 500.31L603.11 500.45M603.89 500.52L605.39 500.65M606.17 500.72L607.68 500.84M608.45 500.91L609.96 501.02M610.73 501.09L612.24 501.20M613.01 501.26L614.52 501.36M615.30 501.42L616.80 501.52M617.58 501.58L619.08 501.67M619.86 501.72L621.36 501.82M622.14 501.87L623.65 501.96M624.42 502.00L625.93 502.09M626.70 502.13L628.21 502.22M628.98 502.26L630.49 502.34M631.27 502.38L632.77 502.45M633.55 502.49L635.05 502.57M635.83 502.60L637.34 502.68M638.11 502.71L639.62 502.78M640.39 502.81L641.90 502.88M642.67 502.91L644.18 502.98M644.96 503.01L646.46 503.07M647.24 503.10L648.74 503.16M649.52 503.19L651.02 503.25" stroke="#ff8000" stroke-width="1.2" fill="none"/>
<path d="M355.20 502.03L356.71 502.00M357.48 501.99L358.99 501.97M359.76 501.95L361.27 501.93M362.04 501.92L363.55 501.89M364.33 501.88L365.83 501.85M366.61 501.83L368.11 501.80M368.89 501.79L370.40 501.76M371.17 501.74L372.68 501.71M373.45 501.69L374.96 501.66M375.73 501.64L377.24 501.60M378.02 501.58L379.52 501.55M380.30 501.53L381.80 501.48M382.58 501.46L384.08 501.42M384.86 501.40L386.37 501.35M387.14 501.33L388.65 501.28M389.42 501.26L390.93 501.21M391.70 501.18L393.21 501.13M393.99 501.10L395.49 501.05M396.27 501.02L397.77 500.96M398.55 500.93L400.06 500.87M400.83 500.83L402.34 500.77M403.11 500.73L404.62 500.66M405.39 500.63L406.90 500.55M407.68 500.52L409.18 500.44M409.96 500.40L411.46 500.32M412.24 500.27L413.74 500.19M414.52 500.14L416.03 500.05M416.80 500.00L418.31 499.90M419.08 499.85L420.59 499.75M421.36 499.69L422.87 499.58M423.65 499.52L425.15 499.41M425.93 499.34L427.43 499.22M428.21 499.15L429.72 499.02M430.49 498.95L432.00 498.81M432.77 498.74L434.28 498.58M435.05 498.51L436.56 498.34M437.34 498.26L438.84 498.09M439.62 498.00L441.12 497.81M441.90 497.72L443.40 497.52M444.18 497.42L445.69 497.21M446.46 497.10L447.97 496.87M448.74 496.75L450.25 496.51M451.02 496.39L452.53 496.12M453.31 495.99L454.81 495.71M455.59 495.56L457.09 495.26M457.87 495.11L459.38 494.78M460.15 494.62L461.66 494.27M462.43 494.09L463.94 493.71M464.71 493.52L466.22 493.11M467.00 492.90L468.50 492.46M469.28 492.23L470.78 491.76M471.56 491.52L473.06 491.00M473.84 490.74L475.35 490.19M476.12 489.90L477.63 489.30M478.40 489.00L479.91 488.35M480.68 488.02L482.19 487.32M482.97 486.96L484.47 486.21M485.25 485.82L486.75 485.01M487.53 484.59L489.04 483.72M489.81 483.28L491.32 482.34M492.09 481.86L493.60 480.87M494.37 480.36L495.88 479.30M496.66 478.76L498.16 477.65M498.94 477.08L500.44 475.91M501.22 475.32L502.72 474.11M503.50 473.49L505.01 472.27M505.78 471.63L507.29 470.40M508.06 469.76L509.57 468.55M510.34 467.92L511.85 466.76M512.63 466.16L514.13 465.08M514.91 464.53L516.41 463.57M517.19 463.08L518.70 462.29M519.47 461.88L520.98 461.28M521.75 460.97L523.26 460.60M524.03 460.41L525.54 460.28M526.32 460.21L527.82 460.35M528.60 460.42L530.10 460.83M530.88 461.04L532.38 461.70M533.16 462.04L534.67 462.91M535.44 463.36L536.95 464.40M537.72 464.93L539.23 466.10M540.00 466.70L541.51 467.94M542.29 468.58L543.79 469.86M544.57 470.52L546.07 471.80M546.85 472.46L548.36 473.73M549.13 474.38L550.64 475.60M551.41 476.23L552.92 477.40M553.69 478.00L555.20 479.11M555.98 479.69L557.48 480.73M558.26 481.27L559.76 482.25M560.54 482.75L562.04 483.66M562.82 484.13L564.33 484.98M565.10 485.42L566.61 486.20M567.38 486.61L568.89 487.34M569.66 487.71L571.17 488.39M571.95 488.74L573.45 489.36M574.23 489.68L575.73 490.26M576.51 490.56L578.02 491.10M578.79 491.37L580.30 491.87M581.07 492.13L582.58 492.59M583.35 492.83L584.86 493.26M585.64 493.48L587.14 493.88M587.92 494.09L589.42 494.46M590.20 494.65L591.70 495.00M592.48 495.18L593.99 495.50M594.76 495.67L596.27 495.97M597.04 496.13L598.55 496.41M599.32 496.56L600.83 496.82M601.61 496.96L603.11 497.21M603.89 497.34L605.39 497.57M606.17 497.69L607.68 497.91M608.45 498.03L609.96 498.23M610.73 498.34L612.24 498.54M613.01 498.64L614.52 498.82M615.30 498.92L616.80 499.09M617.58 499.19L619.08 499.35M619.86 499.44L621.36 499.59M622.14 499.67L623.65 499.82M624.42 499.90L625.93 500.04M626.70 500.11L628.21 500.25M628.98 500.32L630.49 500.45M631.27 500.51L632.77 500.64M633.55 500.70L635.05 500.81M635.83 500.87L637.34 500.99M638.11 501.04L639.62 501.15M640.39 501.20L641.90 501.31M642.67 501.36L644.18 501.46M644.96 501.51L646.46 501.60M647.24 501.65L648.74 501.74M649.52 501.78L651.02 501.87" stroke="#0a800a" stroke-width="1.4" fill="none"/>
<path d="M355.20 503.29L356.71 503.28M357.48 503.28L358.99 503.28M359.76 503.27L361.27 503.27M362.04 503.26L363.55 503.26M364.33 503.26L365.83 503.25M366.61 503.25L368.11 503.24M368.89 503.23L370.40 503.23M371.17 503.22L372.68 503.21M373.45 503.21L374.96 503.20M375.73 503.19L377.24 503.18M378.02 503.18L379.52 503.17M380.30 503.16L381.80 503.15M382.58 503.14L384.08 503.13M384.86 503.12L386.37 503.10M387.14 503.10L388.65 503.08M389.42 503.07L390.93 503.05M391.70 503.05L393.21 503.03M393.99 503.02L395.49 503.00M396.27 502.98L397.77 502.96M398.55 502.95L400.06 502.93M400.83 502.91L402.34 502.89M403.11 502.87L404.62 502.85M405.39 502.83L406.90 502.80M407.68 502.78L409.18 502.75M409.96 502.73L411.46 502.70M412.24 502.68L413.74 502.64M414.52 502.62L416.03 502.58M416.80 502.56L418.31 502.51M419.08 502.49L420.59 502.44M421.36 502.42L422.87 502.36M423.65 502.34L425.15 502.28M425.93 502.25L427.43 502.19M428.21 502.16L429.72 502.09M430.49 502.05L432.00 501.98M432.77 501.94L434.28 501.87M435.05 501.82L436.56 501.74M437.34 501.70L438.84 501.60M439.62 501.55L441.12 501.45M441.90 501.40L443.40 501.29M444.18 501.23L445.69 501.11M446.46 501.05L447.97 500.92M448.74 500.85L450.25 500.70M451.02 500.63L452.53 500.47M453.31 500.39L454.81 500.21M455.59 500.12L457.09 499.93M457.87 499.83L459.38 499.62M460.15 499.51L461.66 499.28M462.43 499.15L463.94 498.89M464.71 498.76L466.22 498.47M467.00 498.32L468.50 498.00M469.28 497.83L470.78 497.47M471.56 497.28L473.06 496.88M473.84 496.67L475.35 496.22M476.12 495.98L477.63 495.47M478.40 495.20L479.91 494.62M480.68 494.32L482.19 493.66M482.97 493.32L484.47 492.57M485.25 492.18L486.75 491.32M487.53 490.87L489.04 489.88M489.81 489.37L491.32 488.22M492.09 487.63L493.60 486.30M494.37 485.62L495.88 484.07M496.66 483.27L498.16 481.45M498.94 480.52L500.44 478.39M501.22 477.29L502.72 474.78M503.50 473.48L505.01 470.51M505.78 468.98L507.29 465.46M508.06 463.65L509.57 459.48M510.34 457.34L511.85 452.42M512.63 449.89L514.13 444.13M514.91 441.16L516.41 434.51M517.19 431.08L518.70 423.57M519.47 419.70L520.98 411.53M521.75 407.31L523.26 398.90M524.03 394.57L525.54 386.65M526.32 382.57L527.82 376.10M528.60 372.77L530.10 368.78M530.88 366.72L532.38 365.95M533.16 365.56L534.67 368.28M535.44 369.69L536.95 375.38M537.72 378.31L539.23 385.90M540.00 389.81L541.51 398.19M542.29 402.50L543.79 410.80M544.57 415.08L546.07 422.77M546.85 426.73L548.36 433.57M549.13 437.10L550.64 443.03M551.41 446.09L552.92 451.16M553.69 453.78L555.20 458.09M555.98 460.31L557.48 463.96M558.26 465.84L559.76 468.93M560.54 470.52L562.04 473.15M562.82 474.50L564.33 476.74M565.10 477.90L566.61 479.81M567.38 480.80L568.89 482.45M569.66 483.30L571.17 484.73M571.95 485.47L573.45 486.71M574.23 487.35L575.73 488.43M576.51 488.99L578.02 489.94M578.79 490.43L580.30 491.26M581.07 491.69L582.58 492.44M583.35 492.82L584.86 493.48M585.64 493.81L587.14 494.40M587.92 494.71L589.42 495.23M590.20 495.50L591.70 495.98M592.48 496.22L593.99 496.65M594.76 496.87L596.27 497.25M597.04 497.45L598.55 497.81M599.32 497.99L600.83 498.31M601.61 498.47L603.11 498.76M603.89 498.91L605.39 499.18M606.17 499.32L607.68 499.57M608.45 499.69L609.96 499.92M610.73 500.04L612.24 500.24M613.01 500.35L614.52 500.55M615.30 500.65L616.80 500.82M617.58 500.92L619.08 501.08M619.86 501.17L621.36 501.32M622.14 501.40L623.65 501.55M624.42 501.62L625.93 501.76M626.70 501.83L628.21 501.96M628.98 502.02L630.49 502.14M631.27 502.20L632.77 502.31M633.55 502.37L635.05 502.48M635.83 502.53L637.34 502.63M638.11 502.68L639.62 502.77M640.39 502.82L641.90 502.91M642.67 502.96L644.18 503.04M644.96 503.08L646.46 503.16M647.24 503.20L648.74 503.28M649.52 503.32L651.02 503.39" stroke="#a020d0" stroke-width="1.4" fill="none"/>
<path d="M355.20 518.40L356.34 518.36L357.48 518.35L358.62 518.62L359.76 518.12L360.90 517.42L362.04 518.07L363.19 518.24L364.33 518.20L365.47 517.38L366.61 517.62L367.75 517.62L368.89 517.72L370.03 518.01L371.17 518.28L372.31 518.32L373.45 518.95L374.59 519.13L375.73 518.31L376.87 517.13L378.02 517.79L379.16 518.07L380.30 517.50L381.44 517.78L382.58 517.77L383.72 518.24L384.86 518.64L386.00 518.63L387.14 518.01L388.28 517.47L389.42 516.90L390.56 516.90L391.70 517.43L392.85 517.64L393.99 517.52L395.13 517.87L396.27 518.39L397.41 517.99L398.55 516.93L399.69 516.66L400.83 517.19L401.97 516.87L403.11 516.95L404.25 517.14L405.39 517.19L406.53 517.25L407.68 517.75L408.82 518.71L409.96 518.79L411.10 518.22L412.24 517.00L413.38 517.60L414.52 517.77L415.66 518.06L416.80 517.75L417.94 517.54L419.08 517.13L420.22 517.10L421.36 516.83L422.51 516.69L423.65 517.04L424.79 517.79L425.93 518.70L427.07 519.68L428.21 519.44L429.35 518.99L430.49 518.29L431.63 518.73L432.77 518.66L433.91 518.02L435.05 517.87L436.19 519.05L437.34 518.34L438.48 517.59L439.62 517.30L440.76 517.09L441.90 517.36L443.04 518.28L444.18 519.34L445.32 519.14L446.46 519.15L447.60 517.98L448.74 517.60L449.88 518.30L451.02 519.85L452.17 520.89L453.31 520.17L454.45 519.34L455.59 520.11L456.73 520.53L457.87 520.55L459.01 520.28L460.15 519.43L461.29 519.83L462.43 519.86L463.57 520.42L464.71 521.11L465.85 521.28L467.00 520.97L468.14 519.93L469.28 518.65L470.42 518.74L471.56 518.84L472.70 518.60L473.84 519.67L474.98 520.09L476.12 520.05L477.26 518.45L478.40 516.71L479.54 515.98L480.68 515.50L481.83 515.36L482.97 515.22L484.11 515.27L485.25 515.43L486.39 515.36L487.53 515.15L488.67 515.22L489.81 513.74L490.95 514.77L492.09 517.00L493.23 519.34L494.37 519.46L495.51 519.89L496.66 520.27L497.80 520.50L498.94 520.66L500.08 521.66L501.22 521.43L502.36 519.67L503.50 518.71L504.64 517.31L505.78 516.91L506.92 517.73L508.06 519.03L509.20 519.85L510.34 519.25L511.49 518.15L512.63 517.47L513.77 517.41L514.91 517.28L516.05 517.74L517.19 518.76L518.33 519.96L519.47 520.50L520.61 521.11L521.75 521.97L522.89 522.73L524.03 520.84L525.17 518.76L526.32 517.12L527.46 516.11L528.60 515.41L529.74 515.55L530.88 516.01L532.02 514.61L533.16 513.91L534.30 513.21L535.44 514.43L536.58 516.16L537.72 516.60L538.86 519.76L540.00 523.77L541.15 521.45L542.29 519.93L543.43 518.66L544.57 519.53L545.71 520.40L546.85 520.27L547.99 519.46L549.13 519.26L550.27 519.15L551.41 519.11L552.55 518.97L553.69 518.46L554.83 517.89L555.98 519.55L557.12 518.75L558.26 517.54L559.40 515.82L560.54 515.87L561.68 516.02L562.82 516.89L563.96 516.80L565.10 515.32L566.24 514.55L567.38 516.67L568.52 517.02L569.66 516.59L570.81 516.85L571.95 516.29L573.09 516.15L574.23 515.58L575.37 515.96L576.51 515.75L577.65 516.25L578.79 517.53L579.93 517.64L581.07 518.31L582.21 518.36L583.35 517.57L584.49 517.94L585.64 518.57L586.78 519.01L587.92 517.86L589.06 516.95L590.20 517.09L591.34 517.38L592.48 517.32L593.62 517.70L594.76 517.37L595.90 517.61L597.04 517.94L598.18 517.91L599.32 517.52L600.47 517.85L601.61 518.72L602.75 518.45L603.89 518.93L605.03 520.03L606.17 519.67L607.31 518.67L608.45 519.13L609.59 520.13L610.73 521.09L611.87 520.27L613.01 520.00L614.15 518.94L615.30 518.87L616.44 518.84L617.58 518.68L618.72 518.56L619.86 519.09L621.00 519.44L622.14 519.45L623.28 519.84L624.42 520.23L625.56 519.70L626.70 519.57L627.84 519.54L628.98 518.98L630.13 518.26L631.27 518.23L632.41 519.05L633.55 519.06L634.69 518.42L635.83 518.97L636.97 518.49L638.11 519.20L639.25 519.59L640.39 519.46L641.53 520.15L642.67 519.88L643.81 519.96L644.96 519.19L646.10 519.37L647.24 519.47L648.38 519.48L649.52 519.84L650.66 520.05L651.80 520.64" stroke="#0000ff" stroke-width="1.35" fill="none" stroke-linejoin="round"/>
</g>
<path d="M40.84 268.4v-4M40.84 2.5v4M65.51 268.4v-2M65.51 2.5v2M90.19 268.4v-4M90.19 2.5v4M114.86 268.4v-2M114.86 2.5v2M139.54 268.4v-4M139.54 2.5v4M164.21 268.4v-2M164.21 2.5v2M188.89 268.4v-4M188.89 2.5v4M213.56 268.4v-2M213.56 2.5v2M238.24 268.4v-4M238.24 2.5v4M262.91 268.4v-2M262.91 2.5v2M287.59 268.4v-4M287.59 2.5v4M312.26 268.4v-2M312.26 2.5v2M28.5 29.09h4M324.6 29.09h-4M28.5 55.68h2M324.6 55.68h-2M28.5 82.27h4M324.6 82.27h-4M28.5 108.86h2M324.6 108.86h-2M28.5 135.45h4M324.6 135.45h-4M28.5 162.04h2M324.6 162.04h-2M28.5 188.63h4M324.6 188.63h-4M28.5 215.22h2M324.6 215.22h-2M28.5 241.81h4M324.6 241.81h-4" stroke="#1a1a1a" stroke-width="1.1" fill="none"/>
<rect x="28.5" y="2.5" width="296.10" height="265.90" fill="none" stroke="#1a1a1a" stroke-width="1.1"/>
<path d="M40.84 534.3v-4M40.84 268.4v4M65.51 534.3v-2M65.51 268.4v2M90.19 534.3v-4M90.19 268.4v4M114.86 534.3v-2M114.86 268.4v2M139.54 534.3v-4M139.54 268.4v4M164.21 534.3v-2M164.21 268.4v2M188.89 534.3v-4M188.89 268.4v4M213.56 534.3v-2M213.56 268.4v2M238.24 534.3v-4M238.24 268.4v4M262.91 534.3v-2M262.91 268.4v2M287.59 534.3v-4M287.59 268.4v4M312.26 534.3v-2M312.26 268.4v2M28.5 294.99h4M324.6 294.99h-4M28.5 321.58h2M324.6 321.58h-2M28.5 348.17h4M324.6 348.17h-4M28.5 374.76h2M324.6 374.76h-2M28.5 401.35h4M324.6 401.35h-4M28.5 427.94h2M324.6 427.94h-2M28.5 454.53h4M324.6 454.53h-4M28.5 481.12h2M324.6 481.12h-2M28.5 507.71h4M324.6 507.71h-4" stroke="#1a1a1a" stroke-width="1.1" fill="none"/>
<rect x="28.5" y="268.4" width="296.10" height="265.90" fill="none" stroke="#1a1a1a" stroke-width="1.1"/>
<path d="M366.61 268.4v-4M366.61 2.5v4M389.42 268.4v-2M389.42 2.5v2M412.24 268.4v-4M412.24 2.5v4M435.05 268.4v-2M435.05 2.5v2M457.87 268.4v-4M457.87 2.5v4M480.68 268.4v-2M480.68 2.5v2M503.50 268.4v-4M503.50 2.5v4M526.32 268.4v-2M526.32 2.5v2M549.13 268.4v-4M549.13 2.5v4M571.95 268.4v-2M571.95 2.5v2M594.76 268.4v-4M594.76 2.5v4M617.58 268.4v-2M617.58 2.5v2M640.39 268.4v-4M640.39 2.5v4M355.2 29.09h4M651.8 29.09h-4M355.2 55.68h2M651.8 55.68h-2M355.2 82.27h4M651.8 82.27h-4M355.2 108.86h2M651.8 108.86h-2M355.2 135.45h4M651.8 135.45h-4M355.2 162.04h2M651.8 162.04h-2M355.2 188.63h4M651.8 188.63h-4M355.2 215.22h2M651.8 215.22h-2M355.2 241.81h4M651.8 241.81h-4" stroke="#1a1a1a" stroke-width="1.1" fill="none"/>
<rect x="355.2" y="2.5" width="296.60" height="265.90" fill="none" stroke="#1a1a1a" stroke-width="1.1"/>
<path d="M366.61 534.3v-4M366.61 268.4v4M389.42 534.3v-2M389.42 268.4v2M412.24 534.3v-4M412.24 268.4v4M435.05 534.3v-2M435.05 268.4v2M457.87 534.3v-4M457.87 268.4v4M480.68 534.3v-2M480.68 268.4v2M503.50 534.3v-4M503.50 268.4v4M526.32 534.3v-2M526.32 268.4v2M549.13 534.3v-4M549.13 268.4v4M571.95 534.3v-2M571.95 268.4v2M594.76 534.3v-4M594.76 268.4v4M617.58 534.3v-2M617.58 268.4v2M640.39 534.3v-4M640.39 268.4v4M355.2 294.99h4M651.8 294.99h-4M355.2 321.58h2M651.8 321.58h-2M355.2 348.17h4M651.8 348.17h-4M355.2 374.76h2M651.8 374.76h-2M355.2 401.35h4M651.8 401.35h-4M355.2 427.94h2M651.8 427.94h-2M355.2 454.53h4M651.8 454.53h-4M355.2 481.12h2M651.8 481.12h-2M355.2 507.71h4M651.8 507.71h-4" stroke="#1a1a1a" stroke-width="1.1" fill="none"/>
<rect x="355.2" y="268.4" width="296.60" height="265.90" fill="none" stroke="#1a1a1a" stroke-width="1.1"/>
<text x="41.14" y="549.6" text-anchor="middle" font-size="13" letter-spacing="0.7">11.52</text>
<text x="90.49" y="549.6" text-anchor="middle" font-size="13" letter-spacing="0.7">11.56</text>
<text x="139.84" y="549.6" text-anchor="middle" font-size="13" letter-spacing="0.7">11.60</text>
<text x="189.19" y="549.6" text-anchor="middle" font-size="13" letter-spacing="0.7">11.64</text>
<text x="238.54" y="549.6" text-anchor="middle" font-size="13" letter-spacing="0.7">11.68</text>
<text x="287.89" y="549.6" text-anchor="middle" font-size="13" letter-spacing="0.7">11.72</text>
<text x="366.91" y="549.6" text-anchor="middle" font-size="13" letter-spacing="0.7">11.52</text>
<text x="412.54" y="549.6" text-anchor="middle" font-size="13" letter-spacing="0.7">11.56</text>
<text x="458.17" y="549.6" text-anchor="middle" font-size="13" letter-spacing="0.7">11.60</text>
<text x="503.80" y="549.6" text-anchor="middle" font-size="13" letter-spacing="0.7">11.64</text>
<text x="549.43" y="549.6" text-anchor="middle" font-size="13" letter-spacing="0.7">11.68</text>
<text x="595.06" y="549.6" text-anchor="middle" font-size="13" letter-spacing="0.7">11.72</text>
<text x="640.69" y="549.6" text-anchor="middle" font-size="13" letter-spacing="0.7">11.76</text>
<text x="36.3" y="24.6" font-size="19.3" letter-spacing="0.45" stroke="#000" stroke-width="0.3">(a) Nb PZT</text>
<text x="364.5" y="24.6" font-size="19.3" letter-spacing="0.45" stroke="#000" stroke-width="0.3">(b) La PZT</text>
<path transform="translate(49.9 49.5) scale(1.12 1)" d="M0 -5.6C0.9 -6.5 1.8 -6.2 2.3 -4.4L4.2 1.7C4.6 2.8 5.5 3 6.4 1.3M5.7 -6.1L0.6 3" stroke="#000" stroke-width="1.05" fill="none"/>
<text x="57.2" y="49.5" font-size="13" letter-spacing="0.5"><tspan font-size="9.9" dx="0.4" dy="-5.2" stroke="#000" stroke-width="0.15">2</tspan><tspan font-size="8.6" font-style="italic" letter-spacing="0.25" dx="0" dy="8.5">red</tspan><tspan dy="-3.3"> = 0.76</tspan></text>
<text x="49.5" y="69.9" font-size="13" letter-spacing="0.5"><tspan font-style="italic">R</tspan><tspan font-size="9" font-style="italic" dy="4.2">p</tspan><tspan dy="-4.2"> = 2.82 %</tspan></text>
<text x="49.5" y="90.3" font-size="13" letter-spacing="0.5"><tspan font-style="italic">R</tspan><tspan font-size="9" font-style="italic" dy="4.2">wp</tspan><tspan dy="-4.2"> = 3.98 %</tspan></text>
<path transform="translate(380.7 49.5) scale(1.12 1)" d="M0 -5.6C0.9 -6.5 1.8 -6.2 2.3 -4.4L4.2 1.7C4.6 2.8 5.5 3 6.4 1.3M5.7 -6.1L0.6 3" stroke="#000" stroke-width="1.05" fill="none"/>
<text x="388.0" y="49.5" font-size="13" letter-spacing="0.5"><tspan font-size="9.9" dx="0.4" dy="-5.2" stroke="#000" stroke-width="0.15">2</tspan><tspan font-size="8.6" font-style="italic" letter-spacing="0.25" dx="0" dy="8.5">red</tspan><tspan dy="-3.3"> = 0.99</tspan></text>
<text x="380.3" y="69.9" font-size="13" letter-spacing="0.5"><tspan font-style="italic">R</tspan><tspan font-size="9" font-style="italic" dy="4.2">p</tspan><tspan dy="-4.2"> = 3.09 %</tspan></text>
<text x="380.3" y="90.3" font-size="13" letter-spacing="0.5"><tspan font-style="italic">R</tspan><tspan font-size="9" font-style="italic" dy="4.2">wp</tspan><tspan dy="-4.2"> = 4.11 %</tspan></text>
<path transform="translate(50.199999999999996 287.2) scale(1.12 1)" d="M0 -5.6C0.9 -6.5 1.8 -6.2 2.3 -4.4L4.2 1.7C4.6 2.8 5.5 3 6.4 1.3M5.7 -6.1L0.6 3" stroke="#000" stroke-width="1.05" fill="none"/>
<text x="57.5" y="287.2" font-size="13" letter-spacing="0.5"><tspan font-size="9.9" dx="0.4" dy="-5.2" stroke="#000" stroke-width="0.15">2</tspan><tspan font-size="8.6" font-style="italic" letter-spacing="0.25" dx="0" dy="8.5">red</tspan><tspan dy="-3.3"> = 0.73</tspan></text>
<text x="49.8" y="307.6" font-size="13" letter-spacing="0.5"><tspan font-style="italic">R</tspan><tspan font-size="9" font-style="italic" dy="4.2">p</tspan><tspan dy="-4.2"> = 2.66 %</tspan></text>
<text x="49.8" y="328.0" font-size="13" letter-spacing="0.5"><tspan font-style="italic">R</tspan><tspan font-size="9" font-style="italic" dy="4.2">wp</tspan><tspan dy="-4.2"> = 3.93 %</tspan></text>
<path transform="translate(380.7 287.2) scale(1.12 1)" d="M0 -5.6C0.9 -6.5 1.8 -6.2 2.3 -4.4L4.2 1.7C4.6 2.8 5.5 3 6.4 1.3M5.7 -6.1L0.6 3" stroke="#000" stroke-width="1.05" fill="none"/>
<text x="388.0" y="287.2" font-size="13" letter-spacing="0.5"><tspan font-size="9.9" dx="0.4" dy="-5.2" stroke="#000" stroke-width="0.15">2</tspan><tspan font-size="8.6" font-style="italic" letter-spacing="0.25" dx="0" dy="8.5">red</tspan><tspan dy="-3.3"> = 0.95</tspan></text>
<text x="380.3" y="307.6" font-size="13" letter-spacing="0.5"><tspan font-style="italic">R</tspan><tspan font-size="9" font-style="italic" dy="4.2">p</tspan><tspan dy="-4.2"> = 2.73 %</tspan></text>
<text x="380.3" y="328.0" font-size="13" letter-spacing="0.5"><tspan font-style="italic">R</tspan><tspan font-size="9" font-style="italic" dy="4.2">wp</tspan><tspan dy="-4.2"> = 4.00 %</tspan></text>
<circle cx="576.2" cy="14.0" r="1.4" fill="#000"/>
<text x="600.3" y="18.6" font-size="13" letter-spacing="0.55">Obs</text>
<line x1="560.2" x2="592.8" y1="31.1" y2="31.1" stroke="#ff0000" stroke-width="1.4"/>
<text x="600.3" y="35.6" font-size="13" letter-spacing="0.55">Calc</text>
<line x1="560.2" x2="592.8" y1="48.5" y2="48.5" stroke="#ff8000" stroke-width="1.4"/>
<text x="600.3" y="53.0" font-size="13" letter-spacing="0.55">Peak1</text>
<line x1="560.2" x2="592.8" y1="65.9" y2="65.9" stroke="#0a800a" stroke-width="1.4"/>
<text x="600.3" y="70.4" font-size="13" letter-spacing="0.55">Peak2</text>
<line x1="560.2" x2="592.8" y1="83.3" y2="83.3" stroke="#0000ff" stroke-width="1.4"/>
<text x="600.3" y="87.8" font-size="13" letter-spacing="0.55">Diff</text>
<circle cx="576.2" cy="279.8" r="1.4" fill="#000"/>
<text x="600.3" y="284.4" font-size="13" letter-spacing="0.55">Obs</text>
<line x1="560.2" x2="592.8" y1="296.9" y2="296.9" stroke="#ff0000" stroke-width="1.4"/>
<text x="600.3" y="301.4" font-size="13" letter-spacing="0.55">Calc</text>
<line x1="560.2" x2="592.8" y1="314.3" y2="314.3" stroke="#ff8000" stroke-width="1.4"/>
<text x="600.3" y="318.8" font-size="13" letter-spacing="0.55">Peak1</text>
<line x1="560.2" x2="592.8" y1="331.7" y2="331.7" stroke="#0a800a" stroke-width="1.4"/>
<text x="600.3" y="336.2" font-size="13" letter-spacing="0.55">Peak2</text>
<line x1="560.2" x2="592.8" y1="349.1" y2="349.1" stroke="#a020d0" stroke-width="1.4"/>
<text x="600.3" y="353.6" font-size="13" letter-spacing="0.55">Peak3</text>
<line x1="560.2" x2="592.8" y1="366.5" y2="366.5" stroke="#0000ff" stroke-width="1.4"/>
<text x="600.3" y="371.0" font-size="13" letter-spacing="0.55">Diff</text>
<text x="176.5" y="580.3" text-anchor="middle" font-size="20">2θ (°)</text>
<text x="503.5" y="580.3" text-anchor="middle" font-size="20">2θ (°)</text>
<text transform="translate(17.2 134.5) rotate(-90)" text-anchor="middle" font-size="19.5" letter-spacing="0.35">Intensity (a.u.)</text>
<text transform="translate(17.2 401) rotate(-90)" text-anchor="middle" font-size="19.5" letter-spacing="0.35">Intensity (a.u.)</text>
</svg>
</body></html>
